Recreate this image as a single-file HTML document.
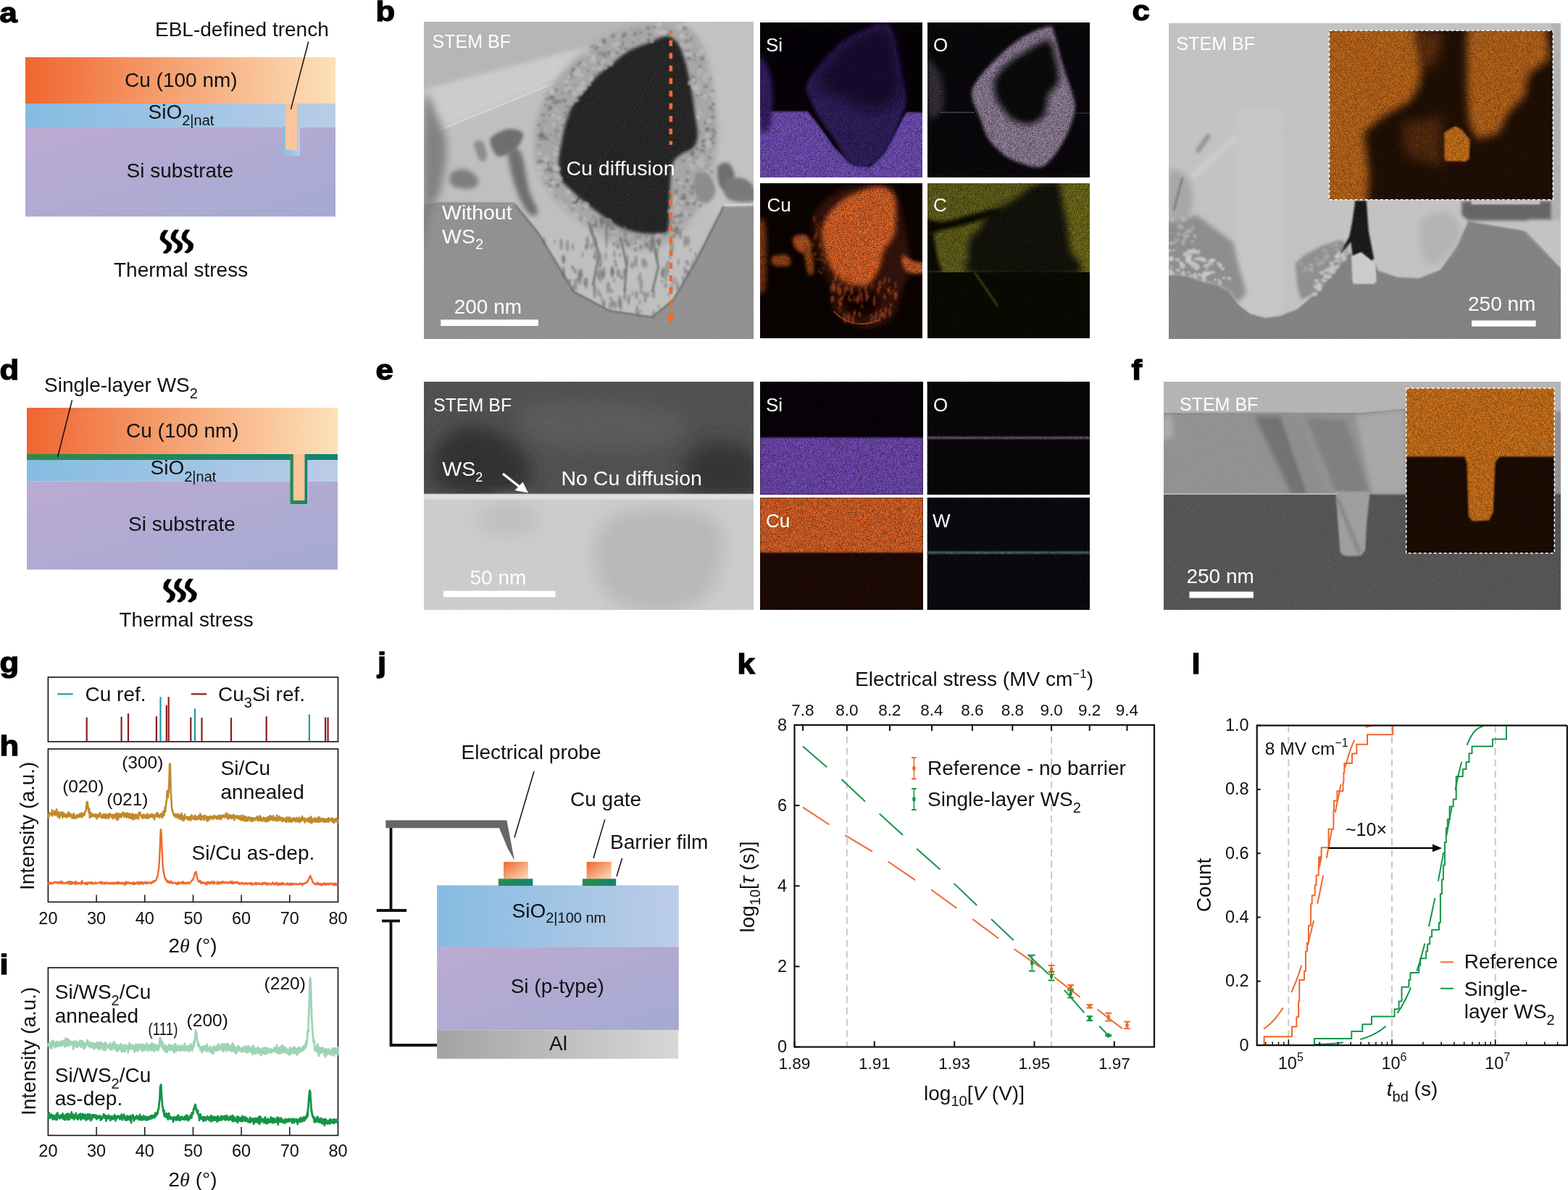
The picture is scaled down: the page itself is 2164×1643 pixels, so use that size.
<!DOCTYPE html>
<html><head><meta charset="utf-8"><title>Figure</title>
<style>html,body{margin:0;padding:0;background:#fff;} svg{display:block;} text{font-family:"Liberation Sans",Arial,sans-serif;}</style>
</head><body>
<svg width="2164" height="1643" viewBox="0 0 2164 1643">
<defs>
<linearGradient id="gCu" x1="0" y1="0" x2="1" y2="0"><stop offset="0" stop-color="#ef6530"/><stop offset="0.5" stop-color="#f6a576"/><stop offset="1" stop-color="#fde0b9"/></linearGradient>
<linearGradient id="gSiO" x1="0" y1="0" x2="1" y2="0"><stop offset="0" stop-color="#85bbe2"/><stop offset="1" stop-color="#bacce7"/></linearGradient>
<linearGradient id="gSi" x1="0" y1="0" x2="1" y2="1"><stop offset="0" stop-color="#bcaad2"/><stop offset="1" stop-color="#a5aad3"/></linearGradient>
<linearGradient id="gGr" x1="0" y1="0" x2="1" y2="0"><stop offset="0" stop-color="#2f8a48"/><stop offset="1" stop-color="#0f8474"/></linearGradient>
<linearGradient id="gAl" x1="0" y1="0" x2="1" y2="0"><stop offset="0" stop-color="#a3a3a3"/><stop offset="1" stop-color="#d8d8d8"/></linearGradient>
<linearGradient id="gCuG" x1="0" y1="0" x2="1" y2="1"><stop offset="0" stop-color="#ef6530"/><stop offset="1" stop-color="#fde0b9"/></linearGradient>
<linearGradient id="gTr" x1="0" y1="0" x2="1" y2="0"><stop offset="0" stop-color="#85bbe2"/><stop offset="1" stop-color="#bacce7"/></linearGradient>
<filter id="bl1" x="-50%" y="-50%" width="200%" height="200%"><feGaussianBlur stdDeviation="1"/></filter><filter id="bl2" x="-50%" y="-50%" width="200%" height="200%"><feGaussianBlur stdDeviation="2"/></filter><filter id="bl3" x="-50%" y="-50%" width="200%" height="200%"><feGaussianBlur stdDeviation="3"/></filter><filter id="bl4" x="-50%" y="-50%" width="200%" height="200%"><feGaussianBlur stdDeviation="4"/></filter><filter id="bl6" x="-50%" y="-50%" width="200%" height="200%"><feGaussianBlur stdDeviation="6"/></filter><filter id="bl8" x="-50%" y="-50%" width="200%" height="200%"><feGaussianBlur stdDeviation="8"/></filter><filter id="bl12" x="-50%" y="-50%" width="200%" height="200%"><feGaussianBlur stdDeviation="12"/></filter><filter id="grain" x="0" y="0" width="100%" height="100%"><feTurbulence type="fractalNoise" baseFrequency="0.9" numOctaves="2" seed="3"/><feColorMatrix type="matrix" values="0 0 0 0 0.5  0 0 0 0 0.5  0 0 0 0 0.5  1.2 0 0 0 -0.35"/></filter><filter id="speck" x="0" y="0" width="100%" height="100%"><feTurbulence type="fractalNoise" baseFrequency="1.1" numOctaves="1" seed="5"/><feColorMatrix type="matrix" values="0 0 0 0 0  0 0 0 0 0  0 0 0 0 0  0 0 0 -2.2 1.25"/></filter><clipPath id="cb"><rect x="585" y="30" width="455" height="438"/></clipPath><filter id="spk" x="0" y="0" width="100%" height="100%"><feTurbulence type="fractalNoise" baseFrequency="1.3" numOctaves="1" seed="11"/><feColorMatrix type="matrix" values="0 0 0 0 0  0 0 0 0 0  0 0 0 0 0  3.2 0 0 0 -1.25"/></filter><clipPath id="cbsi"><rect x="1049" y="31" width="224" height="214"/></clipPath><clipPath id="cbo"><rect x="1280" y="31" width="224" height="214"/></clipPath><clipPath id="cbcu"><rect x="1049" y="253" width="224" height="214"/></clipPath><clipPath id="cbc"><rect x="1280" y="253" width="224" height="214"/></clipPath><clipPath id="cc"><rect x="1613" y="32" width="541" height="436"/></clipPath><clipPath id="cci"><rect x="1834.5" y="42.2" width="308.8000000000002" height="233.60000000000002"/></clipPath><clipPath id="ce"><rect x="585" y="527" width="455" height="315"/></clipPath><clipPath id="cesi"><rect x="1049" y="527" width="225" height="156"/></clipPath><clipPath id="ceo"><rect x="1279.5" y="527" width="224.5" height="156"/></clipPath><clipPath id="cecu"><rect x="1049" y="687" width="225" height="155"/></clipPath><clipPath id="cew"><rect x="1279.5" y="687" width="224.5" height="155"/></clipPath><clipPath id="cf"><rect x="1606" y="527" width="548" height="315"/></clipPath><clipPath id="cfi"><rect x="1940.7014787430685" y="535.8955637707949" width="204.57208872458386" height="227.83826247689456"/></clipPath><linearGradient id="gSiO2" x1="0" y1="0" x2="1" y2="0"><stop offset="0" stop-color="#86bbe2"/><stop offset="1" stop-color="#bccde8"/></linearGradient></defs>
<rect width="2164" height="1643" fill="#fff"/>
<text transform="translate(-0.5,31) scale(1.12,1)" font-size="39" font-weight="bold" fill="#000" stroke="#000" stroke-width="1.3">a</text>
<text transform="translate(518.5,29) scale(1.12,1)" font-size="39" font-weight="bold" fill="#000" stroke="#000" stroke-width="1.3">b</text>
<text transform="translate(1562.5,28) scale(1.12,1)" font-size="39" font-weight="bold" fill="#000" stroke="#000" stroke-width="1.3">c</text>
<text transform="translate(-0.5,524) scale(1.12,1)" font-size="39" font-weight="bold" fill="#000" stroke="#000" stroke-width="1.3">d</text>
<text transform="translate(518.5,524) scale(1.12,1)" font-size="39" font-weight="bold" fill="#000" stroke="#000" stroke-width="1.3">e</text>
<text transform="translate(1561.5,524) scale(1.12,1)" font-size="39" font-weight="bold" fill="#000" stroke="#000" stroke-width="1.3">f</text>
<text transform="translate(-0.5,928) scale(1.12,1)" font-size="39" font-weight="bold" fill="#000" stroke="#000" stroke-width="1.3">g</text>
<text transform="translate(-0.5,1043) scale(1.12,1)" font-size="39" font-weight="bold" fill="#000" stroke="#000" stroke-width="1.3">h</text>
<text transform="translate(-0.5,1345) scale(1.12,1)" font-size="39" font-weight="bold" fill="#000" stroke="#000" stroke-width="1.3">i</text>
<text transform="translate(521.0,928) scale(1.12,1)" font-size="39" font-weight="bold" fill="#000" stroke="#000" stroke-width="1.3">j</text>
<text transform="translate(1017.5,930) scale(1.12,1)" font-size="39" font-weight="bold" fill="#000" stroke="#000" stroke-width="1.3">k</text>
<text transform="translate(1644.5,930) scale(1.12,1)" font-size="39" font-weight="bold" fill="#000" stroke="#000" stroke-width="1.3">l</text>
<rect x="35.0" y="79.0" width="428.0" height="64.0" fill="url(#gCu)" />
<rect x="35.0" y="143.0" width="428.0" height="33.0" fill="url(#gSiO)" />
<rect x="35.0" y="176.0" width="428.0" height="123.0" fill="url(#gSi)" />
<rect x="390.0" y="175.0" width="24.0" height="40.0" fill="url(#gTr)" />
<rect x="394.0" y="143.0" width="16.0" height="64.0" fill="#fbc49a" />
<line x1="425.7" y1="57.5" x2="401.4" y2="150.9" stroke="#111" stroke-width="1.5" />
<text x="214.0" y="50.0" font-size="28" text-anchor="start" fill="#111" >EBL-defined trench</text>
<text x="172.0" y="120.0" font-size="28" text-anchor="start" fill="#111" >Cu (100 nm)</text>
<text x="204.5" y="163.6" font-size="28" text-anchor="start" fill="#111" >SiO<tspan font-size="20" dy="9.5">2|nat</tspan></text>
<text x="174.6" y="245.0" font-size="28" text-anchor="start" fill="#111" >Si substrate</text>
<polygon points="226.5,317.8 222.3,322.6 221.0,328.1 221.2,330.7 224.2,333.9 229.4,337.8 230.4,340.7 229.4,344.3 224.9,348.5 226.8,349.8 230.1,349.8 235.6,345.6 236.9,341.1 236.9,337.5 234.6,334.9 228.1,330.1 227.1,327.8 228.1,324.2 232.0,318.1" fill="#000" stroke="#000" stroke-width="0.6" stroke-linejoin="round"/>
<polygon points="241.4,317.2 237.2,322.0 235.9,327.5 236.1,330.1 239.1,333.3 244.3,337.2 245.3,340.1 244.3,343.7 239.8,347.9 241.7,349.2 245.0,349.2 250.5,345.0 251.8,340.5 251.8,336.9 249.5,334.3 243.0,329.5 242.0,327.2 243.0,323.6 246.9,317.5" fill="#000" stroke="#000" stroke-width="0.6" stroke-linejoin="round"/>
<polygon points="256.3,317.2 252.1,322.0 250.8,327.5 251.0,330.1 254.0,333.3 259.2,337.2 260.2,340.1 259.2,343.7 254.7,347.9 256.6,349.2 259.9,349.2 265.4,345.0 266.7,340.5 266.7,336.9 264.4,334.3 257.9,329.5 256.9,327.2 257.9,323.6 261.8,317.5" fill="#000" stroke="#000" stroke-width="0.6" stroke-linejoin="round"/>
<text x="157.0" y="382.0" font-size="28" text-anchor="start" fill="#111" >Thermal stress</text>
<rect x="37.0" y="563.0" width="429.0" height="64.0" fill="url(#gCu)" />
<rect x="37.0" y="627.0" width="429.0" height="8.0" fill="url(#gGr)" />
<rect x="37.0" y="635.0" width="429.0" height="29.5" fill="url(#gSiO)" />
<rect x="37.0" y="664.5" width="429.0" height="122.0" fill="url(#gSi)" />
<rect x="399.5" y="660.0" width="26.0" height="37.0" fill="url(#gTr)" />
<rect x="400.5" y="627.0" width="23.7" height="69.0" fill="url(#gGr)" />
<rect x="404.8" y="627.0" width="15.7" height="64.0" fill="#fbc49a" />
<line x1="99.5" y1="552.5" x2="79.5" y2="631.0" stroke="#111" stroke-width="1.5" />
<text x="61.0" y="541.0" font-size="28" text-anchor="start" fill="#111" >Single-layer WS<tspan font-size="20" dy="9">2</tspan></text>
<text x="174.0" y="604.0" font-size="28" text-anchor="start" fill="#111" >Cu (100 nm)</text>
<text x="207.5" y="655.0" font-size="28" text-anchor="start" fill="#111" >SiO<tspan font-size="20" dy="9.5">2|nat</tspan></text>
<text x="177.0" y="733.0" font-size="28" text-anchor="start" fill="#111" >Si substrate</text>
<polygon points="231.1,799.8 226.9,804.6 225.6,810.1 225.8,812.7 228.8,815.9 234.0,819.8 235.0,822.7 234.0,826.3 229.5,830.5 231.4,831.8 234.7,831.8 240.2,827.6 241.5,823.1 241.5,819.5 239.2,816.9 232.7,812.1 231.7,809.8 232.7,806.2 236.6,800.1" fill="#000" stroke="#000" stroke-width="0.6" stroke-linejoin="round"/>
<polygon points="246.0,799.2 241.8,804.0 240.5,809.5 240.7,812.1 243.7,815.3 248.9,819.2 249.9,822.1 248.9,825.7 244.4,829.9 246.3,831.2 249.6,831.2 255.1,827.0 256.4,822.5 256.4,818.9 254.1,816.3 247.6,811.5 246.6,809.2 247.6,805.6 251.5,799.5" fill="#000" stroke="#000" stroke-width="0.6" stroke-linejoin="round"/>
<polygon points="260.9,799.2 256.7,804.0 255.4,809.5 255.6,812.1 258.6,815.3 263.8,819.2 264.8,822.1 263.8,825.7 259.3,829.9 261.2,831.2 264.5,831.2 270.0,827.0 271.3,822.5 271.3,818.9 269.0,816.3 262.5,811.5 261.5,809.2 262.5,805.6 266.4,799.5" fill="#000" stroke="#000" stroke-width="0.6" stroke-linejoin="round"/>
<text x="164.5" y="865.0" font-size="28" text-anchor="start" fill="#111" >Thermal stress</text>
<g clip-path="url(#cb)">
<rect x="585.0" y="30.0" width="455.0" height="438.0" fill="#b6b6b6" />
<polygon points="560.0,190.0 612.0,177.0 815.0,94.0 1060.0,40.0 1060.0,480.0 560.0,480.0" fill="#c0c0c0" />
<polygon points="560.0,130.0 815.0,63.0 1060.0,5.0 1060.0,40.0 815.0,94.0 612.0,177.0 560.0,192.0" fill="#cecece" filter="url(#bl3)"/>
<polyline points="585,188 612,177 815,94 1060,40" fill="none" stroke="#d8d8d8" stroke-width="2"/>
<path d="M965.0,20.0 C979.2,6.7 1044.2,-26.7 1060.0,20.0 C1075.8,66.7 1074.2,255.0 1060.0,300.0 C1045.8,345.0 987.5,306.7 975.0,290.0 C962.5,273.3 985.0,231.7 985.0,200.0 C985.0,168.3 978.3,130.0 975.0,100.0 C971.7,70.0 950.8,33.3 965.0,20.0 Z" fill="#c3c3c3" filter="url(#bl8)"/>
<polygon points="563.8,292.2 604.7,280.5 709.9,282.0 742.1,321.4 791.8,403.2 841.4,429.5 899.9,438.3 929.1,414.9 958.3,365.3 999.2,284.9 1060.6,282.0 1060.6,496.8 563.8,496.8" fill="#8f8f8f" filter="url(#bl2)"/>
<path d="M584.9,140.3 C588.2,111.5 599.5,152.9 604.7,163.6 C610.0,174.4 615.9,188.0 616.4,204.5 C616.9,221.1 611.6,248.4 607.7,263.0 C603.8,277.6 596.9,280.0 593.1,292.2 C589.3,304.4 586.2,361.4 584.9,336.0 C583.5,310.7 581.6,169.0 584.9,140.3 Z" fill="#6e6e6e" filter="url(#bl6)" opacity="0.8"/>
<path d="M915.0,32.0 C929.2,32.3 945.0,32.0 955.0,40.0 C965.0,48.0 970.0,65.0 975.0,80.0 C980.0,95.0 982.5,113.3 985.0,130.0 C987.5,146.7 990.0,163.3 990.0,180.0 C990.0,196.7 987.5,215.0 985.0,230.0 C982.5,245.0 980.0,258.3 975.0,270.0 C970.0,281.7 962.5,290.0 955.0,300.0 C947.5,310.0 942.5,322.5 930.0,330.0 C917.5,337.5 895.0,345.0 880.0,345.0 C865.0,345.0 853.3,336.7 840.0,330.0 C826.7,323.3 812.5,314.2 800.0,305.0 C787.5,295.8 774.7,286.7 765.0,275.0 C755.3,263.3 746.5,250.8 742.0,235.0 C737.5,219.2 736.3,196.7 738.0,180.0 C739.7,163.3 745.0,149.2 752.0,135.0 C759.0,120.8 768.7,107.5 780.0,95.0 C791.3,82.5 805.0,69.5 820.0,60.0 C835.0,50.5 854.2,42.7 870.0,38.0 C885.8,33.3 900.8,31.7 915.0,32.0 Z" fill="#a6a6a6" filter="url(#bl4)"/>
<path d="M918.9,50.1 C912.5,50.4 903.7,55.9 895.2,59.2 C886.7,62.6 876.6,65.0 867.8,70.2 C859.0,75.4 849.8,84.2 842.2,90.3 C834.6,96.4 828.9,100.0 822.2,106.7 C815.5,113.4 807.6,123.7 802.1,130.4 C796.6,137.1 792.9,139.9 789.3,146.9 C785.6,153.9 782.6,163.9 780.2,172.4 C777.8,180.9 776.2,189.8 774.7,198.0 C773.2,206.2 771.3,213.8 771.0,221.7 C770.7,229.6 770.5,239.0 772.9,245.4 C775.3,251.8 780.4,254.8 785.6,260.0 C790.8,265.2 797.8,271.3 803.9,276.5 C810.0,281.7 816.1,286.5 822.2,291.1 C828.3,295.7 834.3,299.9 840.4,303.9 C846.5,307.8 851.1,311.8 858.7,314.8 C866.3,317.8 877.0,320.9 886.1,322.1 C895.2,323.3 907.4,323.3 913.5,322.1 C919.6,320.9 920.8,323.9 922.6,314.8 C924.4,305.7 923.5,282.0 924.4,267.4 C925.3,252.8 925.4,236.3 928.1,227.2 C930.8,218.1 935.9,216.5 940.8,212.6 C945.7,208.7 953.6,208.1 957.3,203.5 C961.0,198.9 962.5,192.8 962.8,185.2 C963.1,177.6 960.3,166.9 959.1,157.8 C957.9,148.7 956.9,139.5 955.4,130.4 C953.9,121.3 952.1,112.1 950.0,103.0 C947.9,93.9 945.5,83.2 942.7,75.6 C940.0,68.0 937.5,61.6 933.5,57.4 C929.5,53.1 925.3,49.8 918.9,50.1 Z" fill="#1c1c1c" filter="url(#bl2)"/>
<line x1="795" y1="280" x2="925" y2="70" stroke="#262626" stroke-width="1.5" filter="url(#bl1)"/>
<g filter="url(#bl1)"><ellipse cx="792.4" cy="280.1" rx="3.1" ry="2.8" fill="#626262" opacity="0.45"/><ellipse cx="885.5" cy="53.7" rx="3.0" ry="2.2" fill="#626262" opacity="0.45"/><ellipse cx="958.5" cy="224.8" rx="1.3" ry="1.0" fill="#626262" opacity="0.45"/><ellipse cx="863.4" cy="68.2" rx="3.4" ry="2.8" fill="#626262" opacity="0.45"/><ellipse cx="956.2" cy="105.5" rx="3.0" ry="2.2" fill="#626262" opacity="0.45"/><ellipse cx="928.2" cy="270.8" rx="2.5" ry="2.6" fill="#626262" opacity="0.45"/><ellipse cx="768.9" cy="181.1" rx="3.1" ry="2.2" fill="#626262" opacity="0.45"/><ellipse cx="815.3" cy="64.3" rx="1.4" ry="1.5" fill="#626262" opacity="0.45"/><ellipse cx="980.3" cy="216.8" rx="3.2" ry="2.9" fill="#626262" opacity="0.45"/><ellipse cx="958.8" cy="82.8" rx="1.4" ry="1.5" fill="#626262" opacity="0.45"/><ellipse cx="948.9" cy="48.3" rx="1.8" ry="1.4" fill="#626262" opacity="0.45"/><ellipse cx="843.7" cy="85.4" rx="1.4" ry="1.1" fill="#626262" opacity="0.45"/><ellipse cx="949.2" cy="280.9" rx="3.2" ry="3.1" fill="#626262" opacity="0.45"/><ellipse cx="910.7" cy="330.6" rx="1.3" ry="1.2" fill="#626262" opacity="0.45"/><ellipse cx="966.2" cy="73.8" rx="1.4" ry="0.9" fill="#626262" opacity="0.45"/><ellipse cx="744.4" cy="171.9" rx="1.5" ry="1.7" fill="#626262" opacity="0.45"/><ellipse cx="876.6" cy="46.5" rx="2.8" ry="3.2" fill="#626262" opacity="0.45"/><ellipse cx="933.1" cy="279.5" rx="1.2" ry="1.1" fill="#626262" opacity="0.45"/><ellipse cx="965.0" cy="124.3" rx="2.4" ry="2.2" fill="#626262" opacity="0.45"/><ellipse cx="984.2" cy="143.2" rx="1.9" ry="2.3" fill="#626262" opacity="0.45"/><ellipse cx="894.6" cy="38.2" rx="2.7" ry="2.3" fill="#626262" opacity="0.45"/><ellipse cx="750.3" cy="167.8" rx="1.8" ry="1.8" fill="#626262" opacity="0.45"/><ellipse cx="944.0" cy="258.5" rx="2.2" ry="1.7" fill="#626262" opacity="0.45"/><ellipse cx="897.2" cy="333.5" rx="1.4" ry="1.2" fill="#626262" opacity="0.45"/><ellipse cx="962.4" cy="276.0" rx="2.6" ry="2.8" fill="#626262" opacity="0.45"/><ellipse cx="836.6" cy="77.5" rx="2.5" ry="1.6" fill="#626262" opacity="0.45"/><ellipse cx="977.7" cy="132.8" rx="1.8" ry="2.0" fill="#626262" opacity="0.45"/><ellipse cx="975.1" cy="178.2" rx="2.2" ry="2.1" fill="#626262" opacity="0.45"/><ellipse cx="808.7" cy="86.6" rx="2.1" ry="1.6" fill="#626262" opacity="0.45"/><ellipse cx="973.6" cy="252.5" rx="1.2" ry="1.1" fill="#626262" opacity="0.45"/><ellipse cx="747.9" cy="222.3" rx="2.8" ry="2.1" fill="#626262" opacity="0.45"/><ellipse cx="739.9" cy="202.4" rx="1.4" ry="1.1" fill="#626262" opacity="0.45"/><ellipse cx="852.4" cy="312.0" rx="2.1" ry="1.4" fill="#626262" opacity="0.45"/><ellipse cx="937.5" cy="289.4" rx="2.4" ry="1.5" fill="#626262" opacity="0.45"/><ellipse cx="785.3" cy="158.1" rx="2.5" ry="1.8" fill="#626262" opacity="0.45"/><ellipse cx="940.2" cy="296.0" rx="3.3" ry="3.8" fill="#626262" opacity="0.45"/><ellipse cx="742.4" cy="214.2" rx="1.4" ry="1.6" fill="#626262" opacity="0.45"/><ellipse cx="926.2" cy="269.7" rx="1.6" ry="1.0" fill="#626262" opacity="0.45"/><ellipse cx="943.4" cy="221.8" rx="2.6" ry="2.3" fill="#626262" opacity="0.45"/><ellipse cx="755.0" cy="192.2" rx="2.8" ry="2.0" fill="#626262" opacity="0.45"/><ellipse cx="747.4" cy="187.0" rx="2.8" ry="2.7" fill="#626262" opacity="0.45"/><ellipse cx="972.6" cy="200.6" rx="2.1" ry="2.2" fill="#626262" opacity="0.45"/><ellipse cx="941.3" cy="315.7" rx="2.8" ry="2.0" fill="#626262" opacity="0.45"/><ellipse cx="934.0" cy="314.6" rx="2.4" ry="2.8" fill="#626262" opacity="0.45"/><ellipse cx="982.5" cy="154.1" rx="3.4" ry="3.9" fill="#626262" opacity="0.45"/><ellipse cx="972.6" cy="199.8" rx="3.2" ry="2.3" fill="#626262" opacity="0.45"/><ellipse cx="933.4" cy="263.6" rx="3.2" ry="2.6" fill="#626262" opacity="0.45"/><ellipse cx="758.9" cy="158.9" rx="1.6" ry="1.5" fill="#626262" opacity="0.45"/><ellipse cx="971.8" cy="195.7" rx="3.3" ry="3.0" fill="#626262" opacity="0.45"/><ellipse cx="932.3" cy="267.2" rx="2.7" ry="2.0" fill="#626262" opacity="0.45"/><ellipse cx="787.6" cy="103.1" rx="2.9" ry="3.1" fill="#626262" opacity="0.45"/><ellipse cx="859.7" cy="49.2" rx="2.1" ry="2.2" fill="#626262" opacity="0.45"/><ellipse cx="956.0" cy="267.2" rx="2.1" ry="1.5" fill="#626262" opacity="0.45"/><ellipse cx="935.0" cy="280.2" rx="3.3" ry="2.4" fill="#626262" opacity="0.45"/><ellipse cx="757.5" cy="128.4" rx="2.7" ry="1.8" fill="#626262" opacity="0.45"/><ellipse cx="793.0" cy="96.8" rx="2.3" ry="2.4" fill="#626262" opacity="0.45"/><ellipse cx="830.8" cy="92.5" rx="1.5" ry="1.0" fill="#626262" opacity="0.45"/><ellipse cx="903.0" cy="38.6" rx="2.9" ry="2.7" fill="#626262" opacity="0.45"/><ellipse cx="980.5" cy="149.0" rx="2.7" ry="2.6" fill="#626262" opacity="0.45"/><ellipse cx="928.3" cy="231.0" rx="2.3" ry="2.0" fill="#626262" opacity="0.45"/><ellipse cx="794.3" cy="279.1" rx="1.2" ry="1.2" fill="#626262" opacity="0.45"/><ellipse cx="759.9" cy="185.4" rx="1.6" ry="1.7" fill="#626262" opacity="0.45"/><ellipse cx="872.7" cy="68.2" rx="2.1" ry="2.3" fill="#626262" opacity="0.45"/><ellipse cx="873.8" cy="58.6" rx="1.8" ry="1.7" fill="#626262" opacity="0.45"/><ellipse cx="746.6" cy="188.0" rx="3.3" ry="3.5" fill="#626262" opacity="0.45"/><ellipse cx="779.3" cy="138.7" rx="2.7" ry="2.7" fill="#626262" opacity="0.45"/><ellipse cx="760.8" cy="133.7" rx="3.0" ry="3.2" fill="#626262" opacity="0.45"/><ellipse cx="775.6" cy="128.5" rx="1.5" ry="1.5" fill="#626262" opacity="0.45"/><ellipse cx="832.3" cy="302.8" rx="2.2" ry="2.2" fill="#626262" opacity="0.45"/><ellipse cx="956.9" cy="137.4" rx="2.7" ry="2.0" fill="#626262" opacity="0.45"/><ellipse cx="820.8" cy="311.0" rx="3.1" ry="2.2" fill="#626262" opacity="0.45"/><ellipse cx="908.3" cy="333.8" rx="3.2" ry="2.4" fill="#626262" opacity="0.45"/><ellipse cx="780.2" cy="155.8" rx="2.6" ry="2.0" fill="#626262" opacity="0.45"/><ellipse cx="805.3" cy="280.6" rx="2.6" ry="2.7" fill="#626262" opacity="0.45"/><ellipse cx="937.1" cy="305.0" rx="3.3" ry="3.6" fill="#626262" opacity="0.45"/><ellipse cx="984.6" cy="188.3" rx="2.8" ry="2.6" fill="#626262" opacity="0.45"/><ellipse cx="982.3" cy="237.0" rx="2.2" ry="2.2" fill="#626262" opacity="0.45"/><ellipse cx="812.3" cy="72.5" rx="2.1" ry="1.4" fill="#626262" opacity="0.45"/><ellipse cx="750.2" cy="231.3" rx="1.5" ry="1.3" fill="#626262" opacity="0.45"/><ellipse cx="767.2" cy="141.2" rx="2.8" ry="3.1" fill="#626262" opacity="0.45"/><ellipse cx="772.0" cy="140.0" rx="3.4" ry="2.7" fill="#626262" opacity="0.45"/><ellipse cx="780.1" cy="140.3" rx="1.7" ry="1.0" fill="#626262" opacity="0.45"/><ellipse cx="952.1" cy="297.1" rx="2.6" ry="1.8" fill="#626262" opacity="0.45"/><ellipse cx="972.0" cy="128.5" rx="1.8" ry="1.3" fill="#626262" opacity="0.45"/><ellipse cx="953.4" cy="265.5" rx="2.9" ry="2.1" fill="#626262" opacity="0.45"/><ellipse cx="893.2" cy="339.3" rx="3.2" ry="3.7" fill="#626262" opacity="0.45"/><ellipse cx="759.4" cy="255.7" rx="2.3" ry="2.7" fill="#626262" opacity="0.45"/><ellipse cx="920.1" cy="41.7" rx="1.9" ry="1.3" fill="#626262" opacity="0.45"/><ellipse cx="981.2" cy="169.9" rx="2.5" ry="2.1" fill="#626262" opacity="0.45"/><ellipse cx="785.0" cy="125.4" rx="3.0" ry="2.2" fill="#626262" opacity="0.45"/><ellipse cx="778.2" cy="160.7" rx="1.9" ry="1.5" fill="#626262" opacity="0.45"/><ellipse cx="767.2" cy="198.9" rx="1.3" ry="0.9" fill="#626262" opacity="0.45"/><ellipse cx="788.9" cy="107.2" rx="2.0" ry="1.5" fill="#626262" opacity="0.45"/><ellipse cx="948.9" cy="238.0" rx="2.3" ry="2.4" fill="#626262" opacity="0.45"/><ellipse cx="897.5" cy="322.4" rx="1.8" ry="1.8" fill="#626262" opacity="0.45"/><ellipse cx="984.2" cy="197.3" rx="3.3" ry="2.2" fill="#626262" opacity="0.45"/><ellipse cx="802.8" cy="302.9" rx="2.7" ry="2.6" fill="#626262" opacity="0.45"/><ellipse cx="767.2" cy="123.7" rx="3.4" ry="2.5" fill="#626262" opacity="0.45"/><ellipse cx="833.0" cy="93.6" rx="2.7" ry="3.3" fill="#626262" opacity="0.45"/><ellipse cx="972.7" cy="229.1" rx="3.2" ry="2.8" fill="#626262" opacity="0.45"/><ellipse cx="753.0" cy="145.4" rx="2.1" ry="1.7" fill="#626262" opacity="0.45"/><ellipse cx="845.8" cy="49.9" rx="2.8" ry="3.2" fill="#626262" opacity="0.45"/><ellipse cx="797.0" cy="90.1" rx="2.0" ry="2.1" fill="#626262" opacity="0.45"/><ellipse cx="795.1" cy="273.3" rx="1.6" ry="1.5" fill="#626262" opacity="0.45"/><ellipse cx="954.6" cy="220.1" rx="1.6" ry="1.3" fill="#626262" opacity="0.45"/><ellipse cx="822.9" cy="68.0" rx="2.1" ry="2.1" fill="#626262" opacity="0.45"/><ellipse cx="858.3" cy="58.3" rx="2.9" ry="2.4" fill="#626262" opacity="0.45"/><ellipse cx="818.4" cy="63.7" rx="2.1" ry="2.1" fill="#626262" opacity="0.45"/><ellipse cx="943.6" cy="270.4" rx="3.2" ry="3.5" fill="#626262" opacity="0.45"/><ellipse cx="934.8" cy="321.2" rx="3.0" ry="2.5" fill="#626262" opacity="0.45"/><ellipse cx="965.9" cy="91.4" rx="2.0" ry="2.2" fill="#626262" opacity="0.45"/><ellipse cx="850.5" cy="333.0" rx="1.4" ry="1.1" fill="#626262" opacity="0.45"/><ellipse cx="976.6" cy="178.9" rx="3.0" ry="3.6" fill="#626262" opacity="0.45"/><ellipse cx="821.0" cy="103.2" rx="1.8" ry="1.9" fill="#626262" opacity="0.45"/><ellipse cx="773.2" cy="203.1" rx="3.3" ry="2.4" fill="#626262" opacity="0.45"/><ellipse cx="981.5" cy="192.7" rx="2.3" ry="2.7" fill="#626262" opacity="0.45"/><ellipse cx="795.2" cy="118.5" rx="1.7" ry="1.2" fill="#626262" opacity="0.45"/><ellipse cx="922.0" cy="48.1" rx="2.6" ry="2.5" fill="#626262" opacity="0.45"/><ellipse cx="971.7" cy="120.0" rx="1.4" ry="1.3" fill="#626262" opacity="0.45"/><ellipse cx="970.3" cy="247.2" rx="3.1" ry="2.3" fill="#626262" opacity="0.45"/><ellipse cx="744.3" cy="200.8" rx="1.5" ry="1.8" fill="#626262" opacity="0.45"/><ellipse cx="896.4" cy="47.8" rx="2.9" ry="2.3" fill="#626262" opacity="0.45"/><ellipse cx="899.3" cy="328.8" rx="1.6" ry="1.4" fill="#626262" opacity="0.45"/><ellipse cx="969.3" cy="77.0" rx="1.8" ry="1.1" fill="#626262" opacity="0.45"/><ellipse cx="817.1" cy="302.7" rx="1.5" ry="1.2" fill="#626262" opacity="0.45"/><ellipse cx="843.5" cy="330.9" rx="1.9" ry="1.6" fill="#626262" opacity="0.45"/><ellipse cx="790.2" cy="288.5" rx="1.6" ry="1.8" fill="#626262" opacity="0.45"/><ellipse cx="958.9" cy="115.5" rx="2.4" ry="2.4" fill="#626262" opacity="0.45"/><ellipse cx="748.7" cy="182.7" rx="3.4" ry="4.0" fill="#626262" opacity="0.45"/><ellipse cx="974.0" cy="121.0" rx="1.2" ry="0.9" fill="#626262" opacity="0.45"/><ellipse cx="754.9" cy="136.6" rx="2.9" ry="2.3" fill="#626262" opacity="0.45"/><ellipse cx="867.0" cy="337.2" rx="3.1" ry="3.2" fill="#626262" opacity="0.45"/><ellipse cx="832.9" cy="55.9" rx="3.2" ry="3.5" fill="#626262" opacity="0.45"/><ellipse cx="931.3" cy="300.9" rx="2.5" ry="3.0" fill="#626262" opacity="0.45"/><ellipse cx="758.3" cy="150.4" rx="2.5" ry="2.7" fill="#626262" opacity="0.45"/><ellipse cx="938.7" cy="219.9" rx="1.2" ry="1.2" fill="#626262" opacity="0.45"/><ellipse cx="766.9" cy="271.0" rx="1.6" ry="1.6" fill="#626262" opacity="0.45"/><ellipse cx="756.0" cy="224.3" rx="2.1" ry="2.1" fill="#626262" opacity="0.45"/><ellipse cx="771.6" cy="246.7" rx="3.3" ry="2.4" fill="#626262" opacity="0.45"/><ellipse cx="934.7" cy="297.6" rx="3.5" ry="3.3" fill="#626262" opacity="0.45"/><ellipse cx="757.6" cy="234.5" rx="3.0" ry="2.5" fill="#626262" opacity="0.45"/><ellipse cx="929.9" cy="306.2" rx="3.2" ry="2.6" fill="#626262" opacity="0.45"/><ellipse cx="951.5" cy="79.8" rx="2.5" ry="2.1" fill="#626262" opacity="0.45"/><ellipse cx="956.2" cy="258.1" rx="2.7" ry="3.0" fill="#626262" opacity="0.45"/><ellipse cx="763.9" cy="141.8" rx="1.7" ry="1.7" fill="#626262" opacity="0.45"/><ellipse cx="768.1" cy="171.8" rx="2.5" ry="1.7" fill="#626262" opacity="0.45"/><ellipse cx="984.1" cy="145.0" rx="2.2" ry="1.7" fill="#626262" opacity="0.45"/><ellipse cx="953.2" cy="54.4" rx="2.0" ry="2.0" fill="#626262" opacity="0.45"/><ellipse cx="860.0" cy="51.6" rx="1.9" ry="1.6" fill="#626262" opacity="0.45"/><ellipse cx="958.4" cy="280.9" rx="3.5" ry="2.6" fill="#626262" opacity="0.45"/><ellipse cx="978.4" cy="171.2" rx="2.0" ry="1.8" fill="#626262" opacity="0.45"/><ellipse cx="748.5" cy="177.7" rx="1.4" ry="1.6" fill="#626262" opacity="0.45"/><ellipse cx="792.2" cy="278.3" rx="2.6" ry="2.2" fill="#626262" opacity="0.45"/><ellipse cx="983.4" cy="170.5" rx="1.5" ry="1.1" fill="#626262" opacity="0.45"/><ellipse cx="864.2" cy="332.3" rx="2.6" ry="2.7" fill="#626262" opacity="0.45"/><ellipse cx="783.2" cy="147.7" rx="2.5" ry="2.1" fill="#626262" opacity="0.45"/><ellipse cx="770.5" cy="238.2" rx="3.5" ry="2.7" fill="#626262" opacity="0.45"/><ellipse cx="874.6" cy="338.7" rx="1.5" ry="1.1" fill="#626262" opacity="0.45"/><ellipse cx="963.9" cy="118.7" rx="2.7" ry="2.8" fill="#626262" opacity="0.45"/><ellipse cx="929.3" cy="319.5" rx="2.8" ry="2.5" fill="#626262" opacity="0.45"/><ellipse cx="763.5" cy="196.9" rx="1.5" ry="1.2" fill="#626262" opacity="0.45"/><ellipse cx="746.9" cy="193.2" rx="2.3" ry="1.8" fill="#626262" opacity="0.45"/><ellipse cx="969.3" cy="80.9" rx="3.2" ry="3.1" fill="#626262" opacity="0.45"/><ellipse cx="886.9" cy="60.4" rx="1.8" ry="1.4" fill="#626262" opacity="0.45"/><ellipse cx="975.3" cy="108.4" rx="2.4" ry="2.0" fill="#626262" opacity="0.45"/><ellipse cx="874.8" cy="340.3" rx="1.4" ry="1.7" fill="#626262" opacity="0.45"/><ellipse cx="981.6" cy="172.3" rx="1.4" ry="1.2" fill="#626262" opacity="0.45"/><ellipse cx="927.7" cy="276.1" rx="1.5" ry="1.4" fill="#626262" opacity="0.45"/><ellipse cx="963.5" cy="240.6" rx="2.0" ry="1.9" fill="#626262" opacity="0.45"/><ellipse cx="962.8" cy="268.2" rx="1.7" ry="1.3" fill="#626262" opacity="0.45"/><ellipse cx="759.5" cy="136.9" rx="1.6" ry="1.2" fill="#626262" opacity="0.45"/><ellipse cx="945.2" cy="39.0" rx="3.3" ry="2.3" fill="#626262" opacity="0.45"/><ellipse cx="984.0" cy="179.4" rx="2.6" ry="2.8" fill="#626262" opacity="0.45"/><ellipse cx="802.6" cy="127.3" rx="3.2" ry="3.6" fill="#626262" opacity="0.45"/><ellipse cx="824.4" cy="64.6" rx="3.1" ry="2.0" fill="#626262" opacity="0.45"/><ellipse cx="827.8" cy="86.4" rx="2.8" ry="3.2" fill="#626262" opacity="0.45"/><ellipse cx="840.7" cy="324.5" rx="1.3" ry="0.9" fill="#626262" opacity="0.45"/><ellipse cx="851.9" cy="46.1" rx="2.5" ry="1.6" fill="#626262" opacity="0.45"/><ellipse cx="752.7" cy="189.3" rx="1.2" ry="1.4" fill="#626262" opacity="0.45"/><ellipse cx="968.0" cy="130.5" rx="3.1" ry="2.1" fill="#626262" opacity="0.45"/><ellipse cx="908.1" cy="329.9" rx="2.6" ry="2.2" fill="#626262" opacity="0.45"/><ellipse cx="760.5" cy="223.9" rx="1.5" ry="1.0" fill="#626262" opacity="0.45"/><ellipse cx="877.9" cy="327.6" rx="1.8" ry="2.0" fill="#626262" opacity="0.45"/><ellipse cx="950.3" cy="79.8" rx="3.3" ry="3.5" fill="#626262" opacity="0.45"/><ellipse cx="972.9" cy="169.8" rx="2.4" ry="2.6" fill="#626262" opacity="0.45"/><ellipse cx="783.4" cy="161.6" rx="3.0" ry="2.6" fill="#626262" opacity="0.45"/><ellipse cx="834.2" cy="73.4" rx="2.1" ry="2.4" fill="#626262" opacity="0.45"/><ellipse cx="934.3" cy="317.4" rx="3.1" ry="2.7" fill="#626262" opacity="0.45"/><ellipse cx="851.8" cy="72.6" rx="2.4" ry="2.7" fill="#626262" opacity="0.45"/><ellipse cx="786.0" cy="130.7" rx="1.4" ry="1.2" fill="#626262" opacity="0.45"/><ellipse cx="836.2" cy="306.1" rx="2.1" ry="2.4" fill="#626262" opacity="0.45"/><ellipse cx="763.6" cy="136.4" rx="3.4" ry="2.6" fill="#626262" opacity="0.45"/><ellipse cx="962.3" cy="217.8" rx="1.5" ry="1.6" fill="#626262" opacity="0.45"/><ellipse cx="883.2" cy="327.3" rx="2.4" ry="1.9" fill="#626262" opacity="0.45"/><ellipse cx="956.2" cy="260.8" rx="1.7" ry="1.7" fill="#626262" opacity="0.45"/><ellipse cx="955.6" cy="212.2" rx="3.4" ry="3.1" fill="#626262" opacity="0.45"/><ellipse cx="928.3" cy="326.8" rx="3.0" ry="2.7" fill="#626262" opacity="0.45"/><ellipse cx="941.5" cy="315.7" rx="3.0" ry="2.6" fill="#626262" opacity="0.45"/><ellipse cx="880.1" cy="40.0" rx="1.6" ry="1.3" fill="#626262" opacity="0.45"/><ellipse cx="810.6" cy="84.5" rx="2.9" ry="3.5" fill="#626262" opacity="0.45"/><ellipse cx="948.7" cy="210.7" rx="1.6" ry="1.6" fill="#626262" opacity="0.45"/><ellipse cx="833.0" cy="76.5" rx="2.5" ry="1.9" fill="#626262" opacity="0.45"/><ellipse cx="878.0" cy="341.8" rx="1.7" ry="1.2" fill="#626262" opacity="0.45"/><ellipse cx="754.2" cy="253.0" rx="1.9" ry="1.4" fill="#626262" opacity="0.45"/><ellipse cx="972.9" cy="197.0" rx="1.7" ry="1.8" fill="#626262" opacity="0.45"/><ellipse cx="969.8" cy="194.5" rx="2.0" ry="1.8" fill="#626262" opacity="0.45"/><ellipse cx="800.9" cy="86.9" rx="2.9" ry="2.5" fill="#626262" opacity="0.45"/><ellipse cx="743.7" cy="224.1" rx="3.1" ry="3.4" fill="#626262" opacity="0.45"/><ellipse cx="796.1" cy="134.9" rx="1.5" ry="1.0" fill="#626262" opacity="0.45"/><ellipse cx="965.3" cy="63.4" rx="1.2" ry="1.2" fill="#626262" opacity="0.45"/><ellipse cx="759.8" cy="148.0" rx="2.8" ry="2.7" fill="#626262" opacity="0.45"/><ellipse cx="811.5" cy="98.1" rx="2.4" ry="1.5" fill="#626262" opacity="0.45"/><ellipse cx="949.0" cy="249.7" rx="3.1" ry="2.9" fill="#626262" opacity="0.45"/><ellipse cx="847.8" cy="48.0" rx="2.2" ry="1.6" fill="#626262" opacity="0.45"/><ellipse cx="978.6" cy="241.4" rx="2.2" ry="2.1" fill="#626262" opacity="0.45"/><ellipse cx="803.7" cy="299.6" rx="3.0" ry="2.6" fill="#626262" opacity="0.45"/><ellipse cx="932.2" cy="293.4" rx="3.3" ry="2.2" fill="#626262" opacity="0.45"/><ellipse cx="966.7" cy="100.4" rx="1.5" ry="1.2" fill="#626262" opacity="0.45"/><ellipse cx="900.2" cy="334.7" rx="3.0" ry="3.3" fill="#626262" opacity="0.45"/><ellipse cx="777.9" cy="137.4" rx="1.8" ry="1.5" fill="#626262" opacity="0.45"/><ellipse cx="891.3" cy="336.1" rx="2.2" ry="1.5" fill="#626262" opacity="0.45"/><ellipse cx="858.0" cy="60.9" rx="2.8" ry="2.0" fill="#626262" opacity="0.45"/><ellipse cx="758.7" cy="229.1" rx="3.3" ry="3.5" fill="#626262" opacity="0.45"/><ellipse cx="855.5" cy="66.9" rx="2.3" ry="2.5" fill="#626262" opacity="0.45"/><ellipse cx="803.7" cy="287.9" rx="1.8" ry="1.9" fill="#626262" opacity="0.45"/><ellipse cx="749.6" cy="213.5" rx="1.3" ry="1.3" fill="#626262" opacity="0.45"/><ellipse cx="843.3" cy="315.2" rx="2.1" ry="2.3" fill="#626262" opacity="0.45"/><ellipse cx="967.6" cy="206.8" rx="1.4" ry="1.3" fill="#626262" opacity="0.45"/><ellipse cx="769.4" cy="191.9" rx="1.7" ry="1.6" fill="#626262" opacity="0.45"/><ellipse cx="895.3" cy="55.7" rx="2.8" ry="3.2" fill="#626262" opacity="0.45"/><ellipse cx="750.3" cy="229.0" rx="1.5" ry="1.7" fill="#626262" opacity="0.45"/><ellipse cx="763.6" cy="226.9" rx="2.5" ry="1.5" fill="#626262" opacity="0.45"/><ellipse cx="766.7" cy="187.2" rx="2.1" ry="1.5" fill="#626262" opacity="0.45"/><ellipse cx="943.1" cy="74.9" rx="2.9" ry="2.0" fill="#626262" opacity="0.45"/><ellipse cx="943.8" cy="273.3" rx="3.2" ry="2.7" fill="#626262" opacity="0.45"/><ellipse cx="983.7" cy="161.7" rx="2.7" ry="2.9" fill="#626262" opacity="0.45"/><ellipse cx="781.4" cy="116.7" rx="1.7" ry="1.1" fill="#626262" opacity="0.45"/><ellipse cx="943.5" cy="296.2" rx="2.9" ry="2.5" fill="#626262" opacity="0.45"/><ellipse cx="970.4" cy="202.0" rx="2.5" ry="1.5" fill="#626262" opacity="0.45"/><ellipse cx="827.6" cy="99.9" rx="2.7" ry="3.2" fill="#626262" opacity="0.45"/><ellipse cx="947.8" cy="57.0" rx="3.1" ry="1.9" fill="#626262" opacity="0.45"/><ellipse cx="986.3" cy="183.0" rx="2.7" ry="2.3" fill="#626262" opacity="0.45"/><ellipse cx="974.9" cy="119.1" rx="1.8" ry="2.1" fill="#626262" opacity="0.45"/><ellipse cx="930.4" cy="323.0" rx="3.3" ry="2.5" fill="#626262" opacity="0.45"/><ellipse cx="934.2" cy="248.8" rx="2.6" ry="2.4" fill="#626262" opacity="0.45"/><ellipse cx="970.0" cy="208.4" rx="3.4" ry="2.2" fill="#626262" opacity="0.45"/><ellipse cx="828.3" cy="73.7" rx="2.9" ry="2.5" fill="#626262" opacity="0.45"/><ellipse cx="847.3" cy="317.5" rx="3.0" ry="2.7" fill="#626262" opacity="0.45"/><ellipse cx="808.8" cy="120.4" rx="2.3" ry="2.1" fill="#626262" opacity="0.45"/><ellipse cx="751.1" cy="189.5" rx="3.3" ry="3.7" fill="#626262" opacity="0.45"/><ellipse cx="983.7" cy="126.5" rx="2.5" ry="2.6" fill="#626262" opacity="0.45"/><ellipse cx="962.0" cy="205.5" rx="2.5" ry="2.5" fill="#626262" opacity="0.45"/><ellipse cx="851.9" cy="47.2" rx="1.9" ry="1.5" fill="#626262" opacity="0.45"/><ellipse cx="936.2" cy="255.0" rx="1.4" ry="1.0" fill="#626262" opacity="0.45"/><ellipse cx="959.2" cy="76.0" rx="2.6" ry="2.5" fill="#626262" opacity="0.45"/><ellipse cx="941.2" cy="275.0" rx="3.1" ry="2.1" fill="#626262" opacity="0.45"/><ellipse cx="905.7" cy="331.9" rx="1.4" ry="1.2" fill="#626262" opacity="0.45"/><ellipse cx="981.9" cy="126.7" rx="2.0" ry="1.5" fill="#626262" opacity="0.45"/><ellipse cx="864.0" cy="323.0" rx="2.0" ry="1.5" fill="#626262" opacity="0.45"/><ellipse cx="969.0" cy="254.1" rx="3.0" ry="3.5" fill="#626262" opacity="0.45"/><ellipse cx="966.0" cy="283.4" rx="2.5" ry="2.4" fill="#626262" opacity="0.45"/><ellipse cx="903.0" cy="325.2" rx="1.5" ry="1.0" fill="#626262" opacity="0.45"/><ellipse cx="931.1" cy="317.5" rx="2.4" ry="2.2" fill="#626262" opacity="0.45"/><ellipse cx="840.3" cy="73.3" rx="3.0" ry="3.0" fill="#626262" opacity="0.45"/><ellipse cx="834.8" cy="88.1" rx="2.2" ry="2.4" fill="#626262" opacity="0.45"/><ellipse cx="948.7" cy="248.0" rx="2.1" ry="2.3" fill="#626262" opacity="0.45"/><ellipse cx="964.9" cy="241.9" rx="1.3" ry="0.9" fill="#626262" opacity="0.45"/><ellipse cx="862.0" cy="47.5" rx="2.9" ry="3.0" fill="#626262" opacity="0.45"/><ellipse cx="857.4" cy="319.9" rx="2.2" ry="1.3" fill="#626262" opacity="0.45"/><ellipse cx="760.4" cy="133.3" rx="1.7" ry="1.3" fill="#626262" opacity="0.45"/><ellipse cx="761.0" cy="235.1" rx="3.2" ry="3.8" fill="#626262" opacity="0.45"/><ellipse cx="982.0" cy="211.2" rx="2.8" ry="2.6" fill="#626262" opacity="0.45"/><ellipse cx="805.6" cy="299.9" rx="1.2" ry="0.9" fill="#626262" opacity="0.45"/><ellipse cx="971.8" cy="240.6" rx="1.7" ry="1.1" fill="#626262" opacity="0.45"/><ellipse cx="872.0" cy="39.4" rx="1.2" ry="1.1" fill="#626262" opacity="0.45"/><ellipse cx="971.5" cy="269.2" rx="2.3" ry="2.0" fill="#626262" opacity="0.45"/><ellipse cx="954.8" cy="230.5" rx="2.6" ry="2.2" fill="#626262" opacity="0.45"/><ellipse cx="744.1" cy="173.6" rx="1.9" ry="1.7" fill="#626262" opacity="0.45"/><ellipse cx="791.1" cy="96.7" rx="3.5" ry="2.9" fill="#626262" opacity="0.45"/><ellipse cx="760.0" cy="248.3" rx="2.2" ry="2.4" fill="#626262" opacity="0.45"/><ellipse cx="743.4" cy="187.2" rx="2.6" ry="1.9" fill="#626262" opacity="0.45"/><ellipse cx="749.7" cy="158.4" rx="3.0" ry="2.1" fill="#626262" opacity="0.45"/><ellipse cx="948.2" cy="69.5" rx="2.7" ry="3.1" fill="#626262" opacity="0.45"/><ellipse cx="769.0" cy="175.3" rx="1.7" ry="1.7" fill="#626262" opacity="0.45"/><ellipse cx="834.2" cy="58.0" rx="2.5" ry="2.2" fill="#626262" opacity="0.45"/><ellipse cx="980.7" cy="108.8" rx="2.0" ry="2.3" fill="#626262" opacity="0.45"/><ellipse cx="955.5" cy="211.5" rx="3.0" ry="3.6" fill="#626262" opacity="0.45"/><ellipse cx="957.7" cy="217.3" rx="1.5" ry="1.4" fill="#626262" opacity="0.45"/><ellipse cx="860.0" cy="63.7" rx="1.2" ry="1.0" fill="#626262" opacity="0.45"/><ellipse cx="831.8" cy="306.1" rx="3.5" ry="4.0" fill="#626262" opacity="0.45"/><ellipse cx="819.1" cy="299.0" rx="2.1" ry="1.7" fill="#626262" opacity="0.45"/><ellipse cx="883.6" cy="45.0" rx="2.7" ry="1.8" fill="#626262" opacity="0.45"/><ellipse cx="753.2" cy="234.5" rx="2.4" ry="1.9" fill="#626262" opacity="0.45"/><ellipse cx="823.3" cy="78.0" rx="2.0" ry="1.8" fill="#626262" opacity="0.45"/><ellipse cx="954.7" cy="51.0" rx="1.6" ry="1.4" fill="#626262" opacity="0.45"/><ellipse cx="966.0" cy="182.7" rx="2.0" ry="1.5" fill="#626262" opacity="0.45"/><ellipse cx="769.2" cy="256.1" rx="3.4" ry="3.3" fill="#626262" opacity="0.45"/><ellipse cx="961.4" cy="131.7" rx="2.2" ry="2.5" fill="#626262" opacity="0.45"/><ellipse cx="778.2" cy="172.4" rx="3.4" ry="2.9" fill="#626262" opacity="0.45"/><ellipse cx="765.5" cy="176.1" rx="2.2" ry="2.6" fill="#626262" opacity="0.45"/></g>
<g filter="url(#bl1)"><ellipse cx="940.7" cy="279.3" rx="3.0" ry="3.1" fill="#c2c2c2" opacity="0.55"/><ellipse cx="941.8" cy="315.1" rx="4.4" ry="5.1" fill="#c2c2c2" opacity="0.55"/><ellipse cx="886.5" cy="54.0" rx="3.2" ry="3.2" fill="#c2c2c2" opacity="0.55"/><ellipse cx="950.4" cy="246.3" rx="2.1" ry="2.2" fill="#c2c2c2" opacity="0.55"/><ellipse cx="773.2" cy="246.9" rx="4.0" ry="3.9" fill="#c2c2c2" opacity="0.55"/><ellipse cx="819.1" cy="94.0" rx="2.3" ry="2.7" fill="#c2c2c2" opacity="0.55"/><ellipse cx="782.0" cy="124.0" rx="2.8" ry="3.0" fill="#c2c2c2" opacity="0.55"/><ellipse cx="956.6" cy="231.4" rx="3.9" ry="3.7" fill="#c2c2c2" opacity="0.55"/><ellipse cx="745.5" cy="240.0" rx="4.9" ry="5.5" fill="#c2c2c2" opacity="0.55"/><ellipse cx="968.0" cy="71.8" rx="4.1" ry="4.9" fill="#c2c2c2" opacity="0.55"/><ellipse cx="799.5" cy="122.6" rx="4.9" ry="3.7" fill="#c2c2c2" opacity="0.55"/><ellipse cx="801.9" cy="103.8" rx="3.8" ry="3.2" fill="#c2c2c2" opacity="0.55"/><ellipse cx="799.0" cy="96.3" rx="2.2" ry="1.4" fill="#c2c2c2" opacity="0.55"/><ellipse cx="953.6" cy="228.2" rx="2.6" ry="2.8" fill="#c2c2c2" opacity="0.55"/><ellipse cx="906.9" cy="42.8" rx="3.1" ry="3.7" fill="#c2c2c2" opacity="0.55"/><ellipse cx="771.3" cy="162.8" rx="3.5" ry="2.4" fill="#c2c2c2" opacity="0.55"/><ellipse cx="750.9" cy="229.9" rx="3.9" ry="4.2" fill="#c2c2c2" opacity="0.55"/><ellipse cx="855.4" cy="59.3" rx="3.6" ry="2.8" fill="#c2c2c2" opacity="0.55"/><ellipse cx="966.3" cy="99.9" rx="4.4" ry="4.4" fill="#c2c2c2" opacity="0.55"/><ellipse cx="916.0" cy="44.6" rx="3.7" ry="4.2" fill="#c2c2c2" opacity="0.55"/><ellipse cx="964.0" cy="119.1" rx="4.5" ry="5.2" fill="#c2c2c2" opacity="0.55"/><ellipse cx="961.7" cy="270.4" rx="4.8" ry="5.0" fill="#c2c2c2" opacity="0.55"/><ellipse cx="832.2" cy="86.0" rx="4.7" ry="4.1" fill="#c2c2c2" opacity="0.55"/><ellipse cx="979.1" cy="243.0" rx="4.4" ry="4.2" fill="#c2c2c2" opacity="0.55"/><ellipse cx="790.1" cy="143.6" rx="2.4" ry="2.1" fill="#c2c2c2" opacity="0.55"/><ellipse cx="769.5" cy="234.4" rx="3.0" ry="2.3" fill="#c2c2c2" opacity="0.55"/><ellipse cx="964.1" cy="162.7" rx="2.3" ry="2.3" fill="#c2c2c2" opacity="0.55"/><ellipse cx="964.1" cy="125.7" rx="4.4" ry="4.9" fill="#c2c2c2" opacity="0.55"/><ellipse cx="958.4" cy="120.4" rx="4.6" ry="4.3" fill="#c2c2c2" opacity="0.55"/><ellipse cx="912.7" cy="45.3" rx="4.7" ry="3.2" fill="#c2c2c2" opacity="0.55"/><ellipse cx="767.9" cy="152.0" rx="2.4" ry="1.8" fill="#c2c2c2" opacity="0.55"/><ellipse cx="953.1" cy="251.5" rx="2.8" ry="1.9" fill="#c2c2c2" opacity="0.55"/><ellipse cx="761.0" cy="129.5" rx="2.2" ry="1.5" fill="#c2c2c2" opacity="0.55"/><ellipse cx="947.3" cy="49.5" rx="2.5" ry="1.6" fill="#c2c2c2" opacity="0.55"/><ellipse cx="835.6" cy="94.1" rx="3.0" ry="1.9" fill="#c2c2c2" opacity="0.55"/><ellipse cx="833.0" cy="319.7" rx="3.7" ry="2.8" fill="#c2c2c2" opacity="0.55"/><ellipse cx="795.1" cy="138.6" rx="4.2" ry="2.6" fill="#c2c2c2" opacity="0.55"/><ellipse cx="951.5" cy="76.3" rx="4.3" ry="3.5" fill="#c2c2c2" opacity="0.55"/><ellipse cx="769.9" cy="242.4" rx="4.1" ry="5.0" fill="#c2c2c2" opacity="0.55"/><ellipse cx="974.9" cy="198.3" rx="4.1" ry="2.7" fill="#c2c2c2" opacity="0.55"/><ellipse cx="952.4" cy="114.7" rx="3.7" ry="3.4" fill="#c2c2c2" opacity="0.55"/><ellipse cx="962.7" cy="160.4" rx="2.5" ry="1.9" fill="#c2c2c2" opacity="0.55"/><ellipse cx="804.6" cy="115.1" rx="3.1" ry="3.7" fill="#c2c2c2" opacity="0.55"/><ellipse cx="848.7" cy="319.3" rx="4.0" ry="2.4" fill="#c2c2c2" opacity="0.55"/><ellipse cx="785.4" cy="105.3" rx="2.7" ry="3.0" fill="#c2c2c2" opacity="0.55"/><ellipse cx="779.2" cy="285.0" rx="4.1" ry="4.1" fill="#c2c2c2" opacity="0.55"/><ellipse cx="743.6" cy="230.1" rx="4.5" ry="4.4" fill="#c2c2c2" opacity="0.55"/><ellipse cx="766.3" cy="231.0" rx="3.9" ry="4.6" fill="#c2c2c2" opacity="0.55"/><ellipse cx="744.6" cy="212.5" rx="4.7" ry="3.0" fill="#c2c2c2" opacity="0.55"/><ellipse cx="810.9" cy="68.6" rx="3.8" ry="2.9" fill="#c2c2c2" opacity="0.55"/><ellipse cx="784.8" cy="121.5" rx="3.1" ry="3.2" fill="#c2c2c2" opacity="0.55"/><ellipse cx="899.9" cy="57.0" rx="2.9" ry="2.7" fill="#c2c2c2" opacity="0.55"/><ellipse cx="979.5" cy="168.6" rx="4.4" ry="4.8" fill="#c2c2c2" opacity="0.55"/><ellipse cx="774.4" cy="280.0" rx="2.7" ry="2.4" fill="#c2c2c2" opacity="0.55"/><ellipse cx="976.3" cy="101.4" rx="2.2" ry="2.4" fill="#c2c2c2" opacity="0.55"/><ellipse cx="805.7" cy="302.1" rx="3.9" ry="4.2" fill="#c2c2c2" opacity="0.55"/><ellipse cx="827.4" cy="94.9" rx="4.0" ry="2.9" fill="#c2c2c2" opacity="0.55"/><ellipse cx="951.7" cy="61.5" rx="3.2" ry="2.1" fill="#c2c2c2" opacity="0.55"/><ellipse cx="753.5" cy="218.8" rx="4.4" ry="5.2" fill="#c2c2c2" opacity="0.55"/><ellipse cx="965.6" cy="154.9" rx="2.1" ry="2.1" fill="#c2c2c2" opacity="0.55"/><ellipse cx="860.8" cy="70.8" rx="2.7" ry="1.9" fill="#c2c2c2" opacity="0.55"/><ellipse cx="973.0" cy="132.6" rx="4.9" ry="4.6" fill="#c2c2c2" opacity="0.55"/><ellipse cx="794.8" cy="296.9" rx="4.8" ry="3.1" fill="#c2c2c2" opacity="0.55"/><ellipse cx="878.0" cy="340.8" rx="5.0" ry="3.8" fill="#c2c2c2" opacity="0.55"/><ellipse cx="852.2" cy="47.4" rx="3.8" ry="2.8" fill="#c2c2c2" opacity="0.55"/><ellipse cx="963.8" cy="260.7" rx="2.1" ry="1.6" fill="#c2c2c2" opacity="0.55"/><ellipse cx="761.1" cy="124.2" rx="4.4" ry="4.8" fill="#c2c2c2" opacity="0.55"/><ellipse cx="791.0" cy="276.1" rx="3.4" ry="2.2" fill="#c2c2c2" opacity="0.55"/><ellipse cx="954.5" cy="228.8" rx="2.3" ry="2.5" fill="#c2c2c2" opacity="0.55"/><ellipse cx="933.0" cy="279.6" rx="4.7" ry="4.7" fill="#c2c2c2" opacity="0.55"/><ellipse cx="800.7" cy="128.0" rx="4.2" ry="3.8" fill="#c2c2c2" opacity="0.55"/><ellipse cx="827.7" cy="60.8" rx="4.1" ry="3.7" fill="#c2c2c2" opacity="0.55"/><ellipse cx="882.6" cy="335.6" rx="3.9" ry="3.1" fill="#c2c2c2" opacity="0.55"/><ellipse cx="769.2" cy="120.9" rx="2.5" ry="1.8" fill="#c2c2c2" opacity="0.55"/><ellipse cx="818.5" cy="82.9" rx="4.2" ry="4.8" fill="#c2c2c2" opacity="0.55"/><ellipse cx="852.7" cy="68.0" rx="2.9" ry="1.9" fill="#c2c2c2" opacity="0.55"/><ellipse cx="954.0" cy="276.7" rx="3.3" ry="3.2" fill="#c2c2c2" opacity="0.55"/><ellipse cx="932.2" cy="294.1" rx="3.4" ry="3.6" fill="#c2c2c2" opacity="0.55"/><ellipse cx="812.8" cy="116.4" rx="3.3" ry="2.4" fill="#c2c2c2" opacity="0.55"/><ellipse cx="753.8" cy="244.7" rx="3.3" ry="3.0" fill="#c2c2c2" opacity="0.55"/><ellipse cx="963.1" cy="280.2" rx="3.0" ry="3.1" fill="#c2c2c2" opacity="0.55"/><ellipse cx="811.4" cy="73.3" rx="4.7" ry="3.9" fill="#c2c2c2" opacity="0.55"/><ellipse cx="845.5" cy="75.1" rx="3.1" ry="2.8" fill="#c2c2c2" opacity="0.55"/><ellipse cx="873.8" cy="340.6" rx="3.5" ry="3.1" fill="#c2c2c2" opacity="0.55"/><ellipse cx="919.4" cy="43.1" rx="2.8" ry="2.0" fill="#c2c2c2" opacity="0.55"/><ellipse cx="931.5" cy="271.7" rx="3.4" ry="3.9" fill="#c2c2c2" opacity="0.55"/><ellipse cx="763.5" cy="159.4" rx="3.1" ry="3.2" fill="#c2c2c2" opacity="0.55"/><ellipse cx="946.9" cy="65.7" rx="3.6" ry="3.3" fill="#c2c2c2" opacity="0.55"/><ellipse cx="981.5" cy="155.6" rx="3.2" ry="3.0" fill="#c2c2c2" opacity="0.55"/><ellipse cx="964.6" cy="224.4" rx="4.9" ry="4.0" fill="#c2c2c2" opacity="0.55"/><ellipse cx="936.0" cy="290.0" rx="4.7" ry="5.7" fill="#c2c2c2" opacity="0.55"/><ellipse cx="763.5" cy="252.7" rx="4.2" ry="3.2" fill="#c2c2c2" opacity="0.55"/><ellipse cx="911.2" cy="33.8" rx="2.1" ry="2.4" fill="#c2c2c2" opacity="0.55"/><ellipse cx="765.5" cy="173.3" rx="4.0" ry="4.3" fill="#c2c2c2" opacity="0.55"/><ellipse cx="928.6" cy="322.1" rx="2.7" ry="3.1" fill="#c2c2c2" opacity="0.55"/><ellipse cx="977.7" cy="198.3" rx="4.8" ry="5.7" fill="#c2c2c2" opacity="0.55"/><ellipse cx="972.2" cy="106.6" rx="2.6" ry="1.7" fill="#c2c2c2" opacity="0.55"/><ellipse cx="962.0" cy="75.4" rx="3.5" ry="2.1" fill="#c2c2c2" opacity="0.55"/><ellipse cx="934.0" cy="303.9" rx="4.7" ry="3.6" fill="#c2c2c2" opacity="0.55"/><ellipse cx="831.4" cy="92.7" rx="2.1" ry="2.4" fill="#c2c2c2" opacity="0.55"/><ellipse cx="908.4" cy="326.6" rx="4.0" ry="4.7" fill="#c2c2c2" opacity="0.55"/><ellipse cx="982.0" cy="231.8" rx="3.5" ry="2.3" fill="#c2c2c2" opacity="0.55"/><ellipse cx="957.5" cy="110.7" rx="2.1" ry="2.1" fill="#c2c2c2" opacity="0.55"/><ellipse cx="784.0" cy="265.5" rx="4.0" ry="3.7" fill="#c2c2c2" opacity="0.55"/><ellipse cx="848.7" cy="62.1" rx="4.4" ry="3.4" fill="#c2c2c2" opacity="0.55"/><ellipse cx="808.8" cy="282.6" rx="4.6" ry="4.4" fill="#c2c2c2" opacity="0.55"/><ellipse cx="952.5" cy="48.6" rx="2.2" ry="2.6" fill="#c2c2c2" opacity="0.55"/><ellipse cx="941.1" cy="49.0" rx="3.2" ry="3.8" fill="#c2c2c2" opacity="0.55"/><ellipse cx="805.7" cy="121.7" rx="4.6" ry="4.1" fill="#c2c2c2" opacity="0.55"/><ellipse cx="775.4" cy="169.4" rx="2.6" ry="1.8" fill="#c2c2c2" opacity="0.55"/><ellipse cx="982.5" cy="213.0" rx="4.3" ry="4.9" fill="#c2c2c2" opacity="0.55"/><ellipse cx="959.6" cy="248.2" rx="3.4" ry="2.2" fill="#c2c2c2" opacity="0.55"/><ellipse cx="937.1" cy="37.9" rx="4.4" ry="5.1" fill="#c2c2c2" opacity="0.55"/><ellipse cx="940.9" cy="61.9" rx="2.7" ry="3.0" fill="#c2c2c2" opacity="0.55"/><ellipse cx="793.1" cy="129.7" rx="3.1" ry="3.7" fill="#c2c2c2" opacity="0.55"/><ellipse cx="747.7" cy="232.0" rx="2.4" ry="1.7" fill="#c2c2c2" opacity="0.55"/><ellipse cx="974.4" cy="107.6" rx="4.7" ry="5.3" fill="#c2c2c2" opacity="0.55"/><ellipse cx="909.1" cy="34.1" rx="4.0" ry="4.6" fill="#c2c2c2" opacity="0.55"/><ellipse cx="902.7" cy="40.5" rx="2.8" ry="2.1" fill="#c2c2c2" opacity="0.55"/><ellipse cx="770.1" cy="232.7" rx="4.2" ry="3.5" fill="#c2c2c2" opacity="0.55"/><ellipse cx="759.9" cy="228.5" rx="3.0" ry="2.3" fill="#c2c2c2" opacity="0.55"/><ellipse cx="759.7" cy="263.6" rx="4.7" ry="4.6" fill="#c2c2c2" opacity="0.55"/><ellipse cx="815.3" cy="109.9" rx="3.2" ry="2.8" fill="#c2c2c2" opacity="0.55"/><ellipse cx="767.1" cy="212.8" rx="3.9" ry="3.7" fill="#c2c2c2" opacity="0.55"/><ellipse cx="820.0" cy="316.9" rx="2.7" ry="2.3" fill="#c2c2c2" opacity="0.55"/><ellipse cx="968.3" cy="218.6" rx="3.5" ry="3.0" fill="#c2c2c2" opacity="0.55"/><ellipse cx="791.8" cy="283.5" rx="2.4" ry="2.7" fill="#c2c2c2" opacity="0.55"/><ellipse cx="808.7" cy="121.1" rx="2.1" ry="1.8" fill="#c2c2c2" opacity="0.55"/><ellipse cx="924.8" cy="291.9" rx="4.0" ry="3.2" fill="#c2c2c2" opacity="0.55"/><ellipse cx="976.4" cy="236.9" rx="4.5" ry="2.8" fill="#c2c2c2" opacity="0.55"/><ellipse cx="952.4" cy="220.1" rx="3.1" ry="3.2" fill="#c2c2c2" opacity="0.55"/><ellipse cx="976.7" cy="186.7" rx="4.3" ry="3.6" fill="#c2c2c2" opacity="0.55"/><ellipse cx="860.3" cy="321.3" rx="3.2" ry="2.4" fill="#c2c2c2" opacity="0.55"/><ellipse cx="939.0" cy="252.9" rx="3.6" ry="2.2" fill="#c2c2c2" opacity="0.55"/><ellipse cx="796.3" cy="99.6" rx="4.9" ry="5.7" fill="#c2c2c2" opacity="0.55"/><ellipse cx="806.7" cy="72.9" rx="4.6" ry="3.4" fill="#c2c2c2" opacity="0.55"/><ellipse cx="843.5" cy="88.2" rx="3.0" ry="3.4" fill="#c2c2c2" opacity="0.55"/><ellipse cx="783.4" cy="94.2" rx="2.7" ry="1.8" fill="#c2c2c2" opacity="0.55"/><ellipse cx="983.1" cy="130.0" rx="4.9" ry="4.2" fill="#c2c2c2" opacity="0.55"/><ellipse cx="936.3" cy="251.7" rx="2.0" ry="1.5" fill="#c2c2c2" opacity="0.55"/><ellipse cx="804.0" cy="297.9" rx="2.3" ry="2.0" fill="#c2c2c2" opacity="0.55"/><ellipse cx="926.1" cy="329.8" rx="3.0" ry="1.8" fill="#c2c2c2" opacity="0.55"/><ellipse cx="781.2" cy="113.0" rx="3.8" ry="3.3" fill="#c2c2c2" opacity="0.55"/><ellipse cx="885.5" cy="336.7" rx="3.0" ry="1.9" fill="#c2c2c2" opacity="0.55"/><ellipse cx="840.3" cy="304.9" rx="4.1" ry="3.2" fill="#c2c2c2" opacity="0.55"/><ellipse cx="968.4" cy="157.5" rx="2.1" ry="1.7" fill="#c2c2c2" opacity="0.55"/><ellipse cx="845.9" cy="330.4" rx="3.5" ry="3.7" fill="#c2c2c2" opacity="0.55"/><ellipse cx="768.8" cy="204.4" rx="2.5" ry="2.7" fill="#c2c2c2" opacity="0.55"/><ellipse cx="816.8" cy="107.8" rx="2.1" ry="2.3" fill="#c2c2c2" opacity="0.55"/><ellipse cx="941.8" cy="50.6" rx="3.7" ry="3.9" fill="#c2c2c2" opacity="0.55"/><ellipse cx="970.5" cy="227.9" rx="4.7" ry="5.2" fill="#c2c2c2" opacity="0.55"/><ellipse cx="808.5" cy="80.1" rx="2.1" ry="1.4" fill="#c2c2c2" opacity="0.55"/><ellipse cx="947.4" cy="74.5" rx="3.9" ry="3.2" fill="#c2c2c2" opacity="0.55"/><ellipse cx="811.6" cy="84.6" rx="3.7" ry="3.2" fill="#c2c2c2" opacity="0.55"/><ellipse cx="964.1" cy="62.6" rx="2.3" ry="2.2" fill="#c2c2c2" opacity="0.55"/><ellipse cx="819.5" cy="78.9" rx="3.9" ry="4.1" fill="#c2c2c2" opacity="0.55"/><ellipse cx="806.4" cy="87.6" rx="4.5" ry="3.5" fill="#c2c2c2" opacity="0.55"/><ellipse cx="945.7" cy="296.0" rx="3.9" ry="4.4" fill="#c2c2c2" opacity="0.55"/><ellipse cx="760.1" cy="127.9" rx="4.4" ry="3.6" fill="#c2c2c2" opacity="0.55"/><ellipse cx="750.7" cy="179.8" rx="2.6" ry="3.0" fill="#c2c2c2" opacity="0.55"/></g>
<g filter="url(#bl1)"><ellipse cx="949.2" cy="363.5" rx="2.0" ry="4.0" fill="#6e6e6e" opacity="0.5"/><ellipse cx="938.8" cy="323.5" rx="2.4" ry="6.7" fill="#6e6e6e" opacity="0.5"/><ellipse cx="956.7" cy="361.4" rx="1.4" ry="4.1" fill="#6e6e6e" opacity="0.5"/><ellipse cx="897.7" cy="343.1" rx="2.5" ry="6.0" fill="#6e6e6e" opacity="0.5"/><ellipse cx="865.3" cy="358.9" rx="2.6" ry="8.2" fill="#6e6e6e" opacity="0.5"/><ellipse cx="934.6" cy="394.1" rx="2.5" ry="5.8" fill="#6e6e6e" opacity="0.5"/><ellipse cx="878.5" cy="407.2" rx="2.5" ry="6.0" fill="#6e6e6e" opacity="0.5"/><ellipse cx="816.7" cy="340.6" rx="1.8" ry="4.5" fill="#6e6e6e" opacity="0.5"/><ellipse cx="862.4" cy="409.7" rx="2.5" ry="5.8" fill="#6e6e6e" opacity="0.5"/><ellipse cx="949.8" cy="332.6" rx="2.3" ry="6.8" fill="#6e6e6e" opacity="0.5"/><ellipse cx="839.6" cy="397.1" rx="2.9" ry="8.4" fill="#6e6e6e" opacity="0.5"/><ellipse cx="842.1" cy="308.8" rx="2.5" ry="6.7" fill="#6e6e6e" opacity="0.5"/><ellipse cx="842.3" cy="422.3" rx="1.9" ry="6.2" fill="#6e6e6e" opacity="0.5"/><ellipse cx="914.8" cy="374.1" rx="1.7" ry="2.9" fill="#6e6e6e" opacity="0.5"/><ellipse cx="945.2" cy="373.3" rx="2.2" ry="5.6" fill="#6e6e6e" opacity="0.5"/><ellipse cx="808.7" cy="341.4" rx="2.1" ry="4.0" fill="#6e6e6e" opacity="0.5"/><ellipse cx="830.5" cy="377.3" rx="2.4" ry="5.8" fill="#6e6e6e" opacity="0.5"/><ellipse cx="862.9" cy="401.6" rx="1.4" ry="4.0" fill="#6e6e6e" opacity="0.5"/><ellipse cx="920.6" cy="371.8" rx="2.9" ry="10.0" fill="#6e6e6e" opacity="0.5"/><ellipse cx="845.7" cy="312.8" rx="2.1" ry="4.3" fill="#6e6e6e" opacity="0.5"/><ellipse cx="750.6" cy="332.6" rx="1.9" ry="5.3" fill="#6e6e6e" opacity="0.5"/><ellipse cx="927.2" cy="398.3" rx="2.0" ry="3.4" fill="#6e6e6e" opacity="0.5"/><ellipse cx="783.1" cy="339.4" rx="2.4" ry="8.2" fill="#6e6e6e" opacity="0.5"/><ellipse cx="809.2" cy="390.9" rx="2.6" ry="8.1" fill="#6e6e6e" opacity="0.5"/><ellipse cx="924.8" cy="355.4" rx="1.7" ry="2.9" fill="#6e6e6e" opacity="0.5"/><ellipse cx="829.7" cy="410.0" rx="1.4" ry="4.8" fill="#6e6e6e" opacity="0.5"/><ellipse cx="931.3" cy="386.2" rx="1.6" ry="4.1" fill="#6e6e6e" opacity="0.5"/><ellipse cx="877.2" cy="344.6" rx="2.1" ry="3.4" fill="#6e6e6e" opacity="0.5"/><ellipse cx="820.9" cy="403.4" rx="2.4" ry="8.2" fill="#6e6e6e" opacity="0.5"/><ellipse cx="844.2" cy="373.6" rx="1.8" ry="6.0" fill="#6e6e6e" opacity="0.5"/><ellipse cx="918.7" cy="384.7" rx="1.7" ry="4.9" fill="#6e6e6e" opacity="0.5"/><ellipse cx="946.9" cy="361.6" rx="1.3" ry="2.9" fill="#6e6e6e" opacity="0.5"/><ellipse cx="774.5" cy="337.3" rx="2.4" ry="8.5" fill="#6e6e6e" opacity="0.5"/><ellipse cx="798.8" cy="381.7" rx="1.9" ry="6.4" fill="#6e6e6e" opacity="0.5"/><ellipse cx="877.4" cy="361.0" rx="2.7" ry="8.0" fill="#6e6e6e" opacity="0.5"/><ellipse cx="909.5" cy="333.9" rx="2.4" ry="7.0" fill="#6e6e6e" opacity="0.5"/><ellipse cx="847.7" cy="387.6" rx="1.6" ry="3.4" fill="#6e6e6e" opacity="0.5"/><ellipse cx="800.7" cy="377.5" rx="2.8" ry="4.5" fill="#6e6e6e" opacity="0.5"/><ellipse cx="847.0" cy="337.0" rx="2.0" ry="3.3" fill="#6e6e6e" opacity="0.5"/><ellipse cx="918.4" cy="394.0" rx="2.2" ry="3.6" fill="#6e6e6e" opacity="0.5"/><ellipse cx="765.4" cy="333.8" rx="1.3" ry="2.6" fill="#6e6e6e" opacity="0.5"/><ellipse cx="884.5" cy="429.0" rx="1.3" ry="2.4" fill="#6e6e6e" opacity="0.5"/><ellipse cx="843.4" cy="400.8" rx="1.5" ry="3.4" fill="#6e6e6e" opacity="0.5"/><ellipse cx="849.2" cy="365.3" rx="1.5" ry="2.9" fill="#6e6e6e" opacity="0.5"/><ellipse cx="870.7" cy="319.8" rx="1.5" ry="2.4" fill="#6e6e6e" opacity="0.5"/><ellipse cx="776.1" cy="376.8" rx="1.9" ry="3.9" fill="#6e6e6e" opacity="0.5"/><ellipse cx="828.9" cy="304.1" rx="1.7" ry="5.1" fill="#6e6e6e" opacity="0.5"/><ellipse cx="868.2" cy="411.3" rx="1.6" ry="5.4" fill="#6e6e6e" opacity="0.5"/><ellipse cx="793.9" cy="374.2" rx="2.5" ry="4.0" fill="#6e6e6e" opacity="0.5"/><ellipse cx="856.5" cy="421.5" rx="2.3" ry="7.5" fill="#6e6e6e" opacity="0.5"/><ellipse cx="936.3" cy="362.1" rx="1.4" ry="4.3" fill="#6e6e6e" opacity="0.5"/><ellipse cx="926.2" cy="398.3" rx="1.9" ry="4.0" fill="#6e6e6e" opacity="0.5"/><ellipse cx="778.0" cy="377.8" rx="2.5" ry="8.3" fill="#6e6e6e" opacity="0.5"/><ellipse cx="888.8" cy="405.1" rx="1.9" ry="3.4" fill="#6e6e6e" opacity="0.5"/><ellipse cx="848.0" cy="350.7" rx="1.8" ry="4.8" fill="#6e6e6e" opacity="0.5"/><ellipse cx="862.5" cy="319.7" rx="2.8" ry="8.5" fill="#6e6e6e" opacity="0.5"/><ellipse cx="881.7" cy="434.5" rx="1.4" ry="4.8" fill="#6e6e6e" opacity="0.5"/><ellipse cx="833.2" cy="421.4" rx="2.0" ry="3.3" fill="#6e6e6e" opacity="0.5"/><ellipse cx="822.5" cy="337.8" rx="1.4" ry="3.1" fill="#6e6e6e" opacity="0.5"/><ellipse cx="927.2" cy="341.9" rx="2.9" ry="10.1" fill="#6e6e6e" opacity="0.5"/><ellipse cx="918.2" cy="323.7" rx="1.6" ry="3.0" fill="#6e6e6e" opacity="0.5"/><ellipse cx="881.0" cy="384.5" rx="1.2" ry="3.5" fill="#6e6e6e" opacity="0.5"/><ellipse cx="906.6" cy="355.5" rx="1.9" ry="5.6" fill="#6e6e6e" opacity="0.5"/><ellipse cx="828.5" cy="359.2" rx="3.0" ry="9.3" fill="#6e6e6e" opacity="0.5"/><ellipse cx="850.9" cy="367.0" rx="1.2" ry="2.7" fill="#6e6e6e" opacity="0.5"/><ellipse cx="845.7" cy="419.1" rx="2.8" ry="5.6" fill="#6e6e6e" opacity="0.5"/><ellipse cx="855.3" cy="416.7" rx="2.9" ry="9.0" fill="#6e6e6e" opacity="0.5"/><ellipse cx="837.1" cy="331.0" rx="2.2" ry="7.3" fill="#6e6e6e" opacity="0.5"/><ellipse cx="816.8" cy="317.6" rx="3.0" ry="8.3" fill="#6e6e6e" opacity="0.5"/><ellipse cx="914.1" cy="378.0" rx="2.9" ry="4.4" fill="#6e6e6e" opacity="0.5"/><ellipse cx="849.4" cy="421.5" rx="2.2" ry="5.1" fill="#6e6e6e" opacity="0.5"/><ellipse cx="945.6" cy="333.5" rx="2.7" ry="8.0" fill="#6e6e6e" opacity="0.5"/><ellipse cx="923.3" cy="407.1" rx="1.4" ry="2.8" fill="#6e6e6e" opacity="0.5"/><ellipse cx="807.5" cy="389.3" rx="2.8" ry="5.9" fill="#6e6e6e" opacity="0.5"/><ellipse cx="861.8" cy="332.2" rx="1.2" ry="3.3" fill="#6e6e6e" opacity="0.5"/><ellipse cx="820.3" cy="395.8" rx="2.3" ry="6.8" fill="#6e6e6e" opacity="0.5"/><ellipse cx="801.5" cy="375.6" rx="2.4" ry="4.9" fill="#6e6e6e" opacity="0.5"/><ellipse cx="915.4" cy="376.4" rx="2.5" ry="8.2" fill="#6e6e6e" opacity="0.5"/><ellipse cx="751.6" cy="336.1" rx="1.3" ry="3.8" fill="#6e6e6e" opacity="0.5"/><ellipse cx="884.9" cy="402.5" rx="2.0" ry="3.6" fill="#6e6e6e" opacity="0.5"/><ellipse cx="800.7" cy="386.0" rx="2.7" ry="7.0" fill="#6e6e6e" opacity="0.5"/><ellipse cx="822.5" cy="350.4" rx="2.6" ry="8.8" fill="#6e6e6e" opacity="0.5"/><ellipse cx="827.5" cy="367.3" rx="1.8" ry="4.3" fill="#6e6e6e" opacity="0.5"/><ellipse cx="787.3" cy="388.0" rx="1.4" ry="3.4" fill="#6e6e6e" opacity="0.5"/><ellipse cx="825.6" cy="382.5" rx="1.4" ry="3.9" fill="#6e6e6e" opacity="0.5"/><ellipse cx="901.4" cy="328.1" rx="1.3" ry="4.3" fill="#6e6e6e" opacity="0.5"/><ellipse cx="852.7" cy="339.8" rx="2.6" ry="4.9" fill="#6e6e6e" opacity="0.5"/><ellipse cx="838.7" cy="308.3" rx="2.0" ry="6.4" fill="#6e6e6e" opacity="0.5"/><ellipse cx="846.3" cy="375.0" rx="1.2" ry="2.8" fill="#6e6e6e" opacity="0.5"/><ellipse cx="942.8" cy="387.2" rx="1.4" ry="3.0" fill="#6e6e6e" opacity="0.5"/><ellipse cx="822.9" cy="307.5" rx="2.3" ry="7.3" fill="#6e6e6e" opacity="0.5"/><ellipse cx="877.9" cy="336.2" rx="1.2" ry="1.9" fill="#6e6e6e" opacity="0.5"/><ellipse cx="789.9" cy="368.4" rx="1.8" ry="3.0" fill="#6e6e6e" opacity="0.5"/><ellipse cx="928.6" cy="391.1" rx="1.7" ry="2.5" fill="#6e6e6e" opacity="0.5"/><ellipse cx="884.7" cy="391.8" rx="2.6" ry="8.1" fill="#6e6e6e" opacity="0.5"/><ellipse cx="902.1" cy="405.5" rx="2.5" ry="6.7" fill="#6e6e6e" opacity="0.5"/><ellipse cx="908.2" cy="344.8" rx="1.4" ry="2.5" fill="#6e6e6e" opacity="0.5"/><ellipse cx="790.7" cy="397.7" rx="2.4" ry="3.9" fill="#6e6e6e" opacity="0.5"/><ellipse cx="891.5" cy="364.3" rx="2.0" ry="5.5" fill="#6e6e6e" opacity="0.5"/><ellipse cx="872.6" cy="365.9" rx="2.4" ry="3.9" fill="#6e6e6e" opacity="0.5"/><ellipse cx="888.0" cy="362.5" rx="2.8" ry="6.9" fill="#6e6e6e" opacity="0.5"/><ellipse cx="804.0" cy="351.5" rx="1.5" ry="3.6" fill="#6e6e6e" opacity="0.5"/><ellipse cx="820.0" cy="354.7" rx="1.7" ry="3.2" fill="#6e6e6e" opacity="0.5"/><ellipse cx="892.3" cy="324.9" rx="1.3" ry="4.5" fill="#6e6e6e" opacity="0.5"/><ellipse cx="908.9" cy="423.7" rx="1.3" ry="2.7" fill="#6e6e6e" opacity="0.5"/><ellipse cx="873.0" cy="405.0" rx="1.3" ry="4.0" fill="#6e6e6e" opacity="0.5"/><ellipse cx="826.3" cy="404.0" rx="2.0" ry="5.1" fill="#6e6e6e" opacity="0.5"/><ellipse cx="871.9" cy="367.7" rx="1.4" ry="2.6" fill="#6e6e6e" opacity="0.5"/><ellipse cx="942.7" cy="383.7" rx="1.9" ry="3.2" fill="#6e6e6e" opacity="0.5"/><ellipse cx="784.8" cy="388.4" rx="1.8" ry="3.6" fill="#6e6e6e" opacity="0.5"/><ellipse cx="810.8" cy="334.8" rx="3.0" ry="9.2" fill="#6e6e6e" opacity="0.5"/><ellipse cx="833.5" cy="375.3" rx="2.3" ry="7.4" fill="#6e6e6e" opacity="0.5"/><ellipse cx="883.2" cy="417.0" rx="1.5" ry="3.8" fill="#6e6e6e" opacity="0.5"/><ellipse cx="848.8" cy="361.0" rx="1.8" ry="3.2" fill="#6e6e6e" opacity="0.5"/><ellipse cx="791.0" cy="370.6" rx="1.5" ry="2.4" fill="#6e6e6e" opacity="0.5"/><ellipse cx="954.5" cy="367.2" rx="1.6" ry="4.0" fill="#6e6e6e" opacity="0.5"/><ellipse cx="833.0" cy="380.5" rx="1.8" ry="5.3" fill="#6e6e6e" opacity="0.5"/><ellipse cx="855.2" cy="378.3" rx="1.7" ry="5.7" fill="#6e6e6e" opacity="0.5"/><ellipse cx="902.1" cy="434.3" rx="2.0" ry="6.4" fill="#6e6e6e" opacity="0.5"/><ellipse cx="778.0" cy="358.6" rx="2.7" ry="6.0" fill="#6e6e6e" opacity="0.5"/><ellipse cx="845.7" cy="374.5" rx="2.3" ry="7.5" fill="#6e6e6e" opacity="0.5"/><ellipse cx="855.6" cy="352.3" rx="1.8" ry="2.7" fill="#6e6e6e" opacity="0.5"/><ellipse cx="909.3" cy="337.4" rx="1.6" ry="3.4" fill="#6e6e6e" opacity="0.5"/><ellipse cx="833.1" cy="417.5" rx="2.8" ry="5.3" fill="#6e6e6e" opacity="0.5"/><ellipse cx="836.6" cy="319.0" rx="2.9" ry="7.4" fill="#6e6e6e" opacity="0.5"/><ellipse cx="777.5" cy="357.0" rx="2.3" ry="6.3" fill="#6e6e6e" opacity="0.5"/><ellipse cx="852.4" cy="376.7" rx="2.1" ry="6.4" fill="#6e6e6e" opacity="0.5"/><ellipse cx="838.1" cy="307.7" rx="2.6" ry="6.7" fill="#6e6e6e" opacity="0.5"/><ellipse cx="890.4" cy="411.6" rx="2.4" ry="6.7" fill="#6e6e6e" opacity="0.5"/><ellipse cx="863.0" cy="374.1" rx="2.2" ry="3.9" fill="#6e6e6e" opacity="0.5"/><ellipse cx="776.9" cy="370.5" rx="1.5" ry="3.0" fill="#6e6e6e" opacity="0.5"/><ellipse cx="830.4" cy="307.9" rx="2.4" ry="8.3" fill="#6e6e6e" opacity="0.5"/><ellipse cx="837.0" cy="339.3" rx="1.4" ry="3.1" fill="#6e6e6e" opacity="0.5"/><ellipse cx="935.5" cy="399.3" rx="1.2" ry="2.9" fill="#6e6e6e" opacity="0.5"/><ellipse cx="821.2" cy="333.0" rx="2.8" ry="8.1" fill="#6e6e6e" opacity="0.5"/><ellipse cx="867.3" cy="415.9" rx="1.9" ry="5.1" fill="#6e6e6e" opacity="0.5"/><ellipse cx="844.9" cy="377.1" rx="2.4" ry="6.5" fill="#6e6e6e" opacity="0.5"/><ellipse cx="845.5" cy="402.8" rx="1.2" ry="2.0" fill="#6e6e6e" opacity="0.5"/><ellipse cx="836.0" cy="353.4" rx="1.5" ry="5.0" fill="#6e6e6e" opacity="0.5"/><ellipse cx="949.0" cy="376.7" rx="2.8" ry="5.5" fill="#6e6e6e" opacity="0.5"/><ellipse cx="899.7" cy="340.0" rx="2.5" ry="8.4" fill="#6e6e6e" opacity="0.5"/><ellipse cx="960.0" cy="352.5" rx="1.8" ry="4.3" fill="#6e6e6e" opacity="0.5"/><ellipse cx="790.5" cy="340.8" rx="1.8" ry="4.7" fill="#6e6e6e" opacity="0.5"/><ellipse cx="861.8" cy="377.9" rx="2.1" ry="6.8" fill="#6e6e6e" opacity="0.5"/><ellipse cx="894.1" cy="406.4" rx="2.2" ry="4.2" fill="#6e6e6e" opacity="0.5"/><ellipse cx="842.8" cy="411.8" rx="1.9" ry="3.4" fill="#6e6e6e" opacity="0.5"/><ellipse cx="826.4" cy="374.2" rx="1.3" ry="2.5" fill="#6e6e6e" opacity="0.5"/><ellipse cx="798.1" cy="386.6" rx="1.6" ry="4.4" fill="#6e6e6e" opacity="0.5"/><ellipse cx="922.4" cy="362.2" rx="1.7" ry="2.6" fill="#6e6e6e" opacity="0.5"/><ellipse cx="913.7" cy="388.0" rx="1.6" ry="2.7" fill="#6e6e6e" opacity="0.5"/><ellipse cx="906.2" cy="347.8" rx="2.4" ry="5.8" fill="#6e6e6e" opacity="0.5"/><ellipse cx="953.2" cy="345.2" rx="1.4" ry="2.9" fill="#6e6e6e" opacity="0.5"/><ellipse cx="883.4" cy="380.5" rx="1.7" ry="4.6" fill="#6e6e6e" opacity="0.5"/><ellipse cx="824.3" cy="377.5" rx="1.6" ry="5.3" fill="#6e6e6e" opacity="0.5"/><ellipse cx="828.5" cy="381.7" rx="2.9" ry="8.2" fill="#6e6e6e" opacity="0.5"/><ellipse cx="884.5" cy="340.6" rx="2.3" ry="3.8" fill="#6e6e6e" opacity="0.5"/><ellipse cx="879.3" cy="429.4" rx="2.5" ry="8.0" fill="#6e6e6e" opacity="0.5"/><ellipse cx="858.3" cy="383.2" rx="2.1" ry="3.5" fill="#6e6e6e" opacity="0.5"/><ellipse cx="794.3" cy="392.8" rx="2.9" ry="9.1" fill="#6e6e6e" opacity="0.5"/><ellipse cx="803.6" cy="380.9" rx="1.4" ry="3.0" fill="#6e6e6e" opacity="0.5"/></g>
<path d="M677.8,189.9 C681.4,185.6 693.9,179.2 701.2,178.2 C708.5,177.3 719.7,179.7 721.6,184.1 C723.6,188.5 718.2,199.2 712.9,204.5 C707.5,209.9 695.1,216.2 689.5,216.2 C683.9,216.2 681.2,208.9 679.3,204.5 C677.3,200.2 674.1,194.3 677.8,189.9 Z" fill="#6a6a6a" filter="url(#bl2)"/>
<path d="M654.4,198.7 C654.9,194.3 663.2,192.9 666.1,195.8 C669.0,198.7 672.4,211.9 671.9,216.2 C671.5,220.6 666.1,225.0 663.2,222.1 C660.3,219.2 653.9,203.1 654.4,198.7 Z" fill="#8a8a8a" filter="url(#bl2)"/>
<path d="M622.3,239.6 C625.2,235.7 636.4,232.3 642.7,233.8 C649.1,235.2 658.8,244.0 660.3,248.4 C661.7,252.8 657.3,258.6 651.5,260.1 C645.6,261.5 630.1,260.6 625.2,257.1 C620.3,253.7 619.4,243.5 622.3,239.6 Z" fill="#7a7a7a" filter="url(#bl3)"/>
<path d="M701.2,210.4 C702.1,201.6 713.8,201.6 718.7,210.4 C723.6,219.2 726.5,249.4 730.4,263.0 C734.3,276.6 742.1,286.9 742.1,292.2 C742.1,297.6 735.3,300.0 730.4,295.1 C725.5,290.3 717.7,277.1 712.9,263.0 C708.0,248.9 700.2,219.2 701.2,210.4 Z" fill="#6a6a6a" filter="url(#bl3)"/>
<path d="M990.5,230.8 C992.4,225.5 1001.2,223.1 1005.1,225.0 C1009.0,226.9 1013.3,236.2 1013.8,242.5 C1014.3,248.9 1011.4,260.6 1008.0,263.0 C1004.6,265.4 996.3,262.5 993.4,257.1 C990.5,251.8 988.5,236.2 990.5,230.8 Z" fill="#6a6a6a" filter="url(#bl2)"/>
<path d="M999.2,251.3 C1002.1,246.4 1015.9,244.5 1022.6,245.5 C1029.3,246.4 1036.7,251.8 1039.5,257.1 C1042.4,262.5 1045.3,274.7 1039.5,277.6 C1033.8,280.5 1011.8,279.1 1005.1,274.7 C998.3,270.3 996.3,256.2 999.2,251.3 Z" fill="#767676" filter="url(#bl2)"/>
<path d="M958.3,245.5 C960.7,240.1 971.0,236.7 975.8,239.6 C980.7,242.5 987.5,256.2 987.5,263.0 C987.5,269.8 980.2,279.1 975.8,280.5 C971.5,282.0 964.2,277.6 961.2,271.8 C958.3,265.9 955.9,250.8 958.3,245.5 Z" fill="#8a8a8a" filter="url(#bl2)"/>
<polyline points="812.2,306.8 826.8,350.6 818.1,394.5" fill="none" stroke="#777" stroke-width="3" filter="url(#bl1)"/>
<polyline points="856.0,327.3 864.8,365.3 861.9,403.2" fill="none" stroke="#777" stroke-width="3" filter="url(#bl1)"/>
<polyline points="899.9,327.3 908.6,368.2 899.9,403.2" fill="none" stroke="#777" stroke-width="3" filter="url(#bl1)"/>
<polyline points="885.3,321.4 885.3,350.6" fill="none" stroke="#777" stroke-width="3" filter="url(#bl1)"/>
<polyline points="709.9,282.0 742.1,321.4 791.8,403.2 841.4,429.5 899.9,438.3 929.1,414.9 958.3,365.3 999.2,284.9" fill="none" stroke="#666" stroke-width="2.5" filter="url(#bl1)"/>
<polyline points="584.9,284.9 604.7,281.1 709.9,281.1" fill="none" stroke="#777" stroke-width="2" filter="url(#bl1)"/>
<polyline points="999.2,283.4 1039.5,282.0" fill="none" stroke="#ddd" stroke-width="3" filter="url(#bl1)"/>
<rect x="585.0" y="30.0" width="455.0" height="438.0" fill="#000" filter="url(#grain)" opacity="0.25"/>
</g>
<line x1="925.8" y1="42.3" x2="925.8" y2="200" stroke="#f26a2a" stroke-width="4.6" stroke-dasharray="8.2,9.2" stroke-dashoffset="4.1"/>
<line x1="925.8" y1="263.4" x2="925.8" y2="436" stroke="#f26a2a" stroke-width="4.6" stroke-dasharray="8.2,9.2" stroke-dashoffset="5"/>
<polygon points="919.6,432 931.6,432 925.6,448.5" fill="#f26a2a"/>
<text x="596.6" y="65.8" font-size="25" text-anchor="start" fill="#fff" >STEM BF</text>
<text x="781.5" y="242.0" font-size="28.5" text-anchor="start" fill="#fff" >Cu diffusion</text>
<text x="610.0" y="302.5" font-size="28.5" text-anchor="start" fill="#fff" >Without</text>
<text x="610.0" y="336.0" font-size="28.5" text-anchor="start" fill="#fff" >WS<tspan font-size="20" dy="8">2</tspan></text>
<text x="626.7" y="432.5" font-size="28" text-anchor="start" fill="#fff" >200 nm</text>
<rect x="608.3" y="441.3" width="134.7" height="8.7" fill="#fff" />
<g clip-path="url(#cbsi)">
<rect x="1049.0" y="31.0" width="224.0" height="214.0" fill="#070309" />
<polygon points="1040.0,153.8 1114.8,153.8 1131.4,175.1 1150.8,202.8 1172.9,224.9 1200.6,230.5 1220.0,211.1 1233.9,186.2 1250.5,154.9 1289.3,154.9 1289.3,269.3 1040.0,269.3" fill="#7c55c6" filter="url(#bl1)"/>
<path d="M1113.4,116.9 C1115.7,109.1 1122.9,99.4 1131.4,89.2 C1139.9,79.1 1152.2,65.0 1164.6,56.0 C1177.1,47.0 1195.6,38.7 1206.2,35.2 C1216.8,31.8 1222.8,28.5 1228.3,35.2 C1233.9,41.9 1236.4,62.7 1239.4,75.4 C1242.4,88.1 1244.5,100.8 1246.3,111.4 C1248.2,122.0 1250.7,131.2 1250.5,139.1 C1250.3,146.9 1247.7,150.6 1244.9,158.5 C1242.2,166.3 1238.0,177.4 1233.9,186.2 C1229.7,194.9 1225.6,203.9 1220.0,211.1 C1214.5,218.3 1208.5,226.8 1200.6,229.1 C1192.8,231.4 1181.2,231.2 1172.9,224.9 C1164.6,218.7 1157.7,201.9 1150.8,191.7 C1143.9,181.6 1136.9,173.3 1131.4,164.0 C1125.9,154.8 1120.5,144.2 1117.5,136.3 C1114.5,128.5 1111.1,124.8 1113.4,116.9 Z" fill="#362066" filter="url(#bl2)"/>
<path d="M1131.4,103.1 C1136.0,92.5 1152.2,72.2 1164.6,61.5 C1177.1,50.9 1195.6,43.1 1206.2,39.4 C1216.8,35.7 1222.8,31.1 1228.3,39.4 C1233.9,47.7 1237.6,74.0 1239.4,89.2 C1241.3,104.5 1244.9,120.2 1239.4,130.8 C1233.9,141.4 1218.6,152.0 1206.2,152.9 C1193.7,153.9 1176.2,140.9 1164.6,136.3 C1153.1,131.7 1142.5,130.8 1136.9,125.2 C1131.4,119.7 1126.8,113.7 1131.4,103.1 Z" fill="#1f1138" filter="url(#bl8)"/>
<path d="M1045.5,83.7 C1047.4,69.9 1055.9,84.2 1059.4,92.0 C1062.8,99.9 1065.8,116.9 1066.3,130.8 C1066.8,144.6 1065.2,167.7 1062.2,175.1 C1059.2,182.5 1051.1,190.3 1048.3,175.1 C1045.5,159.9 1043.7,97.5 1045.5,83.7 Z" fill="#3a2270" filter="url(#bl3)"/>
<rect x="1049.0" y="31.0" width="224.0" height="214.0" fill="#000" filter="url(#spk)" opacity="0.55"/>
</g>
<g clip-path="url(#cbo)">
<rect x="1280.0" y="31.0" width="224.0" height="214.0" fill="#0b090d" />
<path d="M1278.2,83.7 C1281.0,74.5 1293.4,94.3 1297.6,103.1 C1301.7,111.9 1303.1,127.6 1303.1,136.3 C1303.1,145.1 1301.3,152.0 1297.6,155.7 C1293.9,159.4 1284.2,170.5 1281.0,158.5 C1277.7,146.5 1275.4,92.9 1278.2,83.7 Z" fill="#3b3440" filter="url(#bl4)"/>
<path d="M1344.7,116.9 C1349.7,108.2 1361.7,94.3 1372.4,83.7 C1383.0,73.1 1395.9,61.1 1408.4,53.2 C1420.8,45.4 1439.3,37.5 1447.1,36.6 C1455.0,35.7 1452.2,38.9 1455.4,47.7 C1458.7,56.5 1462.4,75.4 1466.5,89.2 C1470.7,103.1 1477.6,120.2 1480.4,130.8 C1483.1,141.4 1484.5,143.7 1483.1,152.9 C1481.8,162.2 1476.7,176.0 1472.1,186.2 C1467.4,196.3 1461.4,206.5 1455.4,213.9 C1449.4,221.3 1443.9,228.6 1436.1,230.5 C1428.2,232.3 1416.7,227.7 1408.4,224.9 C1400.0,222.2 1393.6,219.4 1386.2,213.9 C1378.8,208.3 1369.6,200.0 1364.0,191.7 C1358.5,183.4 1356.7,173.3 1353.0,164.0 C1349.3,154.8 1343.3,144.2 1341.9,136.3 C1340.5,128.5 1339.6,125.7 1344.7,116.9 Z" fill="#9c88a4" filter="url(#bl2)"/>
<path d="M1372.4,111.4 C1374.7,103.5 1380.7,96.6 1389.0,89.2 C1397.3,81.9 1412.5,72.6 1422.2,67.1 C1431.9,61.5 1441.6,54.6 1447.1,56.0 C1452.7,57.4 1453.1,66.2 1455.4,75.4 C1457.7,84.6 1462.4,102.2 1461.0,111.4 C1459.6,120.6 1450.4,122.9 1447.1,130.8 C1443.9,138.6 1445.7,151.8 1441.6,158.5 C1437.4,165.2 1429.1,169.6 1422.2,170.9 C1415.3,172.3 1406.0,169.8 1400.0,166.8 C1394.0,163.8 1390.4,158.0 1386.2,152.9 C1382.0,147.9 1377.4,143.2 1375.1,136.3 C1372.8,129.4 1370.0,119.2 1372.4,111.4 Z" fill="#0c0a0e" filter="url(#bl4)"/>
<line x1="1297.6" y1="155.2" x2="1344.7" y2="155.2" stroke="#6a5f70" stroke-width="1.2" />
<line x1="1483.1" y1="156.3" x2="1505.3" y2="156.3" stroke="#4a4250" stroke-width="1.2" />
<rect x="1280.0" y="31.0" width="224.0" height="214.0" fill="#000" filter="url(#spk)" opacity="0.55"/>
</g>
<g clip-path="url(#cbcu)">
<rect x="1049.0" y="253.0" width="224.0" height="214.0" fill="#0c0401" />
<path d="M1123.1,297.0 C1127.7,282.2 1144.3,270.9 1156.3,263.7 C1168.3,256.6 1183.1,255.4 1195.1,254.0 C1207.1,252.6 1220.5,250.6 1228.3,255.4 C1236.2,260.3 1238.5,271.6 1242.2,283.1 C1245.9,294.7 1248.2,310.8 1250.5,324.7 C1252.8,338.5 1257.0,353.3 1256.0,366.2 C1255.1,379.1 1248.6,390.7 1244.9,402.2 C1241.3,413.7 1240.3,427.1 1233.9,435.4 C1227.4,443.7 1216.3,450.2 1206.2,452.1 C1196.0,453.9 1182.2,450.7 1172.9,446.5 C1163.7,442.4 1155.4,435.9 1150.8,427.1 C1146.2,418.4 1148.9,406.4 1145.2,393.9 C1141.6,381.4 1132.3,368.5 1128.6,352.4 C1124.9,336.2 1118.5,311.7 1123.1,297.0 Z" fill="#3c170a" filter="url(#bl4)"/>
<path d="M1142.5,297.0 C1147.6,288.7 1155.9,280.8 1164.6,274.8 C1173.4,268.8 1186.3,263.7 1195.1,261.0 C1203.9,258.2 1210.8,256.8 1217.3,258.2 C1223.7,259.6 1230.6,262.8 1233.9,269.3 C1237.1,275.7 1236.6,287.7 1236.6,297.0 C1236.6,306.2 1236.6,316.3 1233.9,324.7 C1231.1,333.0 1223.7,338.5 1220.0,346.8 C1216.3,355.1 1215.9,366.7 1211.7,374.5 C1207.6,382.4 1202.9,391.6 1195.1,393.9 C1187.3,396.2 1172.9,393.0 1164.6,388.4 C1156.3,383.7 1150.3,376.8 1145.2,366.2 C1140.2,355.6 1134.6,336.2 1134.2,324.7 C1133.7,313.1 1137.4,305.3 1142.5,297.0 Z" fill="#ec6a2c" filter="url(#bl3)"/>
<path d="M1159.1,407.7 C1160.0,402.2 1175.2,402.2 1184.0,402.2 C1192.8,402.2 1208.0,403.1 1211.7,407.7 C1215.4,412.4 1211.7,425.3 1206.2,429.9 C1200.6,434.5 1186.3,439.1 1178.5,435.4 C1170.6,431.7 1158.2,413.3 1159.1,407.7 Z" fill="#150602" filter="url(#bl4)"/>
<g filter="url(#bl1)"><ellipse cx="1159.4" cy="402.8" rx="1.9" ry="5.3" fill="#d05a22" opacity="0.7"/><ellipse cx="1161.0" cy="412.6" rx="1.4" ry="3.1" fill="#d05a22" opacity="0.7"/><ellipse cx="1215.3" cy="390.5" rx="0.9" ry="2.4" fill="#d05a22" opacity="0.7"/><ellipse cx="1172.1" cy="438.8" rx="1.3" ry="4.9" fill="#d05a22" opacity="0.7"/><ellipse cx="1183.4" cy="414.2" rx="1.8" ry="5.2" fill="#d05a22" opacity="0.7"/><ellipse cx="1171.0" cy="438.0" rx="1.8" ry="6.2" fill="#d05a22" opacity="0.7"/><ellipse cx="1235.9" cy="409.0" rx="1.7" ry="3.7" fill="#d05a22" opacity="0.7"/><ellipse cx="1158.5" cy="417.0" rx="1.5" ry="5.6" fill="#d05a22" opacity="0.7"/><ellipse cx="1159.0" cy="427.0" rx="1.1" ry="4.1" fill="#d05a22" opacity="0.7"/><ellipse cx="1189.4" cy="408.5" rx="0.9" ry="3.7" fill="#d05a22" opacity="0.7"/><ellipse cx="1189.5" cy="413.9" rx="1.2" ry="3.5" fill="#d05a22" opacity="0.7"/><ellipse cx="1163.2" cy="410.5" rx="1.2" ry="3.0" fill="#d05a22" opacity="0.7"/><ellipse cx="1196.1" cy="407.9" rx="1.9" ry="6.4" fill="#d05a22" opacity="0.7"/><ellipse cx="1194.6" cy="398.6" rx="1.4" ry="5.4" fill="#d05a22" opacity="0.7"/><ellipse cx="1197.0" cy="411.5" rx="0.9" ry="2.2" fill="#d05a22" opacity="0.7"/><ellipse cx="1156.5" cy="395.0" rx="1.5" ry="4.6" fill="#d05a22" opacity="0.7"/><ellipse cx="1187.7" cy="404.4" rx="1.1" ry="3.7" fill="#d05a22" opacity="0.7"/><ellipse cx="1216.1" cy="431.8" rx="1.8" ry="6.1" fill="#d05a22" opacity="0.7"/><ellipse cx="1217.7" cy="434.3" rx="0.8" ry="2.2" fill="#d05a22" opacity="0.7"/><ellipse cx="1208.1" cy="440.0" rx="1.6" ry="4.8" fill="#d05a22" opacity="0.7"/><ellipse cx="1171.8" cy="411.7" rx="1.2" ry="4.4" fill="#d05a22" opacity="0.7"/><ellipse cx="1203.2" cy="439.1" rx="1.7" ry="6.2" fill="#d05a22" opacity="0.7"/><ellipse cx="1195.7" cy="414.3" rx="1.0" ry="2.3" fill="#d05a22" opacity="0.7"/><ellipse cx="1236.1" cy="393.6" rx="1.2" ry="4.8" fill="#d05a22" opacity="0.7"/><ellipse cx="1150.1" cy="392.9" rx="1.9" ry="5.9" fill="#d05a22" opacity="0.7"/><ellipse cx="1150.2" cy="411.6" rx="0.9" ry="2.9" fill="#d05a22" opacity="0.7"/><ellipse cx="1166.0" cy="439.5" rx="1.8" ry="6.9" fill="#d05a22" opacity="0.7"/><ellipse cx="1189.8" cy="422.6" rx="1.3" ry="2.9" fill="#d05a22" opacity="0.7"/><ellipse cx="1228.0" cy="431.3" rx="1.8" ry="5.3" fill="#d05a22" opacity="0.7"/><ellipse cx="1221.1" cy="386.8" rx="1.5" ry="3.8" fill="#d05a22" opacity="0.7"/><ellipse cx="1185.6" cy="399.5" rx="0.9" ry="3.1" fill="#d05a22" opacity="0.7"/><ellipse cx="1186.5" cy="434.1" rx="1.8" ry="4.0" fill="#d05a22" opacity="0.7"/><ellipse cx="1226.8" cy="386.4" rx="1.1" ry="3.7" fill="#d05a22" opacity="0.7"/><ellipse cx="1148.7" cy="413.3" rx="2.0" ry="5.0" fill="#d05a22" opacity="0.7"/><ellipse cx="1219.0" cy="391.4" rx="1.0" ry="2.8" fill="#d05a22" opacity="0.7"/><ellipse cx="1198.4" cy="409.2" rx="1.0" ry="2.1" fill="#d05a22" opacity="0.7"/><ellipse cx="1184.8" cy="413.1" rx="1.4" ry="3.4" fill="#d05a22" opacity="0.7"/><ellipse cx="1203.6" cy="394.9" rx="1.0" ry="2.1" fill="#d05a22" opacity="0.7"/><ellipse cx="1170.2" cy="396.0" rx="1.4" ry="5.4" fill="#d05a22" opacity="0.7"/><ellipse cx="1212.1" cy="401.1" rx="1.5" ry="4.6" fill="#d05a22" opacity="0.7"/><ellipse cx="1153.5" cy="382.5" rx="1.9" ry="6.6" fill="#d05a22" opacity="0.7"/><ellipse cx="1166.7" cy="399.2" rx="1.4" ry="5.0" fill="#d05a22" opacity="0.7"/><ellipse cx="1179.4" cy="432.0" rx="1.6" ry="3.8" fill="#d05a22" opacity="0.7"/><ellipse cx="1185.6" cy="409.1" rx="1.5" ry="3.2" fill="#d05a22" opacity="0.7"/><ellipse cx="1147.5" cy="398.8" rx="1.4" ry="4.9" fill="#d05a22" opacity="0.7"/><ellipse cx="1157.1" cy="401.3" rx="1.3" ry="4.7" fill="#d05a22" opacity="0.7"/><ellipse cx="1209.5" cy="433.0" rx="1.4" ry="3.4" fill="#d05a22" opacity="0.7"/><ellipse cx="1159.8" cy="400.2" rx="0.9" ry="3.3" fill="#d05a22" opacity="0.7"/><ellipse cx="1165.7" cy="406.0" rx="1.2" ry="2.5" fill="#d05a22" opacity="0.7"/><ellipse cx="1236.3" cy="407.4" rx="1.9" ry="6.4" fill="#d05a22" opacity="0.7"/><ellipse cx="1220.0" cy="435.2" rx="1.4" ry="3.9" fill="#d05a22" opacity="0.7"/><ellipse cx="1162.0" cy="388.8" rx="1.5" ry="3.9" fill="#d05a22" opacity="0.7"/><ellipse cx="1175.3" cy="400.8" rx="1.8" ry="6.9" fill="#d05a22" opacity="0.7"/><ellipse cx="1179.0" cy="413.0" rx="1.1" ry="3.7" fill="#d05a22" opacity="0.7"/><ellipse cx="1228.8" cy="405.2" rx="1.0" ry="2.6" fill="#d05a22" opacity="0.7"/><ellipse cx="1229.7" cy="421.8" rx="1.1" ry="3.6" fill="#d05a22" opacity="0.7"/><ellipse cx="1220.7" cy="410.1" rx="1.6" ry="3.8" fill="#d05a22" opacity="0.7"/><ellipse cx="1151.5" cy="399.2" rx="1.9" ry="4.8" fill="#d05a22" opacity="0.7"/><ellipse cx="1232.3" cy="402.4" rx="0.9" ry="3.5" fill="#d05a22" opacity="0.7"/><ellipse cx="1177.1" cy="441.3" rx="1.7" ry="5.7" fill="#d05a22" opacity="0.7"/><ellipse cx="1226.9" cy="399.7" rx="1.2" ry="4.0" fill="#d05a22" opacity="0.7"/><ellipse cx="1159.1" cy="393.2" rx="0.9" ry="2.3" fill="#d05a22" opacity="0.7"/><ellipse cx="1161.1" cy="420.2" rx="1.2" ry="3.6" fill="#d05a22" opacity="0.7"/><ellipse cx="1174.2" cy="414.5" rx="0.9" ry="2.7" fill="#d05a22" opacity="0.7"/><ellipse cx="1213.8" cy="440.0" rx="1.4" ry="4.6" fill="#d05a22" opacity="0.7"/><ellipse cx="1214.0" cy="392.7" rx="1.7" ry="6.1" fill="#d05a22" opacity="0.7"/><ellipse cx="1206.6" cy="415.6" rx="1.8" ry="7.3" fill="#d05a22" opacity="0.7"/><ellipse cx="1220.7" cy="437.8" rx="1.2" ry="2.7" fill="#d05a22" opacity="0.7"/><ellipse cx="1222.2" cy="428.2" rx="1.8" ry="4.3" fill="#d05a22" opacity="0.7"/><ellipse cx="1225.8" cy="400.1" rx="1.5" ry="3.5" fill="#d05a22" opacity="0.7"/></g>
<path d="M1150.8,429.9 Q1178.5,457.6 1214.5,441.0" fill="none" stroke="#c85a24" stroke-width="2" opacity="0.8"/>
<g filter="url(#bl1)"><ellipse cx="1132.1" cy="337.6" rx="1.3" ry="1.5" fill="#c85a22" opacity="0.6"/><ellipse cx="1124.3" cy="351.0" rx="1.8" ry="2.1" fill="#c85a22" opacity="0.6"/><ellipse cx="1126.2" cy="314.3" rx="0.8" ry="0.8" fill="#c85a22" opacity="0.6"/><ellipse cx="1121.7" cy="337.1" rx="1.4" ry="1.2" fill="#c85a22" opacity="0.6"/><ellipse cx="1123.5" cy="304.4" rx="1.9" ry="2.0" fill="#c85a22" opacity="0.6"/><ellipse cx="1137.9" cy="361.3" rx="1.5" ry="1.5" fill="#c85a22" opacity="0.6"/><ellipse cx="1140.7" cy="357.1" rx="1.1" ry="1.2" fill="#c85a22" opacity="0.6"/><ellipse cx="1131.4" cy="337.9" rx="1.9" ry="1.9" fill="#c85a22" opacity="0.6"/><ellipse cx="1136.0" cy="359.8" rx="1.8" ry="1.8" fill="#c85a22" opacity="0.6"/><ellipse cx="1130.9" cy="341.4" rx="0.9" ry="0.7" fill="#c85a22" opacity="0.6"/><ellipse cx="1134.3" cy="351.8" rx="2.0" ry="1.7" fill="#c85a22" opacity="0.6"/><ellipse cx="1141.5" cy="355.7" rx="1.6" ry="1.8" fill="#c85a22" opacity="0.6"/><ellipse cx="1124.9" cy="328.5" rx="1.3" ry="1.5" fill="#c85a22" opacity="0.6"/><ellipse cx="1127.9" cy="357.9" rx="1.8" ry="1.2" fill="#c85a22" opacity="0.6"/><ellipse cx="1128.0" cy="309.8" rx="1.7" ry="1.0" fill="#c85a22" opacity="0.6"/><ellipse cx="1139.8" cy="363.6" rx="0.9" ry="0.6" fill="#c85a22" opacity="0.6"/><ellipse cx="1123.6" cy="300.3" rx="1.6" ry="1.9" fill="#c85a22" opacity="0.6"/><ellipse cx="1120.6" cy="337.0" rx="1.2" ry="1.0" fill="#c85a22" opacity="0.6"/><ellipse cx="1132.8" cy="358.0" rx="2.0" ry="1.6" fill="#c85a22" opacity="0.6"/><ellipse cx="1140.2" cy="360.1" rx="1.4" ry="1.2" fill="#c85a22" opacity="0.6"/><ellipse cx="1129.6" cy="370.9" rx="1.0" ry="0.9" fill="#c85a22" opacity="0.6"/><ellipse cx="1129.6" cy="313.8" rx="1.8" ry="1.3" fill="#c85a22" opacity="0.6"/><ellipse cx="1126.6" cy="330.5" rx="0.9" ry="0.8" fill="#c85a22" opacity="0.6"/><ellipse cx="1127.0" cy="321.4" rx="1.9" ry="1.6" fill="#c85a22" opacity="0.6"/><ellipse cx="1124.6" cy="349.7" rx="1.6" ry="1.7" fill="#c85a22" opacity="0.6"/><ellipse cx="1136.9" cy="370.5" rx="1.6" ry="1.6" fill="#c85a22" opacity="0.6"/><ellipse cx="1133.1" cy="342.6" rx="1.5" ry="1.0" fill="#c85a22" opacity="0.6"/><ellipse cx="1121.7" cy="330.1" rx="1.7" ry="1.6" fill="#c85a22" opacity="0.6"/><ellipse cx="1133.2" cy="376.6" rx="1.8" ry="2.2" fill="#c85a22" opacity="0.6"/><ellipse cx="1126.0" cy="325.5" rx="2.0" ry="2.1" fill="#c85a22" opacity="0.6"/><ellipse cx="1135.2" cy="350.8" rx="1.4" ry="1.6" fill="#c85a22" opacity="0.6"/><ellipse cx="1123.8" cy="339.6" rx="1.0" ry="1.0" fill="#c85a22" opacity="0.6"/><ellipse cx="1127.3" cy="317.1" rx="1.7" ry="1.3" fill="#c85a22" opacity="0.6"/><ellipse cx="1124.7" cy="334.4" rx="1.1" ry="0.6" fill="#c85a22" opacity="0.6"/><ellipse cx="1137.1" cy="299.3" rx="1.3" ry="1.1" fill="#c85a22" opacity="0.6"/><ellipse cx="1124.2" cy="328.0" rx="0.9" ry="0.5" fill="#c85a22" opacity="0.6"/><ellipse cx="1125.6" cy="326.2" rx="1.8" ry="1.5" fill="#c85a22" opacity="0.6"/><ellipse cx="1129.9" cy="374.6" rx="1.7" ry="1.3" fill="#c85a22" opacity="0.6"/><ellipse cx="1132.8" cy="320.1" rx="1.6" ry="1.7" fill="#c85a22" opacity="0.6"/><ellipse cx="1126.4" cy="348.7" rx="0.8" ry="0.5" fill="#c85a22" opacity="0.6"/></g>
<path d="M1095.4,327.4 C1097.9,324.7 1107.9,322.3 1112.0,324.7 C1116.2,327.0 1120.8,337.1 1120.3,341.3 C1119.9,345.4 1113.2,349.6 1109.2,349.6 C1105.3,349.6 1099.1,345.0 1096.8,341.3 C1094.5,337.6 1092.9,330.2 1095.4,327.4 Z" fill="#c85a25" filter="url(#bl2)"/>
<path d="M1109.2,341.3 C1110.2,336.2 1118.0,341.3 1120.3,346.8 C1122.6,352.4 1124.0,369.4 1123.1,374.5 C1122.2,379.6 1117.1,382.8 1114.8,377.3 C1112.5,371.7 1108.3,346.4 1109.2,341.3 Z" fill="#a04818" filter="url(#bl2)"/>
<path d="M1066.3,353.7 C1069.5,351.4 1083.2,350.3 1087.1,352.4 C1091.0,354.4 1093.1,363.9 1089.9,366.2 C1086.6,368.5 1071.6,368.3 1067.7,366.2 C1063.8,364.1 1063.1,356.0 1066.3,353.7 Z" fill="#a04818" filter="url(#bl2)"/>
<path d="M1045.5,308.0 C1047.4,294.2 1054.8,299.3 1056.6,313.6 C1058.5,327.9 1058.5,380.0 1056.6,393.9 C1054.8,407.7 1047.4,411.0 1045.5,396.7 C1043.7,382.4 1043.7,321.9 1045.5,308.0 Z" fill="#8a3a14" filter="url(#bl3)"/>
<path d="M1244.9,352.4 C1246.8,350.0 1256.5,358.8 1261.6,360.7 C1266.6,362.5 1273.1,360.7 1275.4,363.4 C1277.7,366.2 1279.6,375.4 1275.4,377.3 C1271.3,379.1 1255.6,378.7 1250.5,374.5 C1245.4,370.4 1243.1,354.7 1244.9,352.4 Z" fill="#d8642a" filter="url(#bl2)"/>
<rect x="1049.0" y="253.0" width="224.0" height="214.0" fill="#000" filter="url(#spk)" opacity="0.55"/>
</g>
<g clip-path="url(#cbc)">
<rect x="1280.0" y="253.0" width="224.0" height="214.0" fill="#0c0c04" />
<rect x="1270.0" y="245.0" width="245.0" height="131.0" fill="#6c681e" />
<polygon points="1458.7,245.0 1515.0,245.0 1515.0,376.0 1485.5,376.0 1476.2,343.7 1472.1,310.2 1465.4,276.8" fill="#78731f" filter="url(#bl3)"/>
<path d="M1365.0,294.2 C1372.8,287.5 1388.5,283.1 1398.5,276.8 C1408.5,270.6 1415.3,260.8 1425.3,256.7 C1435.3,252.6 1452.0,248.7 1458.7,252.0 C1465.4,255.3 1463.2,267.1 1465.4,276.8 C1467.6,286.5 1470.3,299.1 1472.1,310.2 C1473.9,321.3 1474.0,332.4 1476.2,343.7 C1478.4,355.0 1507.4,372.3 1485.5,378.0 C1463.6,383.7 1369.7,381.5 1344.9,378.0 C1320.1,374.5 1338.0,365.1 1336.9,357.1 C1335.8,349.2 1335.8,337.0 1338.2,330.3 C1340.7,323.6 1347.1,322.9 1351.6,316.9 C1356.1,310.9 1357.2,300.9 1365.0,294.2 Z" fill="#15150a" filter="url(#bl4)"/>
<path d="M1270.0,302.0 C1275.0,299.3 1290.0,306.5 1300.0,306.0 C1310.0,305.5 1319.2,301.7 1330.0,299.0 C1340.8,296.3 1356.7,291.2 1365.0,290.0 C1373.3,288.8 1380.0,290.3 1380.0,292.0 C1380.0,293.7 1373.3,296.8 1365.0,300.0 C1356.7,303.2 1340.8,308.0 1330.0,311.0 C1319.2,314.0 1307.0,316.2 1300.0,318.0 C1293.0,319.8 1293.0,321.3 1288.0,322.0 C1283.0,322.7 1273.0,325.3 1270.0,322.0 C1267.0,318.7 1265.0,304.7 1270.0,302.0 Z" fill="#0c0c04" filter="url(#bl2)"/>
<polygon points="1270.0,322.0 1288.0,322.0 1294.0,357.0 1300.8,376.0 1270.0,376.0" fill="#101006" filter="url(#bl2)"/>
<polygon points="1270.0,376.0 1515.0,376.0 1515.0,480.0 1270.0,480.0" fill="#0c0c04" />
<line x1="1345.0" y1="376.0" x2="1377.0" y2="422.7" stroke="#4a4818" stroke-width="3" filter="url(#bl1)"/>
<rect x="1280.0" y="253.0" width="224.0" height="214.0" fill="#000" filter="url(#spk)" opacity="0.55"/>
</g>
<text x="1057.0" y="71.2" font-size="26" text-anchor="start" fill="#fff" >Si</text>
<text x="1288.0" y="71.2" font-size="26" text-anchor="start" fill="#fff" >O</text>
<text x="1058.5" y="291.5" font-size="26" text-anchor="start" fill="#fff" >Cu</text>
<text x="1288.0" y="291.5" font-size="26" text-anchor="start" fill="#fff" >C</text>
<g clip-path="url(#cc)">
<rect x="1613.0" y="32.0" width="541.0" height="436.0" fill="#c3c3c3" />
<rect x="1705.0" y="150.0" width="64.0" height="290.0" fill="#c8c8c8" filter="url(#bl4)"/>
<line x1="1652.0" y1="210.0" x2="1669.0" y2="186.0" stroke="#8c8c8c" stroke-width="6" filter="url(#bl2)"/>
<line x1="1645.0" y1="245.0" x2="1705.0" y2="190.0" stroke="#d2d2d2" stroke-width="7" filter="url(#bl3)"/>
<path d="M1613.0,240.0 C1615.8,228.8 1624.7,234.7 1630.0,238.0 C1635.3,241.3 1643.3,249.7 1645.0,260.0 C1646.7,270.3 1645.3,292.5 1640.0,300.0 C1634.7,307.5 1617.5,315.0 1613.0,305.0 C1608.5,295.0 1610.2,251.2 1613.0,240.0 Z" fill="#a6a6a6" filter="url(#bl4)"/>
<line x1="1620.0" y1="290.0" x2="1632.0" y2="245.0" stroke="#7a7a7a" stroke-width="3" filter="url(#bl1)"/>
<polygon points="1600.0,306.8 1629.7,305.2 1651.1,296.9 1675.7,315.0 1702.0,334.7 1708.6,364.3 1720.1,403.7 1708.6,418.5 1695.4,402.1 1679.0,393.9 1659.3,389.0 1634.6,380.7 1600.0,377.5" fill="#8a8a8a" filter="url(#bl3)"/>
<polygon points="1600.0,377.5 1634.6,380.7 1659.3,389.0 1679.0,393.9 1695.4,402.1 1708.6,420.2 1725.0,433.3 1746.4,439.1 1766.1,436.6 1790.7,426.7 1815.4,405.4 1840.0,377.5 1863.0,347.9 1866.6,353.2 1868.1,391.6 1896.2,391.6 1899.2,388.6 1897.7,363.5 1902.1,373.9 1928.7,382.7 1958.3,384.2 1987.9,372.4 2010.0,341.3 2026.3,305.8 2106.2,319.2 2153.5,369.4 2170.0,369.4 2170.0,480.0 1600.0,480.0" fill="#7e7e7e" filter="url(#bl1)"/>
<polygon points="1787.5,364.3 1799.0,352.8 1823.6,339.7 1848.3,331.4 1861.4,336.4 1856.5,356.1 1840.0,377.5 1815.4,405.4 1795.7,413.6 1790.7,397.2" fill="#8c8c8c" filter="url(#bl2)"/>
<g filter="url(#bl1)"><ellipse cx="1650.3" cy="383.1" rx="2.5" ry="1.8" fill="#cccccc" opacity="0.8"/><ellipse cx="1682.6" cy="387.0" rx="1.9" ry="1.9" fill="#cccccc" opacity="0.8"/><ellipse cx="1626.4" cy="373.6" rx="1.5" ry="1.6" fill="#cccccc" opacity="0.8"/><ellipse cx="1625.6" cy="372.8" rx="3.0" ry="1.9" fill="#cccccc" opacity="0.8"/><ellipse cx="1625.2" cy="358.5" rx="3.3" ry="2.2" fill="#cccccc" opacity="0.8"/><ellipse cx="1630.1" cy="363.4" rx="3.1" ry="2.9" fill="#cccccc" opacity="0.8"/><ellipse cx="1689.1" cy="383.6" rx="2.6" ry="1.9" fill="#cccccc" opacity="0.8"/><ellipse cx="1647.6" cy="345.2" rx="2.5" ry="2.8" fill="#cccccc" opacity="0.8"/><ellipse cx="1650.2" cy="357.6" rx="2.6" ry="2.0" fill="#cccccc" opacity="0.8"/><ellipse cx="1649.2" cy="379.7" rx="2.6" ry="3.0" fill="#cccccc" opacity="0.8"/><ellipse cx="1613.6" cy="346.1" rx="2.7" ry="2.1" fill="#cccccc" opacity="0.8"/><ellipse cx="1671.9" cy="359.8" rx="3.9" ry="2.8" fill="#cccccc" opacity="0.8"/><ellipse cx="1662.0" cy="359.6" rx="3.5" ry="2.4" fill="#cccccc" opacity="0.8"/><ellipse cx="1652.7" cy="348.0" rx="3.9" ry="3.2" fill="#cccccc" opacity="0.8"/><ellipse cx="1636.2" cy="350.9" rx="4.1" ry="2.9" fill="#cccccc" opacity="0.8"/><ellipse cx="1644.2" cy="363.1" rx="4.0" ry="3.6" fill="#cccccc" opacity="0.8"/><ellipse cx="1643.9" cy="380.5" rx="2.6" ry="1.8" fill="#cccccc" opacity="0.8"/><ellipse cx="1642.5" cy="352.9" rx="3.1" ry="2.6" fill="#cccccc" opacity="0.8"/><ellipse cx="1669.4" cy="362.3" rx="2.2" ry="2.2" fill="#cccccc" opacity="0.8"/><ellipse cx="1655.1" cy="379.2" rx="2.1" ry="2.0" fill="#cccccc" opacity="0.8"/><ellipse cx="1696.4" cy="384.4" rx="2.7" ry="2.4" fill="#cccccc" opacity="0.8"/><ellipse cx="1660.6" cy="381.6" rx="3.4" ry="3.4" fill="#cccccc" opacity="0.8"/><ellipse cx="1661.8" cy="386.3" rx="2.8" ry="3.3" fill="#cccccc" opacity="0.8"/><ellipse cx="1640.3" cy="359.1" rx="4.0" ry="4.0" fill="#cccccc" opacity="0.8"/><ellipse cx="1649.5" cy="364.6" rx="2.9" ry="2.3" fill="#cccccc" opacity="0.8"/><ellipse cx="1683.7" cy="391.0" rx="2.6" ry="2.8" fill="#cccccc" opacity="0.8"/><ellipse cx="1687.5" cy="371.3" rx="2.7" ry="2.3" fill="#cccccc" opacity="0.8"/><ellipse cx="1619.0" cy="377.9" rx="1.8" ry="1.7" fill="#cccccc" opacity="0.8"/><ellipse cx="1632.1" cy="367.4" rx="4.0" ry="3.6" fill="#cccccc" opacity="0.8"/><ellipse cx="1639.5" cy="360.7" rx="3.4" ry="2.5" fill="#cccccc" opacity="0.8"/><ellipse cx="1654.9" cy="357.2" rx="3.8" ry="2.6" fill="#cccccc" opacity="0.8"/><ellipse cx="1681.6" cy="363.7" rx="2.7" ry="1.9" fill="#cccccc" opacity="0.8"/><ellipse cx="1661.7" cy="368.0" rx="1.5" ry="1.0" fill="#cccccc" opacity="0.8"/><ellipse cx="1619.8" cy="345.3" rx="2.2" ry="1.4" fill="#cccccc" opacity="0.8"/><ellipse cx="1640.7" cy="375.8" rx="1.6" ry="1.8" fill="#cccccc" opacity="0.8"/><ellipse cx="1632.9" cy="377.3" rx="3.0" ry="3.3" fill="#cccccc" opacity="0.8"/><ellipse cx="1673.4" cy="359.5" rx="3.7" ry="2.6" fill="#cccccc" opacity="0.8"/><ellipse cx="1675.8" cy="359.0" rx="2.2" ry="1.4" fill="#cccccc" opacity="0.8"/><ellipse cx="1651.7" cy="368.9" rx="4.1" ry="4.4" fill="#cccccc" opacity="0.8"/><ellipse cx="1677.2" cy="386.0" rx="1.8" ry="2.1" fill="#cccccc" opacity="0.8"/><ellipse cx="1673.5" cy="358.5" rx="2.4" ry="1.5" fill="#cccccc" opacity="0.8"/><ellipse cx="1669.4" cy="376.4" rx="3.6" ry="2.5" fill="#cccccc" opacity="0.8"/><ellipse cx="1667.1" cy="377.8" rx="2.4" ry="2.8" fill="#cccccc" opacity="0.8"/><ellipse cx="1646.0" cy="347.5" rx="4.4" ry="3.2" fill="#cccccc" opacity="0.8"/><ellipse cx="1613.3" cy="364.7" rx="1.7" ry="1.3" fill="#cccccc" opacity="0.8"/><ellipse cx="1655.0" cy="378.9" rx="2.7" ry="1.7" fill="#cccccc" opacity="0.8"/><ellipse cx="1616.6" cy="368.8" rx="2.0" ry="1.7" fill="#cccccc" opacity="0.8"/><ellipse cx="1663.4" cy="378.1" rx="4.4" ry="4.1" fill="#cccccc" opacity="0.8"/><ellipse cx="1615.5" cy="376.1" rx="3.7" ry="4.1" fill="#cccccc" opacity="0.8"/><ellipse cx="1614.3" cy="358.0" rx="2.7" ry="3.1" fill="#cccccc" opacity="0.8"/><ellipse cx="1665.4" cy="371.5" rx="1.8" ry="1.4" fill="#cccccc" opacity="0.8"/><ellipse cx="1665.6" cy="366.5" rx="4.2" ry="2.7" fill="#cccccc" opacity="0.8"/><ellipse cx="1659.7" cy="357.9" rx="3.3" ry="3.1" fill="#cccccc" opacity="0.8"/><ellipse cx="1616.6" cy="356.8" rx="3.4" ry="3.9" fill="#cccccc" opacity="0.8"/><ellipse cx="1639.6" cy="356.2" rx="4.4" ry="3.0" fill="#cccccc" opacity="0.8"/><ellipse cx="1684.0" cy="366.3" rx="3.1" ry="3.1" fill="#cccccc" opacity="0.8"/><ellipse cx="1640.8" cy="347.1" rx="3.1" ry="3.0" fill="#cccccc" opacity="0.8"/><ellipse cx="1672.3" cy="365.0" rx="1.9" ry="1.7" fill="#cccccc" opacity="0.8"/><ellipse cx="1645.6" cy="367.8" rx="1.9" ry="2.1" fill="#cccccc" opacity="0.8"/><ellipse cx="1674.3" cy="375.7" rx="3.0" ry="1.8" fill="#cccccc" opacity="0.8"/></g>
<g filter="url(#bl1)"><ellipse cx="1628.4" cy="312.8" rx="3.7" ry="4.0" fill="#b4b4b4" opacity="0.7"/><ellipse cx="1642.5" cy="319.2" rx="3.8" ry="2.3" fill="#b4b4b4" opacity="0.7"/><ellipse cx="1635.5" cy="329.7" rx="2.5" ry="2.1" fill="#b4b4b4" opacity="0.7"/><ellipse cx="1634.8" cy="324.7" rx="2.9" ry="3.1" fill="#b4b4b4" opacity="0.7"/><ellipse cx="1638.1" cy="325.6" rx="3.7" ry="2.6" fill="#b4b4b4" opacity="0.7"/><ellipse cx="1616.4" cy="335.7" rx="3.6" ry="2.3" fill="#b4b4b4" opacity="0.7"/><ellipse cx="1637.3" cy="320.6" rx="2.3" ry="1.9" fill="#b4b4b4" opacity="0.7"/><ellipse cx="1617.9" cy="302.8" rx="3.1" ry="3.7" fill="#b4b4b4" opacity="0.7"/><ellipse cx="1648.8" cy="325.2" rx="2.6" ry="2.0" fill="#b4b4b4" opacity="0.7"/><ellipse cx="1638.1" cy="326.0" rx="2.4" ry="1.8" fill="#b4b4b4" opacity="0.7"/><ellipse cx="1618.3" cy="303.4" rx="2.1" ry="2.2" fill="#b4b4b4" opacity="0.7"/><ellipse cx="1622.1" cy="335.3" rx="2.3" ry="1.4" fill="#b4b4b4" opacity="0.7"/><ellipse cx="1639.7" cy="318.2" rx="2.9" ry="2.2" fill="#b4b4b4" opacity="0.7"/><ellipse cx="1623.8" cy="331.2" rx="3.2" ry="2.4" fill="#b4b4b4" opacity="0.7"/><ellipse cx="1650.1" cy="327.7" rx="1.8" ry="2.1" fill="#b4b4b4" opacity="0.7"/><ellipse cx="1632.9" cy="334.8" rx="3.2" ry="3.6" fill="#b4b4b4" opacity="0.7"/><ellipse cx="1616.9" cy="335.6" rx="3.1" ry="2.5" fill="#b4b4b4" opacity="0.7"/><ellipse cx="1646.2" cy="314.7" rx="2.5" ry="2.6" fill="#b4b4b4" opacity="0.7"/><ellipse cx="1645.5" cy="333.3" rx="2.0" ry="2.2" fill="#b4b4b4" opacity="0.7"/><ellipse cx="1633.8" cy="302.0" rx="3.7" ry="2.6" fill="#b4b4b4" opacity="0.7"/><ellipse cx="1639.5" cy="321.2" rx="1.7" ry="1.3" fill="#b4b4b4" opacity="0.7"/><ellipse cx="1614.6" cy="322.1" rx="1.6" ry="1.2" fill="#b4b4b4" opacity="0.7"/><ellipse cx="1633.9" cy="302.8" rx="3.8" ry="3.6" fill="#b4b4b4" opacity="0.7"/><ellipse cx="1627.1" cy="323.5" rx="2.6" ry="2.6" fill="#b4b4b4" opacity="0.7"/><ellipse cx="1632.3" cy="313.9" rx="2.3" ry="2.4" fill="#b4b4b4" opacity="0.7"/></g>
<g filter="url(#bl1)"><ellipse cx="1828.3" cy="374.1" rx="1.7" ry="2.0" fill="#cacaca" opacity="0.8"/><ellipse cx="1854.9" cy="345.6" rx="2.4" ry="2.3" fill="#cacaca" opacity="0.8"/><ellipse cx="1846.9" cy="352.2" rx="2.1" ry="1.7" fill="#cacaca" opacity="0.8"/><ellipse cx="1847.3" cy="360.1" rx="3.0" ry="2.1" fill="#cacaca" opacity="0.8"/><ellipse cx="1820.1" cy="399.4" rx="2.1" ry="2.2" fill="#cacaca" opacity="0.8"/><ellipse cx="1817.0" cy="395.6" rx="3.9" ry="3.7" fill="#cacaca" opacity="0.8"/><ellipse cx="1821.4" cy="398.6" rx="3.4" ry="3.5" fill="#cacaca" opacity="0.8"/><ellipse cx="1845.9" cy="367.7" rx="2.3" ry="2.2" fill="#cacaca" opacity="0.8"/><ellipse cx="1843.3" cy="360.4" rx="2.7" ry="1.7" fill="#cacaca" opacity="0.8"/><ellipse cx="1837.9" cy="363.6" rx="3.1" ry="2.9" fill="#cacaca" opacity="0.8"/><ellipse cx="1848.6" cy="350.8" rx="3.8" ry="4.2" fill="#cacaca" opacity="0.8"/><ellipse cx="1834.0" cy="373.5" rx="3.9" ry="3.7" fill="#cacaca" opacity="0.8"/><ellipse cx="1814.4" cy="406.4" rx="3.8" ry="2.6" fill="#cacaca" opacity="0.8"/><ellipse cx="1828.9" cy="387.8" rx="1.6" ry="1.1" fill="#cacaca" opacity="0.8"/><ellipse cx="1829.3" cy="381.6" rx="3.1" ry="3.5" fill="#cacaca" opacity="0.8"/><ellipse cx="1845.7" cy="368.4" rx="2.4" ry="2.1" fill="#cacaca" opacity="0.8"/><ellipse cx="1854.7" cy="357.3" rx="3.8" ry="3.3" fill="#cacaca" opacity="0.8"/><ellipse cx="1837.7" cy="376.0" rx="2.0" ry="2.1" fill="#cacaca" opacity="0.8"/><ellipse cx="1844.3" cy="353.4" rx="2.3" ry="2.5" fill="#cacaca" opacity="0.8"/><ellipse cx="1845.4" cy="354.9" rx="3.6" ry="2.6" fill="#cacaca" opacity="0.8"/><ellipse cx="1833.8" cy="381.2" rx="2.4" ry="2.1" fill="#cacaca" opacity="0.8"/><ellipse cx="1824.5" cy="376.4" rx="3.6" ry="2.5" fill="#cacaca" opacity="0.8"/><ellipse cx="1837.8" cy="372.5" rx="2.5" ry="1.8" fill="#cacaca" opacity="0.8"/><ellipse cx="1836.2" cy="369.3" rx="2.3" ry="2.5" fill="#cacaca" opacity="0.8"/><ellipse cx="1822.4" cy="393.7" rx="2.1" ry="1.5" fill="#cacaca" opacity="0.8"/><ellipse cx="1830.2" cy="371.9" rx="1.9" ry="1.5" fill="#cacaca" opacity="0.8"/><ellipse cx="1816.9" cy="387.8" rx="3.2" ry="2.5" fill="#cacaca" opacity="0.8"/><ellipse cx="1853.2" cy="352.0" rx="3.2" ry="3.6" fill="#cacaca" opacity="0.8"/><ellipse cx="1844.7" cy="354.0" rx="2.5" ry="2.2" fill="#cacaca" opacity="0.8"/><ellipse cx="1834.5" cy="382.3" rx="3.0" ry="2.5" fill="#cacaca" opacity="0.8"/><ellipse cx="1820.4" cy="392.7" rx="2.9" ry="3.0" fill="#cacaca" opacity="0.8"/><ellipse cx="1826.1" cy="386.8" rx="3.2" ry="2.3" fill="#cacaca" opacity="0.8"/><ellipse cx="1840.4" cy="376.3" rx="2.9" ry="1.9" fill="#cacaca" opacity="0.8"/><ellipse cx="1820.2" cy="394.9" rx="2.3" ry="2.4" fill="#cacaca" opacity="0.8"/><ellipse cx="1840.4" cy="370.3" rx="3.9" ry="4.3" fill="#cacaca" opacity="0.8"/></g>
<g filter="url(#bl1)"><ellipse cx="1831.4" cy="352.7" rx="3.6" ry="3.0" fill="#a8a8a8" opacity="0.7"/><ellipse cx="1838.8" cy="340.2" rx="2.3" ry="2.0" fill="#a8a8a8" opacity="0.7"/><ellipse cx="1816.6" cy="356.9" rx="2.4" ry="2.3" fill="#a8a8a8" opacity="0.7"/><ellipse cx="1830.0" cy="356.0" rx="4.0" ry="4.2" fill="#a8a8a8" opacity="0.7"/><ellipse cx="1800.2" cy="374.1" rx="2.7" ry="1.8" fill="#a8a8a8" opacity="0.7"/><ellipse cx="1820.7" cy="363.8" rx="3.8" ry="4.0" fill="#a8a8a8" opacity="0.7"/><ellipse cx="1830.8" cy="345.9" rx="1.8" ry="2.2" fill="#a8a8a8" opacity="0.7"/><ellipse cx="1844.8" cy="338.0" rx="3.3" ry="2.3" fill="#a8a8a8" opacity="0.7"/><ellipse cx="1807.5" cy="364.8" rx="1.7" ry="1.8" fill="#a8a8a8" opacity="0.7"/><ellipse cx="1810.3" cy="372.5" rx="3.3" ry="3.8" fill="#a8a8a8" opacity="0.7"/><ellipse cx="1809.6" cy="365.8" rx="3.8" ry="2.5" fill="#a8a8a8" opacity="0.7"/><ellipse cx="1844.7" cy="344.7" rx="2.5" ry="2.9" fill="#a8a8a8" opacity="0.7"/><ellipse cx="1797.3" cy="365.7" rx="1.6" ry="1.6" fill="#a8a8a8" opacity="0.7"/><ellipse cx="1807.5" cy="371.8" rx="3.0" ry="2.5" fill="#a8a8a8" opacity="0.7"/><ellipse cx="1826.6" cy="362.3" rx="1.9" ry="1.4" fill="#a8a8a8" opacity="0.7"/><ellipse cx="1796.0" cy="363.9" rx="2.3" ry="1.8" fill="#a8a8a8" opacity="0.7"/><ellipse cx="1801.8" cy="370.7" rx="2.2" ry="2.6" fill="#a8a8a8" opacity="0.7"/><ellipse cx="1801.8" cy="368.0" rx="1.7" ry="1.5" fill="#a8a8a8" opacity="0.7"/><ellipse cx="1827.6" cy="345.7" rx="3.8" ry="2.5" fill="#a8a8a8" opacity="0.7"/><ellipse cx="1824.7" cy="361.3" rx="3.4" ry="2.7" fill="#a8a8a8" opacity="0.7"/></g>
<path d="M1965.0,300.0 C1971.7,292.5 1991.7,291.7 2000.0,295.0 C2008.3,298.3 2015.0,310.8 2015.0,320.0 C2015.0,329.2 2006.7,342.5 2000.0,350.0 C1993.3,357.5 1981.7,366.7 1975.0,365.0 C1968.3,363.3 1961.7,350.8 1960.0,340.0 C1958.3,329.2 1958.3,307.5 1965.0,300.0 Z" fill="#b4b4b4" filter="url(#bl4)"/>
<polygon points="1870.3,277.0 1885.8,277.0 1888.8,319.2 1896.2,357.6 1891.8,360.6 1878.4,348.7 1866.6,353.2 1864.4,333.9 1848.9,351.7 1862.2,326.5 1866.6,304.4" fill="#0d0d0d" filter="url(#bl1)"/>
<polygon points="1865.1,354.6 1878.4,348.7 1897.7,363.5 1899.2,388.6 1896.2,391.6 1868.1,391.6 1866.6,387.2" fill="#cdcdcd" filter="url(#bl1)"/>
<polygon points="2017.4,277.7 2143.0,277.7 2143.0,304.4 2026.3,304.4 2017.4,297.0" fill="#5e5e5e" filter="url(#bl2)"/>
<rect x="2030.8" y="277.0" width="94.6" height="5.2" fill="#c8c8c8" filter="url(#bl1)"/>
<polygon points="2109.1,304.4 2160.0,304.4 2160.0,372.0 2106.2,319.2" fill="#c4c4c4" filter="url(#bl3)"/>
<rect x="2141.0" y="32.0" width="13.0" height="272.0" fill="#b0b0b0" filter="url(#bl2)"/>
<rect x="1613.0" y="32.0" width="541.0" height="436.0" fill="#000" filter="url(#grain)" opacity="0.3"/>
</g>
<g clip-path="url(#cci)">
<rect x="1834.5" y="42.2" width="308.8" height="233.6" fill="#241106" />
<polygon points="1820.0,30.0 1953.3,30.0 1963.6,80.5 1959.2,117.7 1945.8,140.0 1919.1,154.8 1896.8,169.7 1882.0,184.5 1886.4,214.2 1889.4,243.9 1886.4,290.0 1820.0,290.0" fill="#c66c1e" filter="url(#bl6)"/>
<polygon points="2024.5,30.0 2133.0,30.0 2139.0,80.5 2109.2,102.8 2104.7,132.5 2082.4,154.8 2067.6,184.5 2037.9,191.9 2027.5,169.7 2024.5,125.1" fill="#c26a1e" filter="url(#bl6)"/>
<polygon points="1953.3,42.0 1990.0,42.0 1985.0,80.0 1965.0,100.0" fill="#6a3410" filter="url(#bl8)"/>
<polygon points="1935.0,170.0 1990.4,160.0 1990.4,230.0 1940.0,215.0" fill="#5a2e0e" filter="url(#bl8)"/>
<polygon points="1993.3,183.0 2008.2,174.1 2017.1,178.6 2029.0,193.4 2027.5,220.1 2023.0,223.1 1994.8,222.3 1993.3,218.6" fill="#d4781f" filter="url(#bl1)"/>
<rect x="1834.5" y="42.2" width="308.8" height="233.6" fill="#000" filter="url(#spk)" opacity="0.45"/>
</g>
<rect x="1834.5" y="42.2" width="308.8" height="233.6" fill="none" stroke="#fff" stroke-width="1.5" stroke-dasharray="4,3"/>
<text x="1623.6" y="68.6" font-size="25" text-anchor="start" fill="#fff" >STEM BF</text>
<text x="2026.0" y="429.4" font-size="28" text-anchor="start" fill="#fff" >250 nm</text>
<rect x="2031.0" y="442.5" width="88.6" height="8.2" fill="#fff" />
<g clip-path="url(#ce)">
<rect x="585.0" y="527.0" width="455.0" height="155.0" fill="#4b4b4b" />
<path d="M602.3,619.8 C607.3,611.4 615.2,599.8 624.8,594.8 C634.4,589.8 648.1,588.6 659.7,589.8 C671.4,591.1 683.9,595.6 694.7,602.3 C705.5,608.9 718.4,619.3 724.6,629.7 C730.9,640.1 737.1,655.9 732.1,664.7 C727.1,673.4 709.2,679.2 694.7,682.1 C680.1,685.1 660.2,684.2 644.8,682.1 C629.4,680.1 610.7,675.9 602.3,669.7 C594.0,663.4 594.9,653.0 594.9,644.7 C594.9,636.4 597.4,628.1 602.3,619.8 Z" fill="#2c2c2c" filter="url(#bl12)"/>
<path d="M949.2,629.7 C955.4,621.4 970.0,612.3 981.6,609.8 C993.3,607.3 1008.7,611.4 1019.1,614.8 C1029.5,618.1 1039.9,618.5 1044.0,629.7 C1048.2,641.0 1058.6,673.4 1044.0,682.1 C1029.5,690.9 973.3,685.9 956.7,682.1 C940.1,678.4 945.5,668.4 944.2,659.7 C943.0,651.0 943.0,638.1 949.2,629.7 Z" fill="#2e2e2e" filter="url(#bl12)"/>
<path d="M719.6,564.9 C727.9,555.3 765.4,553.2 794.5,552.4 C823.6,551.6 869.4,555.7 894.3,559.9 C919.3,564.0 940.1,568.2 944.2,577.3 C948.4,586.5 940.1,607.7 919.3,614.8 C898.5,621.8 848.6,620.6 819.4,619.8 C790.3,618.9 761.2,618.9 744.6,609.8 C727.9,600.6 711.3,574.4 719.6,564.9 Z" fill="#575757" filter="url(#bl12)"/>
<rect x="585.0" y="682.0" width="455.0" height="160.0" fill="#cdcdcd" />
<path d="M844.4,714.6 C861.0,704.2 894.3,700.0 919.3,702.1 C944.2,704.2 983.7,708.3 994.1,727.1 C1004.5,745.8 994.1,794.9 981.6,814.4 C969.2,833.9 942.1,842.3 919.3,844.3 C896.4,846.4 861.0,840.2 844.4,826.9 C827.8,813.6 819.4,783.2 819.4,764.5 C819.4,745.8 827.8,725.0 844.4,714.6 Z" fill="#b8b8b8" filter="url(#bl12)"/>
<path d="M669.7,702.1 C680.1,696.7 707.2,690.5 719.6,694.6 C732.1,698.8 748.7,719.6 744.6,727.1 C740.4,734.5 709.2,739.5 694.7,739.5 C680.1,739.5 661.4,733.3 657.2,727.1 C653.1,720.8 659.3,707.5 669.7,702.1 Z" fill="#bfbfbf" filter="url(#bl12)"/>
<rect x="585.0" y="682.5" width="455.0" height="7.0" fill="#e2e2e2" filter="url(#bl1)"/>
<rect x="585.0" y="527.0" width="455.0" height="315.0" fill="#000" filter="url(#grain)" opacity="0.2"/>
</g>
<text x="597.9" y="567.9" font-size="25" text-anchor="start" fill="#fff" >STEM BF</text>
<text x="610.3" y="656.7" font-size="28.5" text-anchor="start" fill="#fff" >WS<tspan font-size="18" dy="8">2</tspan></text>
<text x="774.5" y="669.7" font-size="28.5" text-anchor="start" fill="#fff" >No Cu diffusion</text>
<line x1="694" y1="654" x2="720" y2="674.5" stroke="#fff" stroke-width="3.5"/>
<polygon points="729,680.5 710.5,677 721.5,665.5" fill="#fff"/>
<text x="648.5" y="806.9" font-size="28" text-anchor="start" fill="#fff" >50 nm</text>
<rect x="611.8" y="815.7" width="154.7" height="8.7" fill="#fff" />
<g clip-path="url(#cesi)">
<rect x="1049.0" y="527.0" width="225.0" height="156.0" fill="#080309" />
<rect x="1049.0" y="604.0" width="225.0" height="79.0" fill="#7a50c0" filter="url(#bl1)"/>
<rect x="1049.0" y="527.0" width="225.0" height="156.0" fill="#000" filter="url(#spk)" opacity="0.55"/>
</g>
<g clip-path="url(#ceo)">
<rect x="1279.5" y="527.0" width="224.5" height="156.0" fill="#0b080c" />
<rect x="1279.5" y="603.0" width="224.5" height="3.0" fill="#8a6c8c" filter="url(#bl1)"/>
<rect x="1279.5" y="527.0" width="224.5" height="156.0" fill="#000" filter="url(#spk)" opacity="0.55"/>
</g>
<g clip-path="url(#cecu)">
<rect x="1049.0" y="687.0" width="225.0" height="155.0" fill="#220c05" />
<rect x="1049.0" y="687.0" width="225.0" height="76.0" fill="#e9692b" filter="url(#bl1)"/>
<rect x="1049.0" y="687.0" width="225.0" height="155.0" fill="#000" filter="url(#spk)" opacity="0.55"/>
</g>
<g clip-path="url(#cew)">
<rect x="1279.5" y="687.0" width="224.5" height="155.0" fill="#0b0d12" />
<rect x="1279.5" y="761.5" width="224.5" height="3.0" fill="#5c8a98" filter="url(#bl1)"/>
<rect x="1279.5" y="687.0" width="224.5" height="155.0" fill="#000" filter="url(#spk)" opacity="0.55"/>
</g>
<text x="1057.0" y="567.6" font-size="26" text-anchor="start" fill="#fff" >Si</text>
<text x="1288.0" y="567.6" font-size="26" text-anchor="start" fill="#fff" >O</text>
<text x="1057.0" y="728.0" font-size="26" text-anchor="start" fill="#fff" >Cu</text>
<text x="1287.0" y="728.0" font-size="26" text-anchor="start" fill="#fff" >W</text>
<g clip-path="url(#cf)">
<rect x="1606.0" y="527.0" width="548.0" height="315.0" fill="#4a4a4a" />
<polygon points="1592.6,522.6 2174.2,522.6 2174.2,570.8 1938.7,565.1 1876.3,570.8 1748.6,570.8 1592.6,570.8" fill="#b4b4b4" />
<polygon points="1592.6,570.8 1748.6,569.4 1876.3,570.8 1938.7,565.1 2174.2,568.0 2174.2,682.0 1592.6,682.0" fill="#8e8e8e" filter="url(#bl1)"/>
<polygon points="1592.6,573.6 1618.1,573.6 1620.9,602.0 1592.6,613.4" fill="#a8a8a8" filter="url(#bl3)"/>
<polygon points="1870.6,573.6 1938.7,565.1 1941.6,682.0 1893.3,682.0" fill="#a6a6a6" filter="url(#bl3)"/>
<polygon points="1731.6,575.1 1768.5,575.1 1805.4,682.0 1782.7,682.0" fill="#6c6c6c" filter="url(#bl3)"/>
<polygon points="1768.5,575.1 1794.0,575.1 1830.9,682.0 1805.4,682.0" fill="#8a8a8a" filter="url(#bl2)"/>
<polygon points="1802.5,576.5 1856.4,579.3 1890.5,682.0 1845.1,682.0" fill="#7a7a7a" filter="url(#bl3)"/>
<polygon points="1592.6,682.0 2174.2,684.9 2174.2,848.9 1592.6,848.9" fill="#4b4b4b" />
<polygon points="1842.2,678.6 1891.9,678.6 1890.5,682.0 1886.2,721.2 1884.2,759.5 1879.1,766.6 1873.5,767.7 1857.9,767.7 1851.3,765.2 1849.3,759.5 1846.5,721.2 1843.7,682.0" fill="#9c9c9c" filter="url(#bl1)"/>
<line x1="1845.1" y1="687.1" x2="1876.3" y2="763.7" stroke="#7a7a7a" stroke-width="4" filter="url(#bl2)"/>
<line x1="1592.6" y1="682.0" x2="1845.1" y2="682.0" stroke="#cfcfcf" stroke-width="1.5" />
<rect x="1606.0" y="527.0" width="548.0" height="315.0" fill="#000" filter="url(#grain)" opacity="0.35"/>
</g>
<g clip-path="url(#cfi)">
<rect x="1940.7" y="535.9" width="204.6" height="227.8" fill="#1f0e04" />
<polygon points="1918.9,522.6 2160.0,522.6 2160.0,630.4 2069.2,630.4 2063.6,638.9 2060.7,707.0 2055.0,718.3 2032.3,719.8 2026.7,712.7 2024.4,638.9 2021.0,630.4 1918.9,630.4" fill="#d6771f" filter="url(#bl1)"/>
<rect x="1940.7" y="535.9" width="204.6" height="227.8" fill="#000" filter="url(#spk)" opacity="0.45"/>
</g>
<rect x="1940.7" y="535.9" width="204.6" height="227.8" fill="none" stroke="#fff" stroke-width="1.5" stroke-dasharray="4,3"/>
<text x="1628.0" y="567.4" font-size="25" text-anchor="start" fill="#fff" >STEM BF</text>
<text x="1637.4" y="804.9" font-size="28" text-anchor="start" fill="#fff" >250 nm</text>
<rect x="1641.4" y="816.8" width="88.5" height="8.8" fill="#fff" />
<rect x="66.4" y="935" width="400.1" height="89" fill="none" stroke="#111" stroke-width="1.6"/>
<line x1="79.3" y1="958.3" x2="100.7" y2="958.3" stroke="#1a9fa3" stroke-width="2.2" />
<text x="117.5" y="967.7" font-size="28" text-anchor="start" fill="#111" >Cu ref.</text>
<line x1="263.8" y1="958.3" x2="285.2" y2="958.3" stroke="#8a1c1c" stroke-width="2.2" />
<text x="301.0" y="967.7" font-size="28" text-anchor="start" fill="#111" >Cu<tspan font-size="20" dy="9">3</tspan><tspan dy="-9">Si ref.</tspan></text>
<line x1="119.7" y1="990.4" x2="119.7" y2="1023.5" stroke="#8a1c1c" stroke-width="2.2" />
<line x1="167.6" y1="989.6" x2="167.6" y2="1023.5" stroke="#8a1c1c" stroke-width="2.2" />
<line x1="177.0" y1="985.1" x2="177.0" y2="1023.5" stroke="#8a1c1c" stroke-width="2.2" />
<line x1="215.9" y1="989.1" x2="215.9" y2="1023.5" stroke="#8a1c1c" stroke-width="2.2" />
<line x1="229.8" y1="973.6" x2="229.8" y2="1023.5" stroke="#8a1c1c" stroke-width="2.2" />
<line x1="232.7" y1="962.3" x2="232.7" y2="1023.5" stroke="#8a1c1c" stroke-width="2.2" />
<line x1="263.3" y1="990.4" x2="263.3" y2="1023.5" stroke="#8a1c1c" stroke-width="2.2" />
<line x1="278.5" y1="991.0" x2="278.5" y2="1023.5" stroke="#8a1c1c" stroke-width="2.2" />
<line x1="319.0" y1="991.0" x2="319.0" y2="1023.5" stroke="#8a1c1c" stroke-width="2.2" />
<line x1="367.7" y1="989.1" x2="367.7" y2="1023.5" stroke="#8a1c1c" stroke-width="2.2" />
<line x1="449.1" y1="990.4" x2="449.1" y2="1023.5" stroke="#8a1c1c" stroke-width="2.2" />
<line x1="452.6" y1="990.4" x2="452.6" y2="1023.5" stroke="#8a1c1c" stroke-width="2.2" />
<line x1="221.5" y1="962.3" x2="221.5" y2="1023.5" stroke="#1a9fa3" stroke-width="2.2" />
<line x1="269.1" y1="978.4" x2="269.1" y2="1023.5" stroke="#1a9fa3" stroke-width="2.2" />
<line x1="426.9" y1="986.4" x2="426.9" y2="1023.5" stroke="#1a9fa3" stroke-width="2.2" />
<rect x="66.4" y="1034.1" width="400.1" height="211.3" fill="none" stroke="#111" stroke-width="1.6"/>
<line x1="133.1" y1="1245.4" x2="133.1" y2="1235.4" stroke="#111" stroke-width="1.5" />
<line x1="199.8" y1="1245.4" x2="199.8" y2="1235.4" stroke="#111" stroke-width="1.5" />
<line x1="266.5" y1="1245.4" x2="266.5" y2="1235.4" stroke="#111" stroke-width="1.5" />
<line x1="333.1" y1="1245.4" x2="333.1" y2="1235.4" stroke="#111" stroke-width="1.5" />
<line x1="399.8" y1="1245.4" x2="399.8" y2="1235.4" stroke="#111" stroke-width="1.5" />
<polyline points="66.4,1129.7 66.8,1123.9 67.1,1125.9 67.5,1125.4 67.9,1126.7 68.2,1122.4 68.6,1124.3 68.9,1123.6 69.3,1123.0 69.7,1123.3 70.0,1123.9 70.4,1124.3 70.8,1123.0 71.1,1125.4 71.5,1123.4 71.9,1118.3 72.2,1126.4 72.6,1123.2 72.9,1122.3 73.3,1124.0 73.7,1123.7 74.0,1123.1 74.4,1121.2 74.8,1123.0 75.1,1119.7 75.5,1125.4 75.9,1120.5 76.2,1122.7 76.6,1123.4 76.9,1124.1 77.3,1123.4 77.7,1125.0 78.0,1117.4 78.4,1124.1 78.8,1124.1 79.1,1123.7 79.5,1127.6 79.9,1122.9 80.2,1124.7 80.6,1121.0 80.9,1125.5 81.3,1121.9 81.7,1122.1 82.0,1129.6 82.4,1126.5 82.8,1125.2 83.1,1125.5 83.5,1122.5 83.9,1123.2 84.2,1126.1 84.6,1121.2 85.0,1125.8 85.3,1122.0 85.7,1125.6 86.0,1123.2 86.4,1128.8 86.8,1127.4 87.1,1124.4 87.5,1121.8 87.9,1123.9 88.2,1125.3 88.6,1123.6 89.0,1126.0 89.3,1127.4 89.7,1125.4 90.0,1124.7 90.4,1127.0 90.8,1125.0 91.1,1127.2 91.5,1124.9 91.9,1128.7 92.2,1125.0 92.6,1123.5 93.0,1125.8 93.3,1124.4 93.7,1123.8 94.0,1125.4 94.4,1127.1 94.8,1121.4 95.1,1125.5 95.5,1125.3 95.9,1125.4 96.2,1127.2 96.6,1123.1 97.0,1126.9 97.3,1125.2 97.7,1125.9 98.0,1125.3 98.4,1125.0 98.8,1124.7 99.1,1126.5 99.5,1129.8 99.9,1127.7 100.2,1127.4 100.6,1126.8 101.0,1124.8 101.3,1126.9 101.7,1129.7 102.0,1123.3 102.4,1127.4 102.8,1127.7 103.1,1126.3 103.5,1127.3 103.9,1128.5 104.2,1130.1 104.6,1128.3 105.0,1129.0 105.3,1126.4 105.7,1127.4 106.0,1126.1 106.4,1126.4 106.8,1124.9 107.1,1127.1 107.5,1128.6 107.9,1125.5 108.2,1126.3 108.6,1127.0 109.0,1125.8 109.3,1127.6 109.7,1126.2 110.0,1123.5 110.4,1123.7 110.8,1127.1 111.1,1126.9 111.5,1127.8 111.9,1126.1 112.2,1126.0 112.6,1122.5 113.0,1128.1 113.3,1123.6 113.7,1127.3 114.0,1123.0 114.4,1123.8 114.8,1125.3 115.1,1124.0 115.5,1123.3 115.9,1126.1 116.2,1125.4 116.6,1124.5 117.0,1122.6 117.3,1121.0 117.7,1120.9 118.0,1119.8 118.4,1119.3 118.8,1118.9 119.1,1114.6 119.5,1110.4 119.9,1107.6 120.2,1109.1 120.6,1107.0 121.0,1109.3 121.3,1112.5 121.7,1116.1 122.1,1117.8 122.4,1121.7 122.8,1122.4 123.1,1116.5 123.5,1122.5 123.9,1129.0 124.2,1121.4 124.6,1124.5 125.0,1126.7 125.3,1124.8 125.7,1127.6 126.1,1122.8 126.4,1123.0 126.8,1125.1 127.1,1124.2 127.5,1123.7 127.9,1126.9 128.2,1126.4 128.6,1125.9 129.0,1125.2 129.3,1126.5 129.7,1125.8 130.1,1124.7 130.4,1127.1 130.8,1126.9 131.1,1126.4 131.5,1127.6 131.9,1124.2 132.2,1126.0 132.6,1125.3 133.0,1128.9 133.3,1127.3 133.7,1130.4 134.1,1129.4 134.4,1125.7 134.8,1124.4 135.1,1127.4 135.5,1125.9 135.9,1126.2 136.2,1124.5 136.6,1127.7 137.0,1126.9 137.3,1127.3 137.7,1127.1 138.1,1124.9 138.4,1122.3 138.8,1126.1 139.1,1125.4 139.5,1125.6 139.9,1128.4 140.2,1126.4 140.6,1129.5 141.0,1127.0 141.3,1128.0 141.7,1127.6 142.1,1128.2 142.4,1124.3 142.8,1128.8 143.1,1126.9 143.5,1124.9 143.9,1127.9 144.2,1127.4 144.6,1129.2 145.0,1128.1 145.3,1127.4 145.7,1123.7 146.1,1129.9 146.4,1129.6 146.8,1128.3 147.1,1127.7 147.5,1129.1 147.9,1125.1 148.2,1128.1 148.6,1126.9 149.0,1124.9 149.3,1127.5 149.7,1127.5 150.1,1130.1 150.4,1128.6 150.8,1123.8 151.1,1123.1 151.5,1126.7 151.9,1126.5 152.2,1125.1 152.6,1124.1 153.0,1126.5 153.3,1124.7 153.7,1125.6 154.1,1128.5 154.4,1127.3 154.8,1125.5 155.1,1124.8 155.5,1126.5 155.9,1130.2 156.2,1125.9 156.6,1130.2 157.0,1125.4 157.3,1126.5 157.7,1128.2 158.1,1125.4 158.4,1127.0 158.8,1124.3 159.2,1128.2 159.5,1129.1 159.9,1125.7 160.2,1127.2 160.6,1126.1 161.0,1122.8 161.3,1132.1 161.7,1128.0 162.1,1128.4 162.4,1127.6 162.8,1127.1 163.2,1131.3 163.5,1123.3 163.9,1126.1 164.2,1125.9 164.6,1126.2 165.0,1127.9 165.3,1125.1 165.7,1123.8 166.1,1124.1 166.4,1127.0 166.8,1127.7 167.2,1127.2 167.5,1128.4 167.9,1124.1 168.2,1126.5 168.6,1125.5 169.0,1123.4 169.3,1121.9 169.7,1124.9 170.1,1122.0 170.4,1123.1 170.8,1122.2 171.2,1127.9 171.5,1124.9 171.9,1124.4 172.2,1125.2 172.6,1125.5 173.0,1126.3 173.3,1123.1 173.7,1124.2 174.1,1127.5 174.4,1128.7 174.8,1124.8 175.2,1127.0 175.5,1125.8 175.9,1122.6 176.2,1126.4 176.6,1124.9 177.0,1128.7 177.3,1126.6 177.7,1127.0 178.1,1124.3 178.4,1127.4 178.8,1123.4 179.2,1127.6 179.5,1129.8 179.9,1124.9 180.2,1128.8 180.6,1129.9 181.0,1126.8 181.3,1129.3 181.7,1127.4 182.1,1126.3 182.4,1123.4 182.8,1125.2 183.2,1124.4 183.5,1131.8 183.9,1127.7 184.2,1126.9 184.6,1124.7 185.0,1130.5 185.3,1125.0 185.7,1130.0 186.1,1129.3 186.4,1127.3 186.8,1125.9 187.2,1127.0 187.5,1124.6 187.9,1128.3 188.2,1130.2 188.6,1128.7 189.0,1128.9 189.3,1125.5 189.7,1127.3 190.1,1124.6 190.4,1125.6 190.8,1127.6 191.2,1130.7 191.5,1125.8 191.9,1125.4 192.2,1121.4 192.6,1125.0 193.0,1122.8 193.3,1121.9 193.7,1122.0 194.1,1125.4 194.4,1124.7 194.8,1127.1 195.2,1125.7 195.5,1126.3 195.9,1129.3 196.3,1128.2 196.6,1128.3 197.0,1129.8 197.3,1127.4 197.7,1125.2 198.1,1125.6 198.4,1124.2 198.8,1127.9 199.2,1126.5 199.5,1128.3 199.9,1128.9 200.3,1125.8 200.6,1127.7 201.0,1129.8 201.3,1127.6 201.7,1129.2 202.1,1127.1 202.4,1125.6 202.8,1127.0 203.2,1123.9 203.5,1128.8 203.9,1126.5 204.3,1130.1 204.6,1125.1 205.0,1127.7 205.3,1128.1 205.7,1127.1 206.1,1128.2 206.4,1126.0 206.8,1125.4 207.2,1124.8 207.5,1126.4 207.9,1125.9 208.3,1127.9 208.6,1126.7 209.0,1126.1 209.3,1126.0 209.7,1123.7 210.1,1126.6 210.4,1128.1 210.8,1124.7 211.2,1126.7 211.5,1128.4 211.9,1125.7 212.3,1127.4 212.6,1126.1 213.0,1131.5 213.3,1129.3 213.7,1128.7 214.1,1124.9 214.4,1127.2 214.8,1125.4 215.2,1126.0 215.5,1123.8 215.9,1124.9 216.3,1122.9 216.6,1125.0 217.0,1127.9 217.3,1122.2 217.7,1122.6 218.1,1126.4 218.4,1127.2 218.8,1125.2 219.2,1127.2 219.5,1127.0 219.9,1127.3 220.3,1129.0 220.6,1125.1 221.0,1127.6 221.3,1126.7 221.7,1124.9 222.1,1127.2 222.4,1123.6 222.8,1123.2 223.2,1128.0 223.5,1123.6 223.9,1128.9 224.3,1127.4 224.6,1124.2 225.0,1123.2 225.3,1120.3 225.7,1124.0 226.1,1120.6 226.4,1126.2 226.8,1119.3 227.2,1121.8 227.5,1115.4 227.9,1118.7 228.3,1120.4 228.6,1114.9 229.0,1111.5 229.3,1109.0 229.7,1106.8 230.1,1103.6 230.4,1097.7 230.8,1092.0 231.2,1096.2 231.5,1098.2 231.9,1101.2 232.3,1096.2 232.6,1093.4 233.0,1086.6 233.4,1080.8 233.7,1072.0 234.1,1056.4 234.4,1054.4 234.8,1057.7 235.2,1070.1 235.5,1083.5 235.9,1095.1 236.3,1100.3 236.6,1107.0 237.0,1114.4 237.4,1115.8 237.7,1118.5 238.1,1119.7 238.4,1120.0 238.8,1122.3 239.2,1123.4 239.5,1123.1 239.9,1125.8 240.3,1124.3 240.6,1126.5 241.0,1125.1 241.4,1126.8 241.7,1124.4 242.1,1124.9 242.4,1123.9 242.8,1128.7 243.2,1127.5 243.5,1127.1 243.9,1128.0 244.3,1125.3 244.6,1127.3 245.0,1126.2 245.4,1123.6 245.7,1126.8 246.1,1125.7 246.4,1130.3 246.8,1126.1 247.2,1126.4 247.5,1129.6 247.9,1127.7 248.3,1125.2 248.6,1128.3 249.0,1126.4 249.4,1131.2 249.7,1125.9 250.1,1126.6 250.4,1122.7 250.8,1126.8 251.2,1131.7 251.5,1127.9 251.9,1126.3 252.3,1128.8 252.6,1127.6 253.0,1128.2 253.4,1133.1 253.7,1132.2 254.1,1131.4 254.4,1131.6 254.8,1126.6 255.2,1124.6 255.5,1129.8 255.9,1129.2 256.3,1128.5 256.6,1128.2 257.0,1129.9 257.4,1129.6 257.7,1129.0 258.1,1129.5 258.4,1128.1 258.8,1127.8 259.2,1131.3 259.5,1128.1 259.9,1132.5 260.3,1129.9 260.6,1128.7 261.0,1130.8 261.4,1127.7 261.7,1128.3 262.1,1128.0 262.4,1128.7 262.8,1130.0 263.2,1132.8 263.5,1129.7 263.9,1126.7 264.3,1127.1 264.6,1125.2 265.0,1130.2 265.4,1130.5 265.7,1129.4 266.1,1129.5 266.5,1129.8 266.8,1129.6 267.2,1130.1 267.5,1129.3 267.9,1126.9 268.3,1130.7 268.6,1131.5 269.0,1125.7 269.4,1128.4 269.7,1126.7 270.1,1129.9 270.5,1128.4 270.8,1131.7 271.2,1131.1 271.5,1128.0 271.9,1128.0 272.3,1127.8 272.6,1130.1 273.0,1127.2 273.4,1129.8 273.7,1126.3 274.1,1131.0 274.5,1129.9 274.8,1126.8 275.2,1127.5 275.5,1129.3 275.9,1129.6 276.3,1123.5 276.6,1129.5 277.0,1132.0 277.4,1128.2 277.7,1126.4 278.1,1131.5 278.5,1129.6 278.8,1129.5 279.2,1130.3 279.5,1126.7 279.9,1127.8 280.3,1126.9 280.6,1126.9 281.0,1128.5 281.4,1127.1 281.7,1132.3 282.1,1130.1 282.5,1130.8 282.8,1125.9 283.2,1128.8 283.5,1128.9 283.9,1129.5 284.3,1130.1 284.6,1127.6 285.0,1127.4 285.4,1131.1 285.7,1133.6 286.1,1133.3 286.5,1128.7 286.8,1127.7 287.2,1129.6 287.5,1130.1 287.9,1132.6 288.3,1128.8 288.6,1127.8 289.0,1131.2 289.4,1127.8 289.7,1127.5 290.1,1130.2 290.5,1128.8 290.8,1127.1 291.2,1128.6 291.5,1128.3 291.9,1128.7 292.3,1127.7 292.6,1130.2 293.0,1128.4 293.4,1127.9 293.7,1131.1 294.1,1127.2 294.5,1130.5 294.8,1130.1 295.2,1128.4 295.5,1129.3 295.9,1126.0 296.3,1129.3 296.6,1126.8 297.0,1127.1 297.4,1129.2 297.7,1127.3 298.1,1128.9 298.5,1129.4 298.8,1130.6 299.2,1129.3 299.5,1130.5 299.9,1126.9 300.3,1127.6 300.6,1129.5 301.0,1130.5 301.4,1129.0 301.7,1127.1 302.1,1126.0 302.5,1126.2 302.8,1130.1 303.2,1126.0 303.6,1127.4 303.9,1129.0 304.3,1128.5 304.6,1126.3 305.0,1131.4 305.4,1127.8 305.7,1128.0 306.1,1128.9 306.5,1126.7 306.8,1128.6 307.2,1126.9 307.6,1125.4 307.9,1125.3 308.3,1127.8 308.6,1127.2 309.0,1126.7 309.4,1126.1 309.7,1126.4 310.1,1128.4 310.5,1129.0 310.8,1126.3 311.2,1127.3 311.6,1123.2 311.9,1124.6 312.3,1125.4 312.6,1125.0 313.0,1128.1 313.4,1122.8 313.7,1127.7 314.1,1128.1 314.5,1131.1 314.8,1125.9 315.2,1127.8 315.6,1129.8 315.9,1128.8 316.3,1125.2 316.6,1126.4 317.0,1124.9 317.4,1127.3 317.7,1128.5 318.1,1129.9 318.5,1128.4 318.8,1129.1 319.2,1129.5 319.6,1125.9 319.9,1128.9 320.3,1129.5 320.6,1127.4 321.0,1126.0 321.4,1128.2 321.7,1128.3 322.1,1129.4 322.5,1124.7 322.8,1127.5 323.2,1132.1 323.6,1130.8 323.9,1128.1 324.3,1127.9 324.6,1128.1 325.0,1126.8 325.4,1127.8 325.7,1128.7 326.1,1126.6 326.5,1128.8 326.8,1129.5 327.2,1126.6 327.6,1128.2 327.9,1126.2 328.3,1129.3 328.6,1129.7 329.0,1128.4 329.4,1129.5 329.7,1130.5 330.1,1130.8 330.5,1127.0 330.8,1129.0 331.2,1126.9 331.6,1126.1 331.9,1131.7 332.3,1131.2 332.6,1132.2 333.0,1131.3 333.4,1128.9 333.7,1130.3 334.1,1128.9 334.5,1132.5 334.8,1125.5 335.2,1130.8 335.6,1128.9 335.9,1131.4 336.3,1132.3 336.6,1128.9 337.0,1132.7 337.4,1132.2 337.7,1127.1 338.1,1133.6 338.5,1127.9 338.8,1127.6 339.2,1132.0 339.6,1128.8 339.9,1130.6 340.3,1130.1 340.7,1128.3 341.0,1133.3 341.4,1133.1 341.7,1130.4 342.1,1133.3 342.5,1130.3 342.8,1130.8 343.2,1129.7 343.6,1127.8 343.9,1129.7 344.3,1128.5 344.7,1131.1 345.0,1130.6 345.4,1129.3 345.7,1132.8 346.1,1131.1 346.5,1133.9 346.8,1129.6 347.2,1129.7 347.6,1129.0 347.9,1130.9 348.3,1130.1 348.7,1130.5 349.0,1133.8 349.4,1132.0 349.7,1129.3 350.1,1131.2 350.5,1130.0 350.8,1129.9 351.2,1130.1 351.6,1130.6 351.9,1131.7 352.3,1132.4 352.7,1130.6 353.0,1129.0 353.4,1130.5 353.7,1130.1 354.1,1130.0 354.5,1128.2 354.8,1130.3 355.2,1127.1 355.6,1133.0 355.9,1132.0 356.3,1132.0 356.7,1128.8 357.0,1131.0 357.4,1133.0 357.7,1130.2 358.1,1128.6 358.5,1130.4 358.8,1126.3 359.2,1132.4 359.6,1131.4 359.9,1128.0 360.3,1132.0 360.7,1132.8 361.0,1131.9 361.4,1131.9 361.7,1133.6 362.1,1131.1 362.5,1133.3 362.8,1130.3 363.2,1129.4 363.6,1130.1 363.9,1128.7 364.3,1131.5 364.7,1129.4 365.0,1131.4 365.4,1131.3 365.7,1133.8 366.1,1134.1 366.5,1129.7 366.8,1130.4 367.2,1130.4 367.6,1129.6 367.9,1134.2 368.3,1133.1 368.7,1130.4 369.0,1128.2 369.4,1129.6 369.7,1130.8 370.1,1133.8 370.5,1128.4 370.8,1133.6 371.2,1128.1 371.6,1131.5 371.9,1128.6 372.3,1130.0 372.7,1126.3 373.0,1132.0 373.4,1130.9 373.7,1128.9 374.1,1126.8 374.5,1130.7 374.8,1130.8 375.2,1128.1 375.6,1131.8 375.9,1130.7 376.3,1128.7 376.7,1129.4 377.0,1126.2 377.4,1132.3 377.8,1132.8 378.1,1130.6 378.5,1128.5 378.8,1128.8 379.2,1130.4 379.6,1129.3 379.9,1131.5 380.3,1129.3 380.7,1132.7 381.0,1133.2 381.4,1129.8 381.8,1129.4 382.1,1125.4 382.5,1131.1 382.8,1131.7 383.2,1129.2 383.6,1133.1 383.9,1129.7 384.3,1128.8 384.7,1132.6 385.0,1131.9 385.4,1127.1 385.8,1129.7 386.1,1128.6 386.5,1130.6 386.8,1131.4 387.2,1130.2 387.6,1131.4 387.9,1132.8 388.3,1130.5 388.7,1128.7 389.0,1129.2 389.4,1132.7 389.8,1134.4 390.1,1130.8 390.5,1131.9 390.8,1129.6 391.2,1130.0 391.6,1133.0 391.9,1130.2 392.3,1131.5 392.7,1131.4 393.0,1133.4 393.4,1131.6 393.8,1131.1 394.1,1130.6 394.5,1130.2 394.8,1133.1 395.2,1135.3 395.6,1128.2 395.9,1133.2 396.3,1129.3 396.7,1130.1 397.0,1130.7 397.4,1130.4 397.8,1130.5 398.1,1130.1 398.5,1134.7 398.8,1128.5 399.2,1130.0 399.6,1129.8 399.9,1131.7 400.3,1128.9 400.7,1131.3 401.0,1131.5 401.4,1135.0 401.8,1132.6 402.1,1131.2 402.5,1131.5 402.8,1134.8 403.2,1131.1 403.6,1130.1 403.9,1130.2 404.3,1130.7 404.7,1133.1 405.0,1129.5 405.4,1130.3 405.8,1131.4 406.1,1129.7 406.5,1132.6 406.8,1130.7 407.2,1132.4 407.6,1132.4 407.9,1134.3 408.3,1134.7 408.7,1129.8 409.0,1129.0 409.4,1129.3 409.8,1132.4 410.1,1132.5 410.5,1131.5 410.8,1131.4 411.2,1134.4 411.6,1133.2 411.9,1131.9 412.3,1132.7 412.7,1128.7 413.0,1133.8 413.4,1135.4 413.8,1131.8 414.1,1130.7 414.5,1133.9 414.9,1130.6 415.2,1131.8 415.6,1132.7 415.9,1131.3 416.3,1132.9 416.7,1127.9 417.0,1127.0 417.4,1133.0 417.8,1132.6 418.1,1132.1 418.5,1130.9 418.9,1131.7 419.2,1132.5 419.6,1129.5 419.9,1132.2 420.3,1130.2 420.7,1135.6 421.0,1132.4 421.4,1132.2 421.8,1133.6 422.1,1133.5 422.5,1133.5 422.9,1130.5 423.2,1132.0 423.6,1133.4 423.9,1132.2 424.3,1132.0 424.7,1130.7 425.0,1132.1 425.4,1134.4 425.8,1129.5 426.1,1129.2 426.5,1129.5 426.9,1128.9 427.2,1134.2 427.6,1135.4 427.9,1132.8 428.3,1132.0 428.7,1134.4 429.0,1133.8 429.4,1127.6 429.8,1131.7 430.1,1136.5 430.5,1131.1 430.9,1130.5 431.2,1130.7 431.6,1134.9 431.9,1131.1 432.3,1132.7 432.7,1134.2 433.0,1132.3 433.4,1132.0 433.8,1130.0 434.1,1129.6 434.5,1134.0 434.9,1129.5 435.2,1134.0 435.6,1134.3 435.9,1134.8 436.3,1131.6 436.7,1130.4 437.0,1132.2 437.4,1134.4 437.8,1133.0 438.1,1132.9 438.5,1131.8 438.9,1133.8 439.2,1128.4 439.6,1129.8 439.9,1135.0 440.3,1132.9 440.7,1133.4 441.0,1128.5 441.4,1130.5 441.8,1131.3 442.1,1131.9 442.5,1134.3 442.9,1131.0 443.2,1132.3 443.6,1130.7 443.9,1131.7 444.3,1132.8 444.7,1132.9 445.0,1134.0 445.4,1129.8 445.8,1133.6 446.1,1133.0 446.5,1130.7 446.9,1134.6 447.2,1130.9 447.6,1131.5 447.9,1133.2 448.3,1134.8 448.7,1131.4 449.0,1135.0 449.4,1133.0 449.8,1130.8 450.1,1133.6 450.5,1132.3 450.9,1130.9 451.2,1132.0 451.6,1134.6 452.0,1132.9 452.3,1131.8 452.7,1133.8 453.0,1129.6 453.4,1133.5 453.8,1134.8 454.1,1130.1 454.5,1130.2 454.9,1130.7 455.2,1131.9 455.6,1130.9 456.0,1132.3 456.3,1130.5 456.7,1132.9 457.0,1133.4 457.4,1133.2 457.8,1131.3 458.1,1133.9 458.5,1129.5 458.9,1131.1 459.2,1132.2 459.6,1134.8 460.0,1131.7 460.3,1133.5 460.7,1135.5 461.0,1136.1 461.4,1135.7 461.8,1130.9 462.1,1132.9 462.5,1133.4 462.9,1133.7 463.2,1133.4 463.6,1132.2 464.0,1132.6 464.3,1129.9 464.7,1133.8 465.0,1133.1 465.4,1131.4 465.8,1135.9 466.1,1132.5 466.5,1131.3" fill="none" stroke="#c08a2c" stroke-width="2.6" stroke-linejoin="round" />
<polyline points="66.4,1219.1 67.0,1220.1 67.5,1218.2 68.1,1219.9 68.7,1218.8 69.3,1218.8 69.8,1220.7 70.4,1219.1 71.0,1219.0 71.5,1219.7 72.1,1220.0 72.7,1219.0 73.3,1219.5 73.8,1218.1 74.4,1218.7 75.0,1218.6 75.5,1217.8 76.1,1217.7 76.7,1217.6 77.3,1218.8 77.8,1218.9 78.4,1218.8 79.0,1219.1 79.5,1217.8 80.1,1219.0 80.7,1219.3 81.3,1219.7 81.8,1218.3 82.4,1218.7 83.0,1217.3 83.5,1218.6 84.1,1217.1 84.7,1217.8 85.3,1220.1 85.8,1217.1 86.4,1219.8 87.0,1219.4 87.5,1218.8 88.1,1219.5 88.7,1219.6 89.3,1220.0 89.8,1218.9 90.4,1218.6 91.0,1218.6 91.5,1218.2 92.1,1219.1 92.7,1218.4 93.3,1220.1 93.8,1217.4 94.4,1218.1 95.0,1218.3 95.6,1217.2 96.1,1220.8 96.7,1217.0 97.3,1218.9 97.8,1218.7 98.4,1220.6 99.0,1217.4 99.6,1220.1 100.1,1218.5 100.7,1219.0 101.3,1218.5 101.8,1219.7 102.4,1218.1 103.0,1219.1 103.6,1219.5 104.1,1220.8 104.7,1217.0 105.3,1220.5 105.8,1220.0 106.4,1218.7 107.0,1219.5 107.6,1218.8 108.1,1220.7 108.7,1219.4 109.3,1219.0 109.8,1219.0 110.4,1219.0 111.0,1219.0 111.6,1218.4 112.1,1221.1 112.7,1217.5 113.3,1216.0 113.8,1219.1 114.4,1219.1 115.0,1219.6 115.6,1219.0 116.1,1219.1 116.7,1219.5 117.3,1220.1 117.8,1218.8 118.4,1218.9 119.0,1221.0 119.6,1219.7 120.1,1218.4 120.7,1221.3 121.3,1219.9 121.8,1218.7 122.4,1218.2 123.0,1219.5 123.6,1218.5 124.1,1218.3 124.7,1218.1 125.3,1218.8 125.8,1220.3 126.4,1218.9 127.0,1218.0 127.6,1219.9 128.1,1219.3 128.7,1220.0 129.3,1220.4 129.8,1219.1 130.4,1219.2 131.0,1219.2 131.6,1218.3 132.1,1219.9 132.7,1220.5 133.3,1219.5 133.8,1219.1 134.4,1219.1 135.0,1218.6 135.6,1218.6 136.1,1218.9 136.7,1218.6 137.3,1218.9 137.8,1217.9 138.4,1219.6 139.0,1219.4 139.6,1218.3 140.1,1217.3 140.7,1219.3 141.3,1220.3 141.8,1218.7 142.4,1218.9 143.0,1218.8 143.6,1219.9 144.1,1218.5 144.7,1220.2 145.3,1219.1 145.8,1220.2 146.4,1219.4 147.0,1219.1 147.6,1218.0 148.1,1218.7 148.7,1219.1 149.3,1220.0 149.8,1219.6 150.4,1218.7 151.0,1219.7 151.6,1220.3 152.1,1219.2 152.7,1219.0 153.3,1219.0 153.9,1220.1 154.4,1219.9 155.0,1218.5 155.6,1219.7 156.1,1218.9 156.7,1218.7 157.3,1220.5 157.9,1220.1 158.4,1218.7 159.0,1219.5 159.6,1219.8 160.1,1218.8 160.7,1219.3 161.3,1220.0 161.9,1217.8 162.4,1219.7 163.0,1220.1 163.6,1219.9 164.1,1218.2 164.7,1219.7 165.3,1218.6 165.9,1219.9 166.4,1220.0 167.0,1219.6 167.6,1218.7 168.1,1218.9 168.7,1220.2 169.3,1218.6 169.9,1219.9 170.4,1219.9 171.0,1219.2 171.6,1221.6 172.1,1219.5 172.7,1221.3 173.3,1217.6 173.9,1217.4 174.4,1220.3 175.0,1220.0 175.6,1219.1 176.1,1219.4 176.7,1217.7 177.3,1218.8 177.9,1218.5 178.4,1219.2 179.0,1220.2 179.6,1219.5 180.1,1219.7 180.7,1218.8 181.3,1219.0 181.9,1219.5 182.4,1219.1 183.0,1220.5 183.6,1218.6 184.1,1221.1 184.7,1218.5 185.3,1220.3 185.9,1218.7 186.4,1220.9 187.0,1219.5 187.6,1219.7 188.1,1220.0 188.7,1218.8 189.3,1218.4 189.9,1217.5 190.4,1220.4 191.0,1218.7 191.6,1218.8 192.1,1219.3 192.7,1221.1 193.3,1217.7 193.9,1219.5 194.4,1218.9 195.0,1219.7 195.6,1217.6 196.1,1218.9 196.7,1220.0 197.3,1220.6 197.9,1220.6 198.4,1218.4 199.0,1219.2 199.6,1219.0 200.1,1217.9 200.7,1217.8 201.3,1219.7 201.9,1219.2 202.4,1218.9 203.0,1220.0 203.6,1218.0 204.1,1219.3 204.7,1218.8 205.3,1218.7 205.9,1219.1 206.4,1218.8 207.0,1218.8 207.6,1218.7 208.1,1220.1 208.7,1218.0 209.3,1219.0 209.9,1218.5 210.4,1217.5 211.0,1218.3 211.6,1216.6 212.2,1218.2 212.7,1216.1 213.3,1216.0 213.9,1216.3 214.4,1216.3 215.0,1215.7 215.6,1214.8 216.2,1212.8 216.7,1210.8 217.3,1210.4 217.9,1207.8 218.4,1203.4 219.0,1200.6 219.6,1193.4 220.2,1183.1 220.7,1171.7 221.3,1155.4 221.9,1145.1 222.4,1147.4 223.0,1157.6 223.6,1173.6 224.2,1184.5 224.7,1195.1 225.3,1200.0 225.9,1205.1 226.4,1206.7 227.0,1210.0 227.6,1212.8 228.2,1213.6 228.7,1212.6 229.3,1215.9 229.9,1216.5 230.4,1215.8 231.0,1217.9 231.6,1216.0 232.2,1217.2 232.7,1218.5 233.3,1218.9 233.9,1219.1 234.4,1217.1 235.0,1216.6 235.6,1218.7 236.2,1217.2 236.7,1218.4 237.3,1217.5 237.9,1219.7 238.4,1219.5 239.0,1219.4 239.6,1218.9 240.2,1219.0 240.7,1218.7 241.3,1219.4 241.9,1219.3 242.4,1219.5 243.0,1218.8 243.6,1220.9 244.2,1219.5 244.7,1220.5 245.3,1220.5 245.9,1218.5 246.4,1217.8 247.0,1220.4 247.6,1219.0 248.2,1219.4 248.7,1219.1 249.3,1219.5 249.9,1218.3 250.4,1219.3 251.0,1218.9 251.6,1219.3 252.2,1217.2 252.7,1220.1 253.3,1219.6 253.9,1217.8 254.4,1218.6 255.0,1219.3 255.6,1219.8 256.2,1219.2 256.7,1220.4 257.3,1219.2 257.9,1218.2 258.4,1218.5 259.0,1219.7 259.6,1218.4 260.2,1219.6 260.7,1219.7 261.3,1219.1 261.9,1219.4 262.4,1218.1 263.0,1218.0 263.6,1217.2 264.2,1216.8 264.7,1215.4 265.3,1215.7 265.9,1214.4 266.5,1213.0 267.0,1212.9 267.6,1211.2 268.2,1208.1 268.7,1207.0 269.3,1204.4 269.9,1203.9 270.5,1203.6 271.0,1205.3 271.6,1209.8 272.2,1211.8 272.7,1214.0 273.3,1215.1 273.9,1216.9 274.5,1216.2 275.0,1217.7 275.6,1216.7 276.2,1215.8 276.7,1217.8 277.3,1219.7 277.9,1217.1 278.5,1219.6 279.0,1218.2 279.6,1218.6 280.2,1219.1 280.7,1219.3 281.3,1218.3 281.9,1219.3 282.5,1219.7 283.0,1220.0 283.6,1218.6 284.2,1220.7 284.7,1221.1 285.3,1221.5 285.9,1218.2 286.5,1219.5 287.0,1217.7 287.6,1219.7 288.2,1219.9 288.7,1218.3 289.3,1217.9 289.9,1219.5 290.5,1219.9 291.0,1218.6 291.6,1219.0 292.2,1216.9 292.7,1218.6 293.3,1219.3 293.9,1219.3 294.5,1220.5 295.0,1218.0 295.6,1217.0 296.2,1219.4 296.7,1218.4 297.3,1219.2 297.9,1219.5 298.5,1219.4 299.0,1220.1 299.6,1220.0 300.2,1217.2 300.7,1218.6 301.3,1220.4 301.9,1218.2 302.5,1219.4 303.0,1218.5 303.6,1218.1 304.2,1219.9 304.7,1219.3 305.3,1218.1 305.9,1219.1 306.5,1217.1 307.0,1217.6 307.6,1219.1 308.2,1218.3 308.7,1217.2 309.3,1218.6 309.9,1218.5 310.5,1219.3 311.0,1219.0 311.6,1217.9 312.2,1217.7 312.7,1218.0 313.3,1217.9 313.9,1219.5 314.5,1219.6 315.0,1219.4 315.6,1218.5 316.2,1218.0 316.7,1219.1 317.3,1218.0 317.9,1218.5 318.5,1216.8 319.0,1218.0 319.6,1219.7 320.2,1217.5 320.7,1217.1 321.3,1218.4 321.9,1220.1 322.5,1219.9 323.0,1218.3 323.6,1218.3 324.2,1218.7 324.8,1218.0 325.3,1218.9 325.9,1218.6 326.5,1217.6 327.0,1218.5 327.6,1218.8 328.2,1218.3 328.8,1218.2 329.3,1220.0 329.9,1221.0 330.5,1219.1 331.0,1219.0 331.6,1219.9 332.2,1219.3 332.8,1218.8 333.3,1220.8 333.9,1218.7 334.5,1219.0 335.0,1219.1 335.6,1218.9 336.2,1219.6 336.8,1220.3 337.3,1221.1 337.9,1220.5 338.5,1219.9 339.0,1218.8 339.6,1219.9 340.2,1219.2 340.8,1219.9 341.3,1220.9 341.9,1220.3 342.5,1219.9 343.0,1219.4 343.6,1220.1 344.2,1220.3 344.8,1219.3 345.3,1219.7 345.9,1221.0 346.5,1218.7 347.0,1219.8 347.6,1219.2 348.2,1221.7 348.8,1220.8 349.3,1220.8 349.9,1220.7 350.5,1220.6 351.0,1220.6 351.6,1218.9 352.2,1220.6 352.8,1220.9 353.3,1219.1 353.9,1221.1 354.5,1221.0 355.0,1219.0 355.6,1220.0 356.2,1220.1 356.8,1219.9 357.3,1220.8 357.9,1219.3 358.5,1220.2 359.0,1220.6 359.6,1221.1 360.2,1220.5 360.8,1220.2 361.3,1221.1 361.9,1218.6 362.5,1221.3 363.0,1220.2 363.6,1219.3 364.2,1220.1 364.8,1218.8 365.3,1218.6 365.9,1220.2 366.5,1219.8 367.0,1221.1 367.6,1219.7 368.2,1219.3 368.8,1219.6 369.3,1222.0 369.9,1220.5 370.5,1219.9 371.0,1219.6 371.6,1219.5 372.2,1220.3 372.8,1220.9 373.3,1221.5 373.9,1221.5 374.5,1220.7 375.0,1219.9 375.6,1219.7 376.2,1218.4 376.8,1219.6 377.3,1220.9 377.9,1220.2 378.5,1220.8 379.0,1219.3 379.6,1221.3 380.2,1220.8 380.8,1220.6 381.3,1220.9 381.9,1218.5 382.5,1220.0 383.1,1219.7 383.6,1222.2 384.2,1220.4 384.8,1220.1 385.3,1221.3 385.9,1219.6 386.5,1221.8 387.1,1219.9 387.6,1220.5 388.2,1219.7 388.8,1221.3 389.3,1218.6 389.9,1221.2 390.5,1219.8 391.1,1220.6 391.6,1219.5 392.2,1220.8 392.8,1220.7 393.3,1221.1 393.9,1220.9 394.5,1221.1 395.1,1221.5 395.6,1220.2 396.2,1219.5 396.8,1219.4 397.3,1221.2 397.9,1220.2 398.5,1221.5 399.1,1220.6 399.6,1219.7 400.2,1221.4 400.8,1222.3 401.3,1220.4 401.9,1219.7 402.5,1219.8 403.1,1221.4 403.6,1220.0 404.2,1220.2 404.8,1221.2 405.3,1220.6 405.9,1220.7 406.5,1220.1 407.1,1220.0 407.6,1220.7 408.2,1220.7 408.8,1221.1 409.3,1220.1 409.9,1220.8 410.5,1220.9 411.1,1220.6 411.6,1221.0 412.2,1221.4 412.8,1220.6 413.3,1220.5 413.9,1219.6 414.5,1220.7 415.1,1220.3 415.6,1220.1 416.2,1219.6 416.8,1220.8 417.3,1222.5 417.9,1220.6 418.5,1220.2 419.1,1220.4 419.6,1219.4 420.2,1219.9 420.8,1219.1 421.3,1218.9 421.9,1219.5 422.5,1219.2 423.1,1218.5 423.6,1217.5 424.2,1217.8 424.8,1215.7 425.3,1216.3 425.9,1213.9 426.5,1212.5 427.1,1211.6 427.6,1210.4 428.2,1208.9 428.8,1211.1 429.3,1213.4 429.9,1213.7 430.5,1213.9 431.1,1217.0 431.6,1217.8 432.2,1218.8 432.8,1218.9 433.3,1219.3 433.9,1219.6 434.5,1220.9 435.1,1220.2 435.6,1220.4 436.2,1219.7 436.8,1221.2 437.3,1220.1 437.9,1221.0 438.5,1218.5 439.1,1220.6 439.6,1220.4 440.2,1220.1 440.8,1221.7 441.4,1220.9 441.9,1220.4 442.5,1220.1 443.1,1222.3 443.6,1221.3 444.2,1221.3 444.8,1220.0 445.4,1221.9 445.9,1221.2 446.5,1220.5 447.1,1220.6 447.6,1219.3 448.2,1221.3 448.8,1219.8 449.4,1221.5 449.9,1220.4 450.5,1220.2 451.1,1221.1 451.6,1221.0 452.2,1219.8 452.8,1220.8 453.4,1221.4 453.9,1220.6 454.5,1219.6 455.1,1220.6 455.6,1220.0 456.2,1220.3 456.8,1220.9 457.4,1220.8 457.9,1220.7 458.5,1219.4 459.1,1221.2 459.6,1220.7 460.2,1220.5 460.8,1221.0 461.4,1222.6 461.9,1219.8 462.5,1219.5 463.1,1221.6 463.6,1220.2 464.2,1222.1 464.8,1220.1 465.4,1220.5 465.9,1221.7 466.5,1221.8" fill="none" stroke="#f06a30" stroke-width="2.4" stroke-linejoin="round" />
<text x="168.2" y="1061.4" font-size="24.5" text-anchor="start" fill="#111" >(300)</text>
<text x="86.2" y="1093.5" font-size="24.5" text-anchor="start" fill="#111" >(020)</text>
<text x="147.3" y="1112.3" font-size="24.5" text-anchor="start" fill="#111" >(021)</text>
<text x="304.5" y="1070.2" font-size="28" text-anchor="start" fill="#111" >Si/Cu</text>
<text x="304.5" y="1102.9" font-size="28" text-anchor="start" fill="#111" >annealed</text>
<text x="264.6" y="1186.7" font-size="28" text-anchor="start" fill="#111" >Si/Cu as-dep.</text>
<text transform="translate(47,1229) rotate(-90)" font-size="28" fill="#111">Intensity (a.u.)</text>
<text x="66.4" y="1275.6" font-size="23.5" text-anchor="middle" fill="#111" >20</text>
<text x="133.1" y="1275.6" font-size="23.5" text-anchor="middle" fill="#111" >30</text>
<text x="199.8" y="1275.6" font-size="23.5" text-anchor="middle" fill="#111" >40</text>
<text x="266.5" y="1275.6" font-size="23.5" text-anchor="middle" fill="#111" >50</text>
<text x="333.1" y="1275.6" font-size="23.5" text-anchor="middle" fill="#111" >60</text>
<text x="399.8" y="1275.6" font-size="23.5" text-anchor="middle" fill="#111" >70</text>
<text x="466.5" y="1275.6" font-size="23.5" text-anchor="middle" fill="#111" >80</text>
<text x="266.0" y="1314.5" font-size="28" text-anchor="middle" fill="#111" >2<tspan font-family="Liberation Serif" font-style="italic">θ</tspan> (°)</text>
<rect x="66.4" y="1336.1" width="400.1" height="231.5" fill="none" stroke="#111" stroke-width="1.6"/>
<line x1="133.1" y1="1567.6" x2="133.1" y2="1556.0" stroke="#111" stroke-width="1.5" />
<line x1="199.8" y1="1567.6" x2="199.8" y2="1556.0" stroke="#111" stroke-width="1.5" />
<line x1="266.5" y1="1567.6" x2="266.5" y2="1556.0" stroke="#111" stroke-width="1.5" />
<line x1="333.1" y1="1567.6" x2="333.1" y2="1556.0" stroke="#111" stroke-width="1.5" />
<line x1="399.8" y1="1567.6" x2="399.8" y2="1556.0" stroke="#111" stroke-width="1.5" />
<polyline points="66.4,1442.3 66.7,1443.3 67.0,1440.9 67.3,1443.0 67.6,1444.5 67.9,1443.1 68.2,1446.1 68.6,1439.7 68.9,1442.2 69.2,1440.2 69.5,1439.9 69.8,1441.5 70.1,1442.5 70.4,1443.0 70.7,1443.2 71.0,1447.7 71.3,1444.1 71.6,1437.7 71.9,1442.3 72.2,1440.1 72.6,1440.4 72.9,1445.1 73.2,1441.1 73.5,1436.6 73.8,1442.4 74.1,1440.8 74.4,1438.5 74.7,1439.1 75.0,1439.9 75.3,1441.4 75.6,1440.3 75.9,1441.6 76.2,1446.2 76.6,1439.3 76.9,1439.2 77.2,1440.7 77.5,1444.1 77.8,1439.4 78.1,1444.9 78.4,1437.8 78.7,1438.5 79.0,1441.0 79.3,1438.8 79.6,1439.4 79.9,1442.2 80.2,1442.9 80.6,1441.3 80.9,1440.2 81.2,1444.4 81.5,1441.9 81.8,1440.2 82.1,1444.0 82.4,1438.4 82.7,1441.2 83.0,1442.4 83.3,1440.6 83.6,1439.2 83.9,1441.5 84.3,1439.2 84.6,1439.0 84.9,1437.9 85.2,1443.9 85.5,1439.0 85.8,1443.4 86.1,1441.4 86.4,1439.7 86.7,1442.1 87.0,1441.0 87.3,1440.6 87.6,1436.7 87.9,1440.4 88.3,1442.5 88.6,1441.5 88.9,1442.8 89.2,1444.0 89.5,1441.2 89.8,1445.2 90.1,1436.1 90.4,1439.4 90.7,1433.5 91.0,1442.1 91.3,1440.2 91.6,1444.4 91.9,1439.0 92.3,1434.7 92.6,1443.2 92.9,1436.4 93.2,1436.6 93.5,1439.4 93.8,1441.5 94.1,1438.5 94.4,1440.3 94.7,1434.9 95.0,1444.3 95.3,1439.6 95.6,1440.1 95.9,1441.3 96.3,1440.2 96.6,1440.3 96.9,1437.4 97.2,1439.5 97.5,1440.9 97.8,1442.5 98.1,1439.5 98.4,1440.0 98.7,1440.7 99.0,1441.3 99.3,1440.4 99.6,1439.2 99.9,1438.5 100.3,1442.8 100.6,1440.6 100.9,1439.9 101.2,1448.9 101.5,1442.2 101.8,1442.1 102.1,1440.3 102.4,1437.3 102.7,1442.9 103.0,1439.7 103.3,1440.1 103.6,1442.7 103.9,1442.7 104.3,1440.7 104.6,1440.1 104.9,1445.6 105.2,1441.6 105.5,1437.5 105.8,1442.1 106.1,1440.6 106.4,1440.3 106.7,1442.0 107.0,1440.9 107.3,1445.5 107.6,1440.9 107.9,1441.0 108.3,1443.4 108.6,1439.0 108.9,1443.1 109.2,1440.4 109.5,1443.6 109.8,1438.4 110.1,1441.7 110.4,1436.5 110.7,1439.6 111.0,1440.8 111.3,1442.1 111.6,1446.0 111.9,1445.7 112.3,1437.4 112.6,1439.0 112.9,1444.3 113.2,1442.2 113.5,1437.5 113.8,1442.4 114.1,1438.3 114.4,1439.0 114.7,1438.0 115.0,1440.6 115.3,1447.2 115.6,1442.4 116.0,1441.2 116.3,1448.0 116.6,1440.4 116.9,1441.2 117.2,1441.0 117.5,1442.8 117.8,1440.9 118.1,1445.6 118.4,1441.1 118.7,1443.3 119.0,1442.5 119.3,1439.8 119.6,1439.5 120.0,1441.9 120.3,1436.2 120.6,1442.2 120.9,1442.4 121.2,1442.6 121.5,1442.1 121.8,1443.3 122.1,1441.5 122.4,1444.1 122.7,1438.3 123.0,1444.9 123.3,1440.3 123.6,1443.9 124.0,1441.5 124.3,1441.6 124.6,1440.7 124.9,1446.3 125.2,1440.0 125.5,1439.8 125.8,1443.5 126.1,1443.7 126.4,1443.1 126.7,1440.6 127.0,1441.4 127.3,1445.5 127.6,1440.5 128.0,1444.8 128.3,1445.1 128.6,1443.6 128.9,1440.2 129.2,1448.3 129.5,1443.7 129.8,1444.0 130.1,1442.5 130.4,1441.1 130.7,1442.9 131.0,1444.1 131.3,1441.4 131.6,1444.0 132.0,1446.7 132.3,1444.9 132.6,1443.5 132.9,1446.5 133.2,1446.2 133.5,1446.2 133.8,1441.8 134.1,1439.2 134.4,1446.0 134.7,1444.1 135.0,1443.1 135.3,1445.3 135.6,1442.9 136.0,1442.5 136.3,1448.8 136.6,1440.0 136.9,1446.3 137.2,1446.8 137.5,1448.8 137.8,1444.9 138.1,1445.6 138.4,1441.9 138.7,1444.4 139.0,1438.9 139.3,1442.9 139.6,1444.3 140.0,1444.1 140.3,1443.2 140.6,1447.5 140.9,1440.4 141.2,1444.8 141.5,1443.5 141.8,1444.6 142.1,1444.7 142.4,1449.6 142.7,1441.8 143.0,1448.1 143.3,1448.3 143.7,1444.3 144.0,1443.1 144.3,1441.5 144.6,1442.5 144.9,1450.0 145.2,1439.1 145.5,1445.9 145.8,1443.0 146.1,1449.7 146.4,1445.6 146.7,1441.3 147.0,1443.5 147.3,1445.3 147.7,1445.2 148.0,1442.4 148.3,1444.2 148.6,1443.7 148.9,1446.2 149.2,1445.6 149.5,1445.5 149.8,1443.4 150.1,1447.0 150.4,1443.5 150.7,1442.8 151.0,1443.9 151.3,1444.2 151.7,1444.2 152.0,1440.0 152.3,1448.6 152.6,1446.7 152.9,1448.5 153.2,1444.1 153.5,1447.0 153.8,1445.6 154.1,1445.2 154.4,1449.8 154.7,1443.6 155.0,1446.6 155.3,1440.7 155.7,1446.6 156.0,1444.7 156.3,1442.6 156.6,1443.7 156.9,1439.7 157.2,1442.5 157.5,1445.7 157.8,1438.4 158.1,1448.0 158.4,1447.8 158.7,1443.3 159.0,1441.4 159.3,1441.7 159.7,1442.0 160.0,1443.3 160.3,1450.9 160.6,1442.4 160.9,1447.3 161.2,1448.6 161.5,1442.9 161.8,1444.7 162.1,1447.1 162.4,1443.7 162.7,1448.6 163.0,1450.9 163.3,1445.3 163.7,1443.3 164.0,1446.9 164.3,1446.3 164.6,1443.5 164.9,1445.1 165.2,1445.7 165.5,1446.8 165.8,1448.4 166.1,1444.2 166.4,1442.1 166.7,1441.3 167.0,1450.3 167.3,1444.4 167.7,1444.4 168.0,1451.9 168.3,1448.4 168.6,1451.3 168.9,1445.1 169.2,1443.7 169.5,1444.2 169.8,1447.2 170.1,1446.6 170.4,1446.6 170.7,1451.5 171.0,1449.1 171.3,1442.8 171.7,1446.7 172.0,1447.1 172.3,1443.7 172.6,1451.6 172.9,1448.0 173.2,1449.6 173.5,1444.3 173.8,1442.7 174.1,1447.6 174.4,1445.2 174.7,1444.2 175.0,1445.4 175.4,1446.2 175.7,1446.1 176.0,1445.2 176.3,1446.9 176.6,1453.3 176.9,1448.8 177.2,1444.4 177.5,1451.0 177.8,1444.5 178.1,1441.7 178.4,1442.2 178.7,1440.5 179.0,1448.8 179.4,1442.9 179.7,1442.1 180.0,1444.3 180.3,1445.3 180.6,1442.6 180.9,1444.3 181.2,1445.8 181.5,1447.5 181.8,1443.4 182.1,1447.3 182.4,1446.5 182.7,1447.3 183.0,1444.5 183.4,1442.8 183.7,1448.4 184.0,1447.4 184.3,1444.1 184.6,1443.8 184.9,1447.7 185.2,1451.2 185.5,1446.9 185.8,1452.5 186.1,1446.7 186.4,1446.8 186.7,1447.2 187.0,1448.8 187.4,1442.0 187.7,1446.3 188.0,1449.3 188.3,1441.9 188.6,1446.6 188.9,1447.9 189.2,1450.5 189.5,1450.1 189.8,1445.9 190.1,1451.4 190.4,1443.1 190.7,1442.4 191.0,1449.5 191.4,1447.8 191.7,1443.1 192.0,1448.9 192.3,1448.3 192.6,1448.0 192.9,1444.9 193.2,1442.8 193.5,1441.7 193.8,1445.5 194.1,1445.7 194.4,1444.8 194.7,1444.7 195.0,1448.5 195.4,1443.2 195.7,1444.2 196.0,1451.3 196.3,1444.5 196.6,1444.5 196.9,1448.9 197.2,1441.4 197.5,1450.4 197.8,1442.8 198.1,1444.0 198.4,1442.8 198.7,1443.7 199.0,1444.3 199.4,1448.6 199.7,1446.0 200.0,1449.8 200.3,1448.2 200.6,1443.0 200.9,1446.3 201.2,1444.6 201.5,1445.1 201.8,1446.6 202.1,1447.2 202.4,1447.4 202.7,1440.7 203.0,1445.8 203.4,1445.1 203.7,1451.1 204.0,1445.6 204.3,1446.2 204.6,1446.3 204.9,1448.3 205.2,1443.3 205.5,1445.9 205.8,1445.9 206.1,1446.2 206.4,1445.6 206.7,1444.9 207.1,1446.5 207.4,1442.8 207.7,1450.5 208.0,1446.2 208.3,1441.5 208.6,1445.5 208.9,1448.7 209.2,1445.7 209.5,1445.9 209.8,1440.3 210.1,1450.0 210.4,1446.4 210.7,1441.1 211.1,1445.0 211.4,1450.0 211.7,1447.2 212.0,1442.2 212.3,1444.7 212.6,1446.8 212.9,1451.5 213.2,1446.7 213.5,1448.0 213.8,1445.2 214.1,1446.1 214.4,1443.3 214.7,1442.4 215.1,1442.2 215.4,1444.2 215.7,1448.9 216.0,1445.5 216.3,1448.6 216.6,1447.3 216.9,1445.6 217.2,1443.7 217.5,1450.4 217.8,1447.5 218.1,1447.5 218.4,1450.4 218.7,1447.4 219.1,1443.5 219.4,1443.3 219.7,1442.9 220.0,1446.4 220.3,1436.8 220.6,1433.5 220.9,1435.7 221.2,1435.8 221.5,1433.5 221.8,1437.3 222.1,1436.8 222.4,1436.1 222.7,1437.6 223.1,1443.7 223.4,1445.2 223.7,1445.5 224.0,1440.9 224.3,1445.9 224.6,1440.2 224.9,1439.0 225.2,1448.7 225.5,1446.8 225.8,1446.6 226.1,1448.8 226.4,1449.7 226.7,1446.2 227.1,1446.4 227.4,1447.4 227.7,1448.1 228.0,1446.5 228.3,1442.6 228.6,1452.7 228.9,1444.3 229.2,1444.8 229.5,1448.0 229.8,1446.3 230.1,1447.9 230.4,1452.9 230.7,1450.3 231.1,1445.4 231.4,1447.5 231.7,1446.5 232.0,1450.0 232.3,1444.4 232.6,1444.3 232.9,1442.4 233.2,1448.2 233.5,1447.9 233.8,1448.8 234.1,1449.1 234.4,1443.8 234.7,1446.0 235.1,1444.1 235.4,1450.2 235.7,1449.3 236.0,1443.2 236.3,1448.4 236.6,1447.3 236.9,1447.4 237.2,1448.9 237.5,1445.5 237.8,1446.3 238.1,1445.4 238.4,1445.4 238.8,1444.4 239.1,1450.2 239.4,1448.7 239.7,1446.5 240.0,1442.9 240.3,1453.1 240.6,1447.3 240.9,1447.7 241.2,1448.9 241.5,1451.7 241.8,1446.5 242.1,1441.1 242.4,1446.4 242.8,1447.2 243.1,1445.8 243.4,1451.1 243.7,1446.1 244.0,1448.1 244.3,1445.2 244.6,1449.3 244.9,1445.5 245.2,1449.5 245.5,1447.7 245.8,1447.8 246.1,1448.2 246.4,1443.2 246.8,1446.2 247.1,1447.9 247.4,1446.4 247.7,1450.5 248.0,1449.7 248.3,1445.5 248.6,1450.5 248.9,1446.8 249.2,1448.8 249.5,1450.6 249.8,1444.5 250.1,1445.3 250.4,1447.3 250.8,1446.8 251.1,1443.0 251.4,1449.2 251.7,1447.9 252.0,1447.9 252.3,1448.2 252.6,1449.3 252.9,1445.3 253.2,1448.3 253.5,1446.3 253.8,1446.2 254.1,1445.2 254.4,1450.6 254.8,1441.0 255.1,1445.5 255.4,1449.2 255.7,1446.6 256.0,1445.7 256.3,1450.1 256.6,1444.9 256.9,1446.6 257.2,1448.4 257.5,1446.0 257.8,1446.0 258.1,1447.5 258.4,1449.8 258.8,1444.9 259.1,1448.6 259.4,1447.1 259.7,1446.3 260.0,1443.7 260.3,1451.7 260.6,1448.6 260.9,1447.8 261.2,1446.2 261.5,1451.2 261.8,1445.2 262.1,1444.2 262.4,1444.7 262.8,1446.6 263.1,1447.4 263.4,1441.3 263.7,1447.1 264.0,1447.0 264.3,1448.9 264.6,1445.1 264.9,1449.6 265.2,1450.7 265.5,1443.8 265.8,1444.2 266.1,1447.1 266.5,1447.2 266.8,1443.5 267.1,1445.9 267.4,1438.1 267.7,1443.6 268.0,1441.2 268.3,1441.0 268.6,1438.2 268.9,1436.7 269.2,1431.6 269.5,1434.0 269.8,1422.9 270.1,1427.4 270.5,1424.5 270.8,1431.8 271.1,1425.3 271.4,1430.8 271.7,1432.8 272.0,1437.2 272.3,1437.0 272.6,1436.0 272.9,1439.8 273.2,1444.4 273.5,1444.3 273.8,1441.2 274.1,1440.5 274.5,1441.0 274.8,1444.5 275.1,1444.7 275.4,1444.5 275.7,1444.4 276.0,1446.5 276.3,1449.7 276.6,1449.0 276.9,1445.5 277.2,1448.8 277.5,1446.2 277.8,1450.3 278.1,1449.8 278.5,1449.6 278.8,1453.1 279.1,1450.1 279.4,1449.8 279.7,1451.1 280.0,1444.9 280.3,1446.8 280.6,1446.8 280.9,1450.0 281.2,1447.9 281.5,1444.6 281.8,1445.9 282.1,1447.4 282.5,1446.7 282.8,1446.7 283.1,1444.1 283.4,1448.3 283.7,1444.7 284.0,1447.0 284.3,1446.5 284.6,1447.3 284.9,1451.8 285.2,1447.0 285.5,1447.1 285.8,1441.7 286.1,1445.9 286.5,1448.8 286.8,1447.4 287.1,1450.3 287.4,1447.5 287.7,1450.3 288.0,1448.9 288.3,1451.1 288.6,1447.5 288.9,1450.6 289.2,1447.0 289.5,1446.3 289.8,1451.2 290.1,1444.7 290.5,1445.9 290.8,1452.6 291.1,1448.7 291.4,1449.3 291.7,1448.9 292.0,1448.2 292.3,1453.4 292.6,1448.4 292.9,1452.0 293.2,1448.2 293.5,1446.4 293.8,1447.5 294.1,1448.3 294.5,1454.9 294.8,1446.6 295.1,1449.3 295.4,1444.1 295.7,1449.6 296.0,1447.7 296.3,1449.1 296.6,1448.3 296.9,1446.8 297.2,1448.1 297.5,1448.0 297.8,1450.6 298.2,1447.7 298.5,1447.5 298.8,1444.4 299.1,1450.1 299.4,1447.3 299.7,1445.3 300.0,1450.8 300.3,1450.0 300.6,1447.5 300.9,1447.7 301.2,1444.0 301.5,1441.3 301.8,1447.7 302.2,1443.4 302.5,1448.9 302.8,1446.3 303.1,1447.8 303.4,1445.7 303.7,1448.2 304.0,1449.1 304.3,1447.3 304.6,1448.9 304.9,1448.9 305.2,1446.4 305.5,1442.3 305.8,1448.4 306.2,1445.1 306.5,1443.9 306.8,1441.8 307.1,1441.9 307.4,1449.9 307.7,1451.1 308.0,1449.9 308.3,1451.7 308.6,1441.4 308.9,1448.3 309.2,1442.7 309.5,1442.4 309.8,1447.8 310.2,1448.6 310.5,1443.8 310.8,1441.9 311.1,1442.0 311.4,1445.6 311.7,1448.4 312.0,1451.3 312.3,1447.3 312.6,1443.4 312.9,1443.3 313.2,1446.2 313.5,1447.8 313.8,1440.8 314.2,1446.8 314.5,1444.5 314.8,1448.3 315.1,1441.8 315.4,1448.7 315.7,1450.0 316.0,1450.0 316.3,1450.4 316.6,1446.7 316.9,1446.7 317.2,1443.6 317.5,1446.4 317.8,1444.5 318.2,1448.2 318.5,1448.6 318.8,1446.3 319.1,1450.9 319.4,1443.3 319.7,1445.4 320.0,1451.4 320.3,1446.4 320.6,1448.9 320.9,1440.5 321.2,1451.1 321.5,1445.4 321.8,1445.6 322.2,1450.0 322.5,1447.7 322.8,1443.0 323.1,1451.1 323.4,1445.2 323.7,1446.8 324.0,1446.1 324.3,1446.7 324.6,1446.8 324.9,1447.1 325.2,1446.8 325.5,1454.6 325.8,1448.9 326.2,1449.8 326.5,1446.7 326.8,1453.0 327.1,1449.8 327.4,1448.7 327.7,1447.1 328.0,1450.6 328.3,1444.1 328.6,1446.9 328.9,1447.8 329.2,1449.7 329.5,1449.2 329.9,1445.0 330.2,1450.4 330.5,1447.8 330.8,1447.6 331.1,1449.3 331.4,1448.2 331.7,1447.9 332.0,1448.1 332.3,1450.9 332.6,1449.3 332.9,1449.8 333.2,1447.5 333.5,1452.3 333.9,1449.6 334.2,1447.4 334.5,1452.2 334.8,1445.8 335.1,1447.5 335.4,1451.5 335.7,1448.3 336.0,1448.7 336.3,1448.6 336.6,1449.5 336.9,1450.7 337.2,1451.1 337.5,1447.8 337.9,1448.3 338.2,1444.5 338.5,1448.3 338.8,1450.8 339.1,1449.7 339.4,1452.7 339.7,1449.0 340.0,1450.4 340.3,1451.9 340.6,1446.7 340.9,1453.2 341.2,1446.2 341.5,1449.0 341.9,1445.0 342.2,1449.0 342.5,1447.2 342.8,1452.3 343.1,1444.5 343.4,1451.0 343.7,1450.8 344.0,1451.2 344.3,1452.4 344.6,1452.0 344.9,1447.5 345.2,1451.4 345.5,1447.9 345.9,1448.1 346.2,1449.1 346.5,1448.6 346.8,1448.3 347.1,1452.6 347.4,1450.1 347.7,1445.0 348.0,1447.9 348.3,1448.6 348.6,1455.8 348.9,1450.6 349.2,1448.6 349.5,1451.1 349.9,1444.0 350.2,1453.9 350.5,1449.1 350.8,1447.5 351.1,1452.1 351.4,1448.0 351.7,1447.1 352.0,1452.1 352.3,1455.1 352.6,1449.1 352.9,1449.8 353.2,1449.7 353.5,1451.1 353.9,1449.0 354.2,1450.4 354.5,1448.1 354.8,1449.7 355.1,1452.2 355.4,1446.2 355.7,1452.0 356.0,1454.5 356.3,1448.4 356.6,1449.2 356.9,1450.4 357.2,1450.0 357.5,1447.4 357.9,1452.3 358.2,1451.8 358.5,1452.8 358.8,1452.0 359.1,1448.6 359.4,1449.8 359.7,1448.6 360.0,1456.9 360.3,1449.2 360.6,1452.5 360.9,1454.1 361.2,1449.9 361.6,1450.9 361.9,1451.3 362.2,1454.4 362.5,1447.2 362.8,1451.0 363.1,1451.4 363.4,1451.5 363.7,1448.3 364.0,1452.7 364.3,1451.6 364.6,1447.8 364.9,1447.7 365.2,1455.4 365.6,1448.8 365.9,1446.3 366.2,1451.4 366.5,1447.6 366.8,1450.3 367.1,1451.7 367.4,1448.0 367.7,1446.8 368.0,1455.2 368.3,1447.1 368.6,1447.4 368.9,1450.4 369.2,1451.5 369.6,1450.2 369.9,1448.2 370.2,1452.8 370.5,1447.6 370.8,1448.4 371.1,1452.2 371.4,1453.1 371.7,1451.7 372.0,1452.8 372.3,1451.5 372.6,1452.6 372.9,1448.7 373.2,1448.7 373.6,1452.0 373.9,1453.1 374.2,1449.5 374.5,1448.6 374.8,1450.2 375.1,1453.3 375.4,1450.3 375.7,1449.9 376.0,1450.2 376.3,1449.8 376.6,1451.9 376.9,1449.5 377.2,1450.9 377.6,1450.0 377.9,1448.6 378.2,1450.7 378.5,1451.4 378.8,1446.2 379.1,1451.2 379.4,1451.3 379.7,1450.3 380.0,1448.0 380.3,1449.0 380.6,1452.4 380.9,1448.4 381.2,1453.2 381.6,1449.7 381.9,1451.6 382.2,1443.1 382.5,1452.1 382.8,1451.2 383.1,1446.6 383.4,1453.3 383.7,1449.5 384.0,1447.8 384.3,1454.3 384.6,1454.3 384.9,1453.4 385.2,1452.9 385.6,1453.7 385.9,1446.3 386.2,1450.4 386.5,1454.4 386.8,1452.3 387.1,1451.1 387.4,1450.1 387.7,1449.9 388.0,1448.9 388.3,1450.6 388.6,1443.6 388.9,1453.5 389.2,1450.9 389.6,1443.5 389.9,1450.9 390.2,1451.4 390.5,1450.5 390.8,1452.6 391.1,1452.9 391.4,1452.4 391.7,1446.5 392.0,1445.3 392.3,1448.8 392.6,1453.1 392.9,1446.0 393.3,1449.5 393.6,1449.4 393.9,1450.5 394.2,1446.8 394.5,1452.3 394.8,1450.2 395.1,1453.2 395.4,1451.2 395.7,1450.8 396.0,1453.4 396.3,1454.2 396.6,1452.2 396.9,1449.0 397.3,1451.8 397.6,1453.6 397.9,1452.9 398.2,1455.1 398.5,1453.9 398.8,1449.9 399.1,1456.4 399.4,1452.7 399.7,1452.7 400.0,1451.4 400.3,1447.8 400.6,1445.8 400.9,1452.6 401.3,1453.5 401.6,1455.2 401.9,1448.7 402.2,1450.7 402.5,1449.6 402.8,1452.5 403.1,1448.9 403.4,1448.7 403.7,1447.1 404.0,1450.4 404.3,1453.4 404.6,1447.7 404.9,1449.7 405.3,1454.5 405.6,1448.7 405.9,1445.4 406.2,1448.3 406.5,1452.8 406.8,1450.8 407.1,1448.3 407.4,1449.0 407.7,1453.9 408.0,1447.1 408.3,1454.2 408.6,1449.5 408.9,1452.1 409.3,1447.8 409.6,1448.3 409.9,1456.7 410.2,1450.1 410.5,1447.9 410.8,1451.7 411.1,1448.6 411.4,1447.8 411.7,1448.0 412.0,1448.9 412.3,1453.7 412.6,1445.9 412.9,1451.2 413.3,1445.9 413.6,1451.5 413.9,1448.6 414.2,1451.5 414.5,1449.1 414.8,1452.1 415.1,1451.4 415.4,1450.6 415.7,1451.1 416.0,1448.1 416.3,1448.3 416.6,1447.1 416.9,1450.4 417.3,1449.8 417.6,1448.2 417.9,1445.5 418.2,1448.1 418.5,1449.3 418.8,1449.8 419.1,1445.9 419.4,1449.1 419.7,1443.8 420.0,1445.4 420.3,1443.4 420.6,1446.3 421.0,1442.9 421.3,1442.8 421.6,1446.8 421.9,1446.1 422.2,1438.3 422.5,1444.4 422.8,1442.7 423.1,1441.7 423.4,1436.7 423.7,1439.6 424.0,1435.7 424.3,1428.3 424.6,1423.4 425.0,1422.7 425.3,1422.4 425.6,1424.5 425.9,1406.5 426.2,1403.8 426.5,1394.0 426.8,1383.8 427.1,1374.1 427.4,1364.1 427.7,1352.7 428.0,1352.1 428.3,1350.2 428.6,1356.9 429.0,1366.4 429.3,1371.9 429.6,1389.5 429.9,1393.0 430.2,1404.3 430.5,1410.5 430.8,1414.9 431.1,1421.9 431.4,1422.3 431.7,1431.1 432.0,1432.1 432.3,1432.9 432.6,1437.1 433.0,1439.2 433.3,1439.5 433.6,1436.2 433.9,1443.2 434.2,1443.8 434.5,1448.9 434.8,1450.5 435.1,1448.2 435.4,1447.2 435.7,1447.3 436.0,1445.5 436.3,1446.1 436.6,1445.2 437.0,1445.9 437.3,1445.8 437.6,1451.6 437.9,1453.0 438.2,1441.4 438.5,1449.0 438.8,1443.7 439.1,1445.6 439.4,1449.0 439.7,1448.9 440.0,1457.9 440.3,1450.2 440.6,1447.7 441.0,1446.2 441.3,1451.6 441.6,1448.3 441.9,1449.4 442.2,1447.0 442.5,1453.7 442.8,1451.9 443.1,1453.8 443.4,1449.5 443.7,1451.2 444.0,1450.1 444.3,1448.4 444.6,1452.7 445.0,1446.4 445.3,1449.5 445.6,1447.9 445.9,1451.5 446.2,1447.5 446.5,1451.0 446.8,1449.2 447.1,1450.3 447.4,1450.4 447.7,1456.6 448.0,1449.1 448.3,1454.9 448.6,1450.6 449.0,1459.3 449.3,1452.3 449.6,1454.4 449.9,1448.2 450.2,1455.8 450.5,1451.6 450.8,1449.9 451.1,1452.1 451.4,1456.2 451.7,1450.4 452.0,1452.5 452.3,1455.1 452.7,1454.8 453.0,1449.6 453.3,1448.1 453.6,1454.7 453.9,1453.5 454.2,1454.2 454.5,1454.8 454.8,1452.4 455.1,1454.1 455.4,1450.8 455.7,1451.7 456.0,1452.7 456.3,1450.8 456.7,1451.8 457.0,1456.7 457.3,1452.1 457.6,1454.5 457.9,1453.1 458.2,1449.1 458.5,1454.3 458.8,1447.5 459.1,1453.5 459.4,1452.2 459.7,1450.2 460.0,1454.3 460.3,1451.3 460.7,1457.6 461.0,1447.8 461.3,1456.2 461.6,1455.1 461.9,1453.8 462.2,1449.4 462.5,1449.3 462.8,1447.1 463.1,1453.2 463.4,1451.9 463.7,1455.0 464.0,1453.2 464.3,1454.2 464.7,1448.5 465.0,1453.1 465.3,1453.8 465.6,1455.5 465.9,1446.0 466.2,1455.8 466.5,1448.0" fill="none" stroke="#9ed3b6" stroke-width="2.8" stroke-linejoin="round" />
<polyline points="66.4,1538.6 66.7,1538.7 67.1,1542.3 67.4,1536.4 67.7,1540.7 68.1,1536.5 68.4,1543.2 68.7,1541.4 69.1,1543.8 69.4,1540.0 69.7,1541.9 70.1,1540.5 70.4,1539.6 70.7,1541.4 71.1,1538.6 71.4,1540.4 71.7,1542.5 72.1,1541.2 72.4,1540.3 72.7,1545.5 73.1,1541.2 73.4,1540.0 73.7,1541.5 74.1,1540.1 74.4,1540.4 74.7,1540.5 75.1,1545.2 75.4,1541.2 75.7,1541.5 76.1,1542.5 76.4,1545.2 76.7,1540.7 77.1,1540.0 77.4,1546.2 77.7,1538.3 78.1,1540.5 78.4,1542.6 78.7,1545.8 79.1,1539.3 79.4,1536.4 79.7,1542.6 80.1,1540.2 80.4,1540.5 80.7,1542.2 81.1,1541.7 81.4,1541.9 81.7,1540.4 82.1,1543.9 82.4,1544.3 82.7,1541.4 83.1,1540.4 83.4,1542.8 83.7,1542.3 84.1,1539.3 84.4,1540.4 84.7,1543.4 85.1,1541.2 85.4,1540.7 85.7,1541.8 86.1,1541.3 86.4,1541.4 86.7,1537.5 87.1,1544.9 87.4,1541.8 87.7,1539.7 88.1,1543.4 88.4,1542.0 88.7,1541.5 89.1,1543.5 89.4,1546.0 89.7,1542.6 90.1,1544.6 90.4,1545.8 90.7,1539.4 91.1,1540.4 91.4,1543.0 91.7,1538.1 92.1,1541.0 92.4,1544.1 92.7,1543.6 93.1,1542.7 93.4,1537.7 93.7,1546.2 94.1,1542.6 94.4,1543.1 94.7,1542.5 95.1,1538.1 95.4,1538.7 95.7,1539.1 96.1,1545.4 96.4,1539.9 96.7,1541.1 97.1,1541.1 97.4,1542.7 97.7,1542.6 98.1,1542.2 98.4,1539.1 98.7,1535.4 99.1,1542.0 99.4,1542.2 99.7,1544.1 100.1,1541.4 100.4,1540.4 100.7,1542.5 101.1,1538.6 101.4,1539.6 101.7,1539.7 102.1,1542.3 102.4,1545.9 102.7,1543.2 103.1,1544.0 103.4,1542.2 103.7,1542.3 104.1,1540.8 104.4,1541.2 104.7,1536.9 105.1,1539.3 105.4,1539.2 105.7,1543.4 106.1,1543.1 106.4,1544.1 106.7,1544.9 107.1,1541.2 107.4,1543.9 107.7,1545.7 108.1,1541.8 108.4,1544.0 108.7,1541.5 109.1,1538.6 109.4,1542.1 109.7,1540.2 110.1,1542.1 110.4,1540.9 110.7,1542.5 111.1,1537.6 111.4,1546.0 111.7,1544.6 112.1,1541.2 112.4,1540.1 112.7,1541.9 113.1,1543.3 113.4,1542.8 113.7,1542.7 114.1,1538.0 114.4,1539.7 114.7,1544.6 115.1,1542.4 115.4,1538.9 115.7,1540.2 116.1,1539.1 116.4,1539.9 116.7,1544.3 117.1,1541.5 117.4,1544.3 117.7,1542.4 118.1,1539.0 118.4,1540.7 118.7,1546.7 119.1,1540.5 119.4,1539.9 119.7,1544.6 120.1,1542.2 120.4,1542.0 120.7,1545.0 121.1,1538.5 121.4,1542.9 121.7,1539.9 122.1,1539.2 122.4,1540.4 122.7,1544.4 123.1,1541.8 123.4,1538.4 123.7,1539.9 124.1,1545.2 124.4,1544.2 124.7,1539.9 125.1,1547.1 125.4,1541.4 125.7,1539.7 126.1,1541.9 126.4,1544.1 126.7,1545.5 127.1,1544.3 127.4,1541.3 127.7,1541.0 128.1,1539.2 128.4,1542.1 128.7,1541.0 129.1,1542.7 129.4,1539.6 129.7,1541.2 130.1,1540.4 130.4,1539.8 130.7,1539.8 131.1,1540.2 131.4,1539.8 131.7,1543.4 132.1,1542.5 132.4,1539.6 132.7,1543.3 133.1,1542.9 133.4,1545.3 133.8,1541.9 134.1,1541.9 134.4,1540.9 134.8,1542.6 135.1,1543.3 135.4,1542.7 135.8,1541.8 136.1,1543.5 136.4,1542.6 136.8,1542.9 137.1,1540.5 137.4,1542.8 137.8,1540.4 138.1,1540.7 138.4,1542.7 138.8,1546.7 139.1,1544.5 139.4,1542.4 139.8,1542.1 140.1,1544.5 140.4,1545.3 140.8,1544.9 141.1,1542.1 141.4,1542.8 141.8,1541.8 142.1,1541.9 142.4,1540.7 142.8,1542.0 143.1,1538.1 143.4,1540.0 143.8,1543.4 144.1,1540.6 144.4,1543.6 144.8,1539.9 145.1,1541.8 145.4,1543.3 145.8,1540.4 146.1,1541.1 146.4,1547.6 146.8,1541.2 147.1,1541.1 147.4,1541.4 147.8,1542.7 148.1,1542.5 148.4,1544.6 148.8,1544.2 149.1,1541.8 149.4,1541.9 149.8,1539.7 150.1,1539.6 150.4,1541.1 150.8,1544.1 151.1,1542.9 151.4,1544.3 151.8,1544.6 152.1,1542.3 152.4,1547.0 152.8,1541.6 153.1,1541.4 153.4,1541.8 153.8,1545.0 154.1,1542.4 154.4,1541.2 154.8,1543.6 155.1,1545.0 155.4,1542.5 155.8,1542.2 156.1,1545.0 156.4,1544.8 156.8,1544.7 157.1,1541.2 157.4,1543.3 157.8,1543.5 158.1,1539.1 158.4,1545.2 158.8,1543.0 159.1,1542.1 159.4,1547.4 159.8,1543.1 160.1,1541.3 160.4,1542.7 160.8,1544.0 161.1,1544.5 161.4,1542.7 161.8,1541.1 162.1,1541.4 162.4,1541.2 162.8,1540.7 163.1,1542.8 163.4,1541.9 163.8,1543.0 164.1,1541.2 164.4,1541.1 164.8,1542.5 165.1,1542.2 165.4,1545.3 165.8,1541.1 166.1,1543.3 166.4,1542.8 166.8,1540.3 167.1,1544.4 167.4,1543.3 167.8,1538.7 168.1,1544.2 168.4,1544.9 168.8,1541.3 169.1,1546.4 169.4,1543.3 169.8,1540.6 170.1,1544.1 170.4,1542.3 170.8,1540.3 171.1,1538.6 171.4,1543.5 171.8,1541.5 172.1,1544.3 172.4,1543.8 172.8,1542.0 173.1,1542.0 173.4,1546.7 173.8,1546.5 174.1,1544.6 174.4,1542.3 174.8,1541.1 175.1,1542.3 175.4,1546.5 175.8,1544.0 176.1,1542.5 176.4,1540.6 176.8,1543.4 177.1,1541.3 177.4,1543.1 177.8,1544.6 178.1,1545.3 178.4,1543.4 178.8,1542.4 179.1,1543.6 179.4,1546.8 179.8,1543.9 180.1,1540.3 180.4,1546.3 180.8,1543.7 181.1,1550.3 181.4,1542.2 181.8,1543.0 182.1,1542.6 182.4,1544.0 182.8,1542.0 183.1,1540.2 183.4,1539.3 183.8,1542.9 184.1,1542.2 184.4,1542.0 184.8,1547.5 185.1,1544.8 185.4,1545.4 185.8,1542.2 186.1,1543.8 186.4,1542.8 186.8,1542.8 187.1,1544.8 187.4,1544.5 187.8,1543.9 188.1,1543.6 188.4,1540.3 188.8,1541.8 189.1,1544.0 189.4,1542.5 189.8,1541.7 190.1,1544.0 190.4,1541.4 190.8,1541.9 191.1,1545.1 191.4,1542.6 191.8,1546.2 192.1,1544.3 192.4,1544.9 192.8,1545.6 193.1,1538.9 193.4,1543.1 193.8,1540.7 194.1,1542.4 194.4,1543.1 194.8,1545.8 195.1,1543.2 195.4,1546.6 195.8,1542.2 196.1,1543.2 196.4,1543.5 196.8,1545.2 197.1,1543.2 197.4,1542.0 197.8,1542.6 198.1,1540.4 198.4,1545.8 198.8,1544.8 199.1,1544.1 199.4,1543.8 199.8,1542.0 200.1,1542.4 200.4,1544.9 200.8,1541.7 201.1,1541.7 201.4,1546.4 201.8,1546.4 202.1,1543.8 202.4,1544.3 202.8,1543.6 203.1,1546.1 203.4,1542.3 203.8,1543.3 204.1,1544.1 204.4,1546.0 204.8,1542.6 205.1,1543.6 205.4,1542.1 205.8,1541.7 206.1,1541.7 206.4,1543.2 206.8,1544.8 207.1,1541.6 207.4,1541.7 207.8,1542.1 208.1,1543.6 208.4,1544.2 208.8,1540.2 209.1,1543.4 209.4,1540.7 209.8,1544.0 210.1,1540.6 210.4,1540.3 210.8,1541.0 211.1,1542.2 211.4,1540.2 211.8,1542.6 212.1,1542.3 212.4,1542.1 212.8,1542.3 213.1,1543.4 213.4,1540.0 213.8,1541.3 214.1,1541.0 214.4,1536.7 214.8,1541.3 215.1,1538.7 215.4,1538.4 215.8,1538.5 216.1,1539.2 216.4,1539.1 216.8,1538.7 217.1,1535.6 217.4,1537.5 217.8,1535.8 218.1,1532.9 218.4,1532.0 218.8,1531.8 219.1,1528.7 219.4,1526.3 219.8,1521.7 220.1,1519.7 220.4,1517.3 220.8,1508.9 221.1,1500.3 221.4,1503.7 221.8,1497.9 222.1,1497.5 222.4,1498.8 222.8,1508.9 223.1,1515.1 223.4,1519.5 223.8,1520.8 224.1,1527.9 224.4,1527.7 224.8,1529.1 225.1,1532.3 225.4,1534.2 225.8,1535.2 226.1,1537.0 226.4,1532.8 226.8,1541.1 227.1,1537.4 227.4,1540.5 227.8,1538.0 228.1,1540.4 228.4,1540.1 228.8,1537.6 229.1,1541.8 229.4,1542.6 229.8,1539.3 230.1,1537.5 230.4,1540.6 230.8,1540.4 231.1,1542.4 231.4,1542.3 231.8,1545.7 232.1,1543.9 232.4,1542.2 232.8,1543.1 233.1,1537.1 233.4,1541.1 233.8,1541.2 234.1,1542.9 234.4,1543.8 234.8,1543.6 235.1,1545.1 235.4,1541.9 235.8,1544.0 236.1,1543.1 236.4,1543.5 236.8,1544.1 237.1,1543.0 237.4,1544.0 237.8,1543.5 238.1,1545.7 238.4,1543.4 238.8,1544.3 239.1,1548.9 239.4,1545.0 239.8,1544.8 240.1,1545.9 240.4,1541.8 240.8,1545.2 241.1,1545.3 241.4,1544.7 241.8,1545.8 242.1,1545.5 242.4,1546.3 242.8,1542.6 243.1,1544.8 243.4,1542.9 243.8,1546.4 244.1,1544.2 244.4,1541.4 244.8,1544.2 245.1,1542.0 245.4,1546.0 245.8,1543.3 246.1,1539.7 246.4,1543.3 246.8,1546.1 247.1,1544.7 247.4,1542.8 247.8,1545.4 248.1,1545.2 248.4,1547.0 248.8,1545.9 249.1,1544.8 249.4,1542.5 249.8,1544.6 250.1,1544.7 250.4,1544.1 250.8,1544.9 251.1,1541.7 251.4,1545.2 251.8,1544.1 252.1,1544.8 252.4,1543.9 252.8,1543.4 253.1,1544.5 253.4,1545.6 253.8,1543.4 254.1,1544.6 254.4,1542.5 254.8,1544.8 255.1,1544.0 255.4,1541.4 255.8,1546.2 256.1,1542.1 256.4,1544.0 256.8,1541.2 257.1,1540.3 257.4,1545.1 257.8,1540.9 258.1,1539.5 258.4,1543.2 258.8,1540.5 259.1,1543.1 259.4,1547.1 259.8,1542.6 260.1,1544.0 260.4,1544.3 260.8,1543.6 261.1,1542.7 261.4,1545.8 261.8,1542.5 262.1,1543.2 262.4,1542.5 262.8,1539.6 263.1,1542.5 263.4,1541.7 263.8,1542.6 264.1,1542.3 264.4,1543.7 264.8,1536.3 265.1,1538.5 265.4,1538.0 265.8,1536.5 266.1,1538.3 266.5,1536.4 266.8,1535.8 267.1,1531.1 267.5,1531.1 267.8,1531.5 268.1,1529.4 268.5,1527.8 268.8,1527.7 269.1,1526.7 269.5,1524.9 269.8,1530.5 270.1,1526.6 270.5,1530.3 270.8,1531.5 271.1,1533.6 271.5,1532.0 271.8,1532.4 272.1,1536.5 272.5,1537.2 272.8,1532.9 273.1,1533.3 273.5,1538.1 273.8,1539.0 274.1,1539.8 274.5,1541.6 274.8,1539.3 275.1,1546.8 275.5,1543.7 275.8,1544.7 276.1,1543.0 276.5,1538.5 276.8,1543.3 277.1,1541.9 277.5,1544.1 277.8,1543.1 278.1,1544.8 278.5,1541.8 278.8,1543.0 279.1,1543.8 279.5,1542.4 279.8,1543.1 280.1,1545.3 280.5,1547.9 280.8,1543.8 281.1,1545.9 281.5,1542.1 281.8,1543.5 282.1,1545.1 282.5,1545.6 282.8,1542.5 283.1,1545.7 283.5,1544.9 283.8,1547.2 284.1,1546.5 284.5,1545.8 284.8,1543.9 285.1,1545.3 285.5,1543.1 285.8,1543.2 286.1,1541.2 286.5,1542.3 286.8,1542.4 287.1,1544.7 287.5,1545.1 287.8,1542.3 288.1,1544.7 288.5,1545.7 288.8,1546.8 289.1,1544.8 289.5,1545.4 289.8,1544.2 290.1,1546.8 290.5,1541.9 290.8,1545.5 291.1,1540.4 291.5,1548.4 291.8,1546.8 292.1,1540.9 292.5,1544.0 292.8,1542.2 293.1,1541.5 293.5,1544.2 293.8,1543.3 294.1,1547.1 294.5,1544.0 294.8,1542.8 295.1,1544.8 295.5,1545.8 295.8,1546.6 296.1,1545.9 296.5,1542.0 296.8,1543.3 297.1,1544.5 297.5,1543.2 297.8,1546.3 298.1,1544.2 298.5,1544.7 298.8,1544.1 299.1,1544.9 299.5,1541.8 299.8,1548.9 300.1,1543.6 300.5,1543.2 300.8,1541.1 301.1,1544.4 301.5,1541.9 301.8,1545.2 302.1,1546.9 302.5,1545.7 302.8,1543.6 303.1,1546.9 303.5,1544.0 303.8,1544.2 304.1,1544.4 304.5,1543.3 304.8,1545.1 305.1,1541.8 305.5,1540.7 305.8,1546.5 306.1,1542.7 306.5,1543.4 306.8,1544.7 307.1,1543.1 307.5,1541.7 307.8,1543.6 308.1,1542.1 308.5,1545.0 308.8,1543.0 309.1,1543.4 309.5,1545.4 309.8,1540.8 310.1,1540.9 310.5,1545.2 310.8,1546.3 311.1,1544.0 311.5,1542.4 311.8,1546.2 312.1,1544.8 312.5,1545.8 312.8,1540.2 313.1,1543.5 313.5,1541.8 313.8,1541.7 314.1,1545.0 314.5,1545.3 314.8,1542.9 315.1,1543.4 315.5,1546.6 315.8,1545.2 316.1,1543.7 316.5,1545.0 316.8,1544.2 317.1,1541.6 317.5,1543.1 317.8,1544.7 318.1,1545.4 318.5,1541.9 318.8,1542.7 319.1,1543.1 319.5,1541.4 319.8,1546.6 320.1,1545.3 320.5,1547.1 320.8,1540.2 321.1,1543.0 321.5,1548.2 321.8,1541.9 322.1,1541.1 322.5,1545.2 322.8,1547.9 323.1,1546.1 323.5,1543.0 323.8,1546.1 324.1,1545.8 324.5,1545.6 324.8,1545.9 325.1,1546.8 325.5,1547.5 325.8,1548.0 326.1,1547.4 326.5,1545.1 326.8,1541.8 327.1,1546.5 327.5,1542.5 327.8,1550.0 328.1,1543.3 328.5,1542.0 328.8,1542.0 329.1,1546.5 329.5,1546.3 329.8,1547.0 330.1,1546.3 330.5,1544.3 330.8,1547.4 331.1,1544.5 331.5,1542.9 331.8,1547.7 332.1,1547.0 332.5,1544.1 332.8,1545.5 333.1,1548.1 333.5,1547.9 333.8,1544.0 334.1,1548.3 334.5,1541.0 334.8,1546.3 335.1,1546.9 335.5,1545.9 335.8,1546.4 336.1,1543.0 336.5,1546.0 336.8,1547.2 337.1,1544.4 337.5,1546.5 337.8,1545.9 338.1,1541.8 338.5,1545.1 338.8,1547.5 339.1,1543.3 339.5,1546.4 339.8,1547.0 340.1,1543.8 340.5,1545.9 340.8,1548.1 341.1,1547.8 341.5,1544.4 341.8,1548.4 342.1,1547.1 342.5,1546.7 342.8,1549.4 343.1,1547.9 343.5,1547.2 343.8,1548.4 344.1,1547.8 344.5,1549.0 344.8,1546.3 345.1,1543.0 345.5,1549.6 345.8,1548.1 346.1,1547.6 346.5,1546.6 346.8,1546.4 347.1,1546.7 347.5,1544.7 347.8,1548.1 348.1,1546.7 348.5,1544.7 348.8,1547.1 349.1,1545.9 349.5,1546.5 349.8,1547.7 350.1,1551.9 350.5,1544.5 350.8,1547.4 351.1,1548.0 351.5,1547.5 351.8,1549.6 352.1,1545.8 352.5,1546.0 352.8,1546.6 353.1,1544.0 353.5,1548.8 353.8,1544.2 354.1,1547.8 354.5,1549.1 354.8,1545.1 355.1,1546.4 355.5,1546.3 355.8,1550.1 356.1,1547.2 356.5,1543.3 356.8,1548.9 357.1,1548.8 357.5,1542.8 357.8,1541.4 358.1,1551.9 358.5,1546.9 358.8,1542.6 359.1,1548.9 359.5,1549.6 359.8,1542.1 360.1,1549.3 360.5,1548.2 360.8,1546.8 361.1,1545.4 361.5,1547.6 361.8,1545.2 362.1,1547.2 362.5,1546.3 362.8,1546.0 363.1,1547.9 363.5,1548.8 363.8,1548.6 364.1,1547.8 364.5,1550.2 364.8,1544.4 365.1,1547.0 365.5,1547.3 365.8,1549.3 366.1,1542.4 366.5,1546.1 366.8,1546.3 367.1,1547.3 367.5,1551.4 367.8,1547.4 368.1,1546.8 368.5,1547.8 368.8,1548.9 369.1,1546.6 369.5,1550.3 369.8,1544.6 370.1,1549.5 370.5,1548.4 370.8,1549.0 371.1,1550.1 371.5,1546.5 371.8,1547.9 372.1,1547.6 372.5,1545.8 372.8,1545.5 373.1,1545.5 373.5,1548.7 373.8,1542.5 374.1,1544.5 374.5,1547.2 374.8,1549.7 375.1,1546.9 375.5,1549.6 375.8,1547.0 376.1,1546.1 376.5,1544.0 376.8,1547.5 377.1,1550.6 377.5,1547.3 377.8,1545.1 378.1,1548.3 378.5,1544.4 378.8,1544.9 379.1,1549.4 379.5,1548.0 379.8,1549.1 380.1,1547.7 380.5,1547.0 380.8,1547.5 381.1,1546.6 381.5,1549.3 381.8,1544.7 382.1,1543.5 382.5,1545.5 382.8,1549.0 383.1,1546.2 383.5,1542.7 383.8,1552.9 384.1,1545.4 384.5,1546.9 384.8,1548.4 385.1,1548.0 385.5,1546.9 385.8,1544.2 386.1,1548.3 386.5,1545.3 386.8,1546.9 387.1,1548.8 387.5,1546.5 387.8,1543.7 388.1,1546.1 388.5,1548.5 388.8,1548.7 389.1,1544.8 389.5,1547.4 389.8,1547.9 390.1,1549.5 390.5,1548.2 390.8,1547.7 391.1,1546.8 391.5,1548.3 391.8,1548.9 392.1,1547.1 392.5,1546.8 392.8,1550.8 393.1,1547.3 393.5,1545.8 393.8,1548.7 394.1,1544.9 394.5,1545.3 394.8,1549.2 395.1,1547.5 395.5,1549.0 395.8,1549.0 396.1,1545.9 396.5,1548.4 396.8,1546.7 397.1,1547.9 397.5,1547.9 397.8,1547.3 398.1,1544.9 398.5,1548.0 398.8,1547.5 399.1,1548.5 399.5,1545.4 399.8,1547.9 400.2,1547.0 400.5,1546.6 400.8,1546.9 401.2,1547.0 401.5,1544.8 401.8,1546.4 402.2,1546.6 402.5,1548.4 402.8,1547.2 403.2,1550.3 403.5,1548.7 403.8,1548.1 404.2,1547.9 404.5,1544.7 404.8,1548.2 405.2,1550.0 405.5,1545.5 405.8,1550.1 406.2,1548.7 406.5,1548.0 406.8,1546.6 407.2,1547.5 407.5,1545.9 407.8,1547.4 408.2,1547.5 408.5,1547.5 408.8,1545.0 409.2,1549.2 409.5,1546.1 409.8,1548.2 410.2,1548.5 410.5,1546.9 410.8,1552.2 411.2,1547.6 411.5,1548.1 411.8,1546.8 412.2,1547.9 412.5,1544.8 412.8,1548.5 413.2,1546.5 413.5,1546.2 413.8,1548.6 414.2,1548.9 414.5,1546.2 414.8,1545.0 415.2,1543.0 415.5,1545.0 415.8,1547.9 416.2,1548.1 416.5,1544.3 416.8,1546.8 417.2,1548.7 417.5,1545.1 417.8,1545.4 418.2,1544.6 418.5,1547.1 418.8,1542.4 419.2,1545.7 419.5,1546.7 419.8,1545.5 420.2,1547.3 420.5,1546.4 420.8,1543.9 421.2,1542.7 421.5,1542.2 421.8,1544.8 422.2,1543.1 422.5,1543.1 422.8,1540.4 423.2,1543.6 423.5,1542.1 423.8,1540.8 424.2,1535.7 424.5,1541.2 424.8,1535.7 425.2,1529.3 425.5,1530.0 425.8,1524.0 426.2,1518.2 426.5,1513.3 426.8,1511.0 427.2,1507.1 427.5,1505.6 427.8,1506.1 428.2,1508.1 428.5,1515.3 428.8,1519.2 429.2,1523.9 429.5,1529.4 429.8,1534.8 430.2,1532.9 430.5,1538.2 430.8,1536.6 431.2,1541.1 431.5,1541.9 431.8,1541.6 432.2,1542.8 432.5,1541.5 432.8,1543.0 433.2,1546.0 433.5,1546.0 433.8,1549.3 434.2,1543.2 434.5,1544.6 434.8,1545.9 435.2,1546.1 435.5,1545.2 435.8,1545.5 436.2,1546.3 436.5,1549.1 436.8,1546.5 437.2,1545.4 437.5,1547.6 437.8,1542.0 438.2,1545.5 438.5,1546.0 438.8,1547.9 439.2,1542.9 439.5,1547.0 439.8,1545.4 440.2,1549.5 440.5,1549.2 440.8,1546.8 441.2,1548.6 441.5,1545.5 441.8,1548.2 442.2,1548.3 442.5,1549.9 442.8,1547.1 443.2,1543.7 443.5,1549.5 443.8,1545.9 444.2,1547.0 444.5,1547.3 444.8,1551.3 445.2,1548.0 445.5,1550.4 445.8,1548.3 446.2,1545.4 446.5,1549.1 446.8,1549.2 447.2,1547.1 447.5,1545.2 447.8,1553.8 448.2,1552.4 448.5,1549.1 448.8,1549.2 449.2,1550.2 449.5,1549.5 449.8,1545.5 450.2,1545.7 450.5,1550.0 450.8,1551.1 451.2,1550.5 451.5,1550.1 451.8,1548.4 452.2,1550.3 452.5,1551.5 452.8,1549.5 453.2,1550.9 453.5,1550.9 453.8,1547.1 454.2,1550.8 454.5,1547.1 454.8,1546.8 455.2,1551.7 455.5,1545.4 455.8,1548.2 456.2,1550.4 456.5,1549.4 456.8,1547.9 457.2,1546.8 457.5,1549.6 457.8,1549.7 458.2,1548.5 458.5,1546.8 458.8,1545.9 459.2,1548.7 459.5,1548.6 459.8,1550.3 460.2,1548.1 460.5,1550.5 460.8,1546.4 461.2,1545.4 461.5,1550.6 461.8,1548.0 462.2,1547.2 462.5,1548.5 462.8,1546.4 463.2,1548.1 463.5,1546.1 463.8,1549.2 464.2,1547.7 464.5,1548.7 464.8,1548.9 465.2,1549.7 465.5,1545.5 465.8,1549.2 466.2,1548.4 466.5,1546.7" fill="none" stroke="#159447" stroke-width="2.8" stroke-linejoin="round" />
<text x="75.8" y="1379.3" font-size="28" text-anchor="start" fill="#111" >Si/WS<tspan font-size="20" dy="9">2</tspan><tspan dy="-9">/Cu</tspan></text>
<text x="75.8" y="1411.7" font-size="28" text-anchor="start" fill="#111" >annealed</text>
<text x="204.5" y="1429.0" font-size="24.5" text-anchor="start" fill="#111" textLength="41" lengthAdjust="spacingAndGlyphs">(111)</text>
<text x="257.6" y="1417.4" font-size="24.5" text-anchor="start" fill="#111" >(200)</text>
<text x="364.6" y="1366.1" font-size="24.5" text-anchor="start" fill="#111" >(220)</text>
<text x="75.8" y="1494.2" font-size="28" text-anchor="start" fill="#111" >Si/WS<tspan font-size="20" dy="9">2</tspan><tspan dy="-9">/Cu</tspan></text>
<text x="75.8" y="1526.0" font-size="28" text-anchor="start" fill="#111" >as-dep.</text>
<text transform="translate(48.5,1540) rotate(-90)" font-size="28" fill="#111">Intensity (a.u.)</text>
<text x="66.4" y="1596.5" font-size="23.5" text-anchor="middle" fill="#111" >20</text>
<text x="133.1" y="1596.5" font-size="23.5" text-anchor="middle" fill="#111" >30</text>
<text x="199.8" y="1596.5" font-size="23.5" text-anchor="middle" fill="#111" >40</text>
<text x="266.5" y="1596.5" font-size="23.5" text-anchor="middle" fill="#111" >50</text>
<text x="333.1" y="1596.5" font-size="23.5" text-anchor="middle" fill="#111" >60</text>
<text x="399.8" y="1596.5" font-size="23.5" text-anchor="middle" fill="#111" >70</text>
<text x="466.5" y="1596.5" font-size="23.5" text-anchor="middle" fill="#111" >80</text>
<text x="266.0" y="1638.0" font-size="28" text-anchor="middle" fill="#111" >2<tspan font-family="Liberation Serif" font-style="italic">θ</tspan> (°)</text>
<rect x="603.1" y="1222.3" width="333.7" height="85.5" fill="url(#gSiO2)" />
<rect x="603.1" y="1307.4" width="333.7" height="115.0" fill="url(#gSi)" />
<rect x="603.1" y="1422.3" width="333.0" height="39.5" fill="url(#gAl)" />
<polyline points="539.5,1143 539.5,1257" fill="none" stroke="#111" stroke-width="3.8"/>
<polyline points="539.5,1271.5 539.5,1443 603,1443" fill="none" stroke="#111" stroke-width="3.8"/>
<line x1="519.8" y1="1257.0" x2="561.0" y2="1257.0" stroke="#111" stroke-width="3.8" />
<line x1="527.0" y1="1271.5" x2="552.0" y2="1271.5" stroke="#111" stroke-width="3.8" />
<polygon points="532.3,1132.5 699.4,1132.5 710,1188 701,1172 689,1143.2 532.3,1143.2" fill="#666"/>
<rect x="695.0" y="1190.0" width="33.8" height="23.3" fill="url(#gCuG)" />
<rect x="687.9" y="1213.3" width="47.4" height="9.7" fill="url(#gGr)" />
<rect x="809.6" y="1190.0" width="34.2" height="23.3" fill="url(#gCuG)" />
<rect x="803.9" y="1213.3" width="46.3" height="9.7" fill="url(#gGr)" />
<line x1="737.0" y1="1065.0" x2="710.0" y2="1156.5" stroke="#111" stroke-width="1.5" />
<line x1="834.8" y1="1131.4" x2="819.0" y2="1185.0" stroke="#111" stroke-width="1.5" />
<line x1="858.5" y1="1185.0" x2="851.0" y2="1210.0" stroke="#111" stroke-width="1.5" />
<text x="636.5" y="1048.0" font-size="28" text-anchor="start" fill="#111" >Electrical probe</text>
<text x="787.0" y="1112.7" font-size="28" text-anchor="start" fill="#111" >Cu gate</text>
<text x="842.0" y="1172.0" font-size="28" text-anchor="start" fill="#111" >Barrier film</text>
<text x="706.5" y="1267.0" font-size="28" text-anchor="start" fill="#111" >SiO<tspan font-size="20" dy="7">2|100 nm</tspan></text>
<text x="704.7" y="1371.0" font-size="28" text-anchor="start" fill="#111" >Si (p-type)</text>
<text x="758.0" y="1450.0" font-size="28" text-anchor="start" fill="#111" >Al</text>
<line x1="1168.8" y1="1001.0" x2="1168.8" y2="1445.5" stroke="#c8c8c8" stroke-width="2" stroke-dasharray="9.6,6"/>
<line x1="1451.1" y1="1001.0" x2="1451.1" y2="1445.5" stroke="#c8c8c8" stroke-width="2" stroke-dasharray="9.6,6"/>
<path d="M1108.0,1030.5 L1141.3,1059.3 M1161.4,1076.0 L1193.9,1106.4 M1213.7,1123.4 L1246.1,1153.1 M1265.1,1171.7 L1297.5,1200.6 M1316.5,1219.6 L1348.2,1250.0 M1368.0,1269.0 L1398.8,1298.3 M1418.6,1318.1 L1447.1,1345.0 M1468.8,1366.8 L1496.5,1398.4 M1517.3,1416.8 L1530.0,1430.0" fill="none" stroke="#13964a" stroke-width="2"/>
<path d="M1108.0,1114.7 L1144.4,1138.5 M1166.2,1153.1 L1203.8,1175.7 M1225.5,1189.5 L1263.1,1215.2 M1284.9,1228.3 L1320.5,1254.0 M1342.3,1269.0 L1377.9,1295.5 M1399.6,1310.2 L1435.2,1335.1 M1455.0,1349.0 L1490.6,1376.7 M1514.4,1393.5 L1549.0,1420.3" fill="none" stroke="#f0672d" stroke-width="2"/>
<line x1="1451.1" y1="1332.9" x2="1451.1" y2="1345.3" stroke="#f0672d" stroke-width="1.6" />
<line x1="1446.7" y1="1332.9" x2="1455.5" y2="1332.9" stroke="#f0672d" stroke-width="2" />
<line x1="1446.7" y1="1345.3" x2="1455.5" y2="1345.3" stroke="#f0672d" stroke-width="2" />
<ellipse cx="1451.1" cy="1338.5" rx="2.2" ry="3.2" fill="#f0672d"/>
<line x1="1477.6" y1="1360.1" x2="1477.6" y2="1365.4" stroke="#f0672d" stroke-width="1.6" />
<line x1="1473.2" y1="1360.1" x2="1482.0" y2="1360.1" stroke="#f0672d" stroke-width="2" />
<line x1="1473.2" y1="1365.4" x2="1482.0" y2="1365.4" stroke="#f0672d" stroke-width="2" />
<ellipse cx="1477.6" cy="1362.8" rx="2.2" ry="3.2" fill="#f0672d"/>
<line x1="1503.9" y1="1387.3" x2="1503.9" y2="1391.5" stroke="#f0672d" stroke-width="1.6" />
<line x1="1499.5" y1="1387.3" x2="1508.3" y2="1387.3" stroke="#f0672d" stroke-width="2" />
<line x1="1499.5" y1="1391.5" x2="1508.3" y2="1391.5" stroke="#f0672d" stroke-width="2" />
<ellipse cx="1503.9" cy="1389.4" rx="2.2" ry="3.2" fill="#f0672d"/>
<line x1="1529.7" y1="1398.8" x2="1529.7" y2="1409.5" stroke="#f0672d" stroke-width="1.6" />
<line x1="1525.3" y1="1398.8" x2="1534.1" y2="1398.8" stroke="#f0672d" stroke-width="2" />
<line x1="1525.3" y1="1409.5" x2="1534.1" y2="1409.5" stroke="#f0672d" stroke-width="2" />
<ellipse cx="1529.7" cy="1404.2" rx="2.2" ry="3.2" fill="#f0672d"/>
<line x1="1555.5" y1="1410.7" x2="1555.5" y2="1420.1" stroke="#f0672d" stroke-width="1.6" />
<line x1="1551.1" y1="1410.7" x2="1559.9" y2="1410.7" stroke="#f0672d" stroke-width="2" />
<line x1="1551.1" y1="1420.1" x2="1559.9" y2="1420.1" stroke="#f0672d" stroke-width="2" />
<ellipse cx="1555.5" cy="1415.4" rx="2.2" ry="3.2" fill="#f0672d"/>
<line x1="1424.3" y1="1318.8" x2="1424.3" y2="1340.6" stroke="#13964a" stroke-width="1.6" />
<line x1="1419.9" y1="1318.8" x2="1428.7" y2="1318.8" stroke="#13964a" stroke-width="2" />
<line x1="1419.9" y1="1340.6" x2="1428.7" y2="1340.6" stroke="#13964a" stroke-width="2" />
<ellipse cx="1424.3" cy="1329.7" rx="2.2" ry="3.2" fill="#13964a"/>
<line x1="1451.1" y1="1341.7" x2="1451.1" y2="1353.6" stroke="#13964a" stroke-width="1.6" />
<line x1="1446.7" y1="1341.7" x2="1455.5" y2="1341.7" stroke="#13964a" stroke-width="2" />
<line x1="1446.7" y1="1353.6" x2="1455.5" y2="1353.6" stroke="#13964a" stroke-width="2" />
<ellipse cx="1451.1" cy="1347.7" rx="2.2" ry="3.2" fill="#13964a"/>
<line x1="1477.6" y1="1367.4" x2="1477.6" y2="1377.4" stroke="#13964a" stroke-width="1.6" />
<line x1="1473.2" y1="1367.4" x2="1482.0" y2="1367.4" stroke="#13964a" stroke-width="2" />
<line x1="1473.2" y1="1377.4" x2="1482.0" y2="1377.4" stroke="#13964a" stroke-width="2" />
<ellipse cx="1477.6" cy="1372" rx="2.2" ry="3.2" fill="#13964a"/>
<line x1="1503.9" y1="1403.2" x2="1503.9" y2="1409.1" stroke="#13964a" stroke-width="1.6" />
<line x1="1499.5" y1="1403.2" x2="1508.3" y2="1403.2" stroke="#13964a" stroke-width="2" />
<line x1="1499.5" y1="1409.1" x2="1508.3" y2="1409.1" stroke="#13964a" stroke-width="2" />
<ellipse cx="1503.9" cy="1406.1" rx="2.2" ry="3.2" fill="#13964a"/>
<line x1="1529.7" y1="1428.7" x2="1529.7" y2="1430.5" stroke="#13964a" stroke-width="1.6" />
<line x1="1525.3" y1="1428.7" x2="1534.1" y2="1428.7" stroke="#13964a" stroke-width="2" />
<line x1="1525.3" y1="1430.5" x2="1534.1" y2="1430.5" stroke="#13964a" stroke-width="2" />
<ellipse cx="1529.7" cy="1429.5" rx="2.2" ry="3.2" fill="#13964a"/>
<rect x="1096.5" y="1001" width="496.5" height="444.5" fill="none" stroke="#111" stroke-width="2.2"/>
<line x1="1096.5" y1="1445.5" x2="1096.5" y2="1437.5" stroke="#111" stroke-width="2" />
<text x="1096.5" y="1476.0" font-size="22.5" text-anchor="middle" fill="#111" >1.89</text>
<line x1="1206.8" y1="1445.5" x2="1206.8" y2="1437.5" stroke="#111" stroke-width="2" />
<text x="1206.8" y="1476.0" font-size="22.5" text-anchor="middle" fill="#111" >1.91</text>
<line x1="1317.2" y1="1445.5" x2="1317.2" y2="1437.5" stroke="#111" stroke-width="2" />
<text x="1317.2" y="1476.0" font-size="22.5" text-anchor="middle" fill="#111" >1.93</text>
<line x1="1427.5" y1="1445.5" x2="1427.5" y2="1437.5" stroke="#111" stroke-width="2" />
<text x="1427.5" y="1476.0" font-size="22.5" text-anchor="middle" fill="#111" >1.95</text>
<line x1="1537.8" y1="1445.5" x2="1537.8" y2="1437.5" stroke="#111" stroke-width="2" />
<text x="1537.8" y="1476.0" font-size="22.5" text-anchor="middle" fill="#111" >1.97</text>
<line x1="1096.5" y1="1445.5" x2="1103.5" y2="1445.5" stroke="#111" stroke-width="2" />
<text x="1086.0" y="1453.0" font-size="23.5" text-anchor="end" fill="#111" >0</text>
<line x1="1096.5" y1="1334.4" x2="1103.5" y2="1334.4" stroke="#111" stroke-width="2" />
<text x="1086.0" y="1341.9" font-size="23.5" text-anchor="end" fill="#111" >2</text>
<line x1="1096.5" y1="1223.2" x2="1103.5" y2="1223.2" stroke="#111" stroke-width="2" />
<text x="1086.0" y="1230.8" font-size="23.5" text-anchor="end" fill="#111" >4</text>
<line x1="1096.5" y1="1112.1" x2="1103.5" y2="1112.1" stroke="#111" stroke-width="2" />
<text x="1086.0" y="1119.6" font-size="23.5" text-anchor="end" fill="#111" >6</text>
<line x1="1096.5" y1="1001.0" x2="1103.5" y2="1001.0" stroke="#111" stroke-width="2" />
<text x="1086.0" y="1008.5" font-size="23.5" text-anchor="end" fill="#111" >8</text>
<line x1="1108.0" y1="1001.0" x2="1108.0" y2="1009.0" stroke="#111" stroke-width="2" />
<text x="1108.0" y="987.9" font-size="22.5" text-anchor="middle" fill="#111" >7.8</text>
<line x1="1168.8" y1="1001.0" x2="1168.8" y2="1009.0" stroke="#111" stroke-width="2" />
<text x="1168.8" y="987.9" font-size="22.5" text-anchor="middle" fill="#111" >8.0</text>
<line x1="1228.0" y1="1001.0" x2="1228.0" y2="1009.0" stroke="#111" stroke-width="2" />
<text x="1228.0" y="987.9" font-size="22.5" text-anchor="middle" fill="#111" >8.2</text>
<line x1="1286.0" y1="1001.0" x2="1286.0" y2="1009.0" stroke="#111" stroke-width="2" />
<text x="1286.0" y="987.9" font-size="22.5" text-anchor="middle" fill="#111" >8.4</text>
<line x1="1341.9" y1="1001.0" x2="1341.9" y2="1009.0" stroke="#111" stroke-width="2" />
<text x="1341.9" y="987.9" font-size="22.5" text-anchor="middle" fill="#111" >8.6</text>
<line x1="1397.3" y1="1001.0" x2="1397.3" y2="1009.0" stroke="#111" stroke-width="2" />
<text x="1397.3" y="987.9" font-size="22.5" text-anchor="middle" fill="#111" >8.8</text>
<line x1="1451.1" y1="1001.0" x2="1451.1" y2="1009.0" stroke="#111" stroke-width="2" />
<text x="1451.1" y="987.9" font-size="22.5" text-anchor="middle" fill="#111" >9.0</text>
<line x1="1503.7" y1="1001.0" x2="1503.7" y2="1009.0" stroke="#111" stroke-width="2" />
<text x="1503.7" y="987.9" font-size="22.5" text-anchor="middle" fill="#111" >9.2</text>
<line x1="1555.5" y1="1001.0" x2="1555.5" y2="1009.0" stroke="#111" stroke-width="2" />
<text x="1555.5" y="987.9" font-size="22.5" text-anchor="middle" fill="#111" >9.4</text>
<text x="1344.5" y="947.4" font-size="28" text-anchor="middle" fill="#111" >Electrical stress (MV cm<tspan font-size="17" dy="-11">−1</tspan><tspan dy="11">)</tspan></text>
<line x1="1261.4" y1="1046.1" x2="1261.4" y2="1075.3" stroke="#f0672d" stroke-width="1.6" />
<line x1="1258.1" y1="1046.1" x2="1264.7" y2="1046.1" stroke="#f0672d" stroke-width="2" />
<line x1="1258.1" y1="1075.3" x2="1264.7" y2="1075.3" stroke="#f0672d" stroke-width="2" />
<ellipse cx="1261.4" cy="1060.7" rx="2.2" ry="3.2" fill="#f0672d"/>
<line x1="1261.4" y1="1089.0" x2="1261.4" y2="1118.0" stroke="#13964a" stroke-width="1.6" />
<line x1="1258.1" y1="1089.0" x2="1264.7" y2="1089.0" stroke="#13964a" stroke-width="2" />
<line x1="1258.1" y1="1118.0" x2="1264.7" y2="1118.0" stroke="#13964a" stroke-width="2" />
<ellipse cx="1261.4" cy="1103.5" rx="2.2" ry="3.2" fill="#13964a"/>
<text x="1280.0" y="1070.0" font-size="28" text-anchor="start" fill="#111" >Reference - no barrier</text>
<text x="1280.0" y="1112.8" font-size="28" text-anchor="start" fill="#111" >Single-layer WS<tspan font-size="20" dy="9">2</tspan></text>
<text transform="translate(1041,1224.5) rotate(-90)" font-size="28" text-anchor="middle" fill="#111">log<tspan font-size="20" dy="8">10</tspan><tspan dy="-8">[</tspan><tspan font-style="italic">τ</tspan> (s)]</text>
<text x="1344.5" y="1519.0" font-size="28" text-anchor="middle" fill="#111" >log<tspan font-size="20" dy="8">10</tspan><tspan dy="-8">[</tspan><tspan font-style="italic">V</tspan> (V)]</text>
<line x1="1778.3" y1="1001.6" x2="1778.3" y2="1443.1" stroke="#c8c8c8" stroke-width="2" stroke-dasharray="9.6,6"/>
<line x1="1921.0" y1="1001.6" x2="1921.0" y2="1443.1" stroke="#c8c8c8" stroke-width="2" stroke-dasharray="9.6,6"/>
<line x1="2063.7" y1="1001.6" x2="2063.7" y2="1443.1" stroke="#c8c8c8" stroke-width="2" stroke-dasharray="9.6,6"/>
<polyline points="1744.1,1420.7 1744.8,1420.1 1745.6,1419.6 1746.3,1419.0 1747.1,1418.4 1747.8,1417.8 1748.6,1417.2 1749.3,1416.6 1750.1,1415.9 1750.9,1415.3 1751.6,1414.6 1752.4,1413.9 1753.1,1413.2 1753.9,1412.5 1754.6,1411.8 1755.4,1411.0 1756.2,1410.2 1756.9,1409.4 1757.7,1408.6 1758.4,1407.8 1759.2,1407.0 1759.9,1406.1 1760.7,1405.2 1761.4,1404.3 1762.2,1403.4 1763.0,1402.4 1763.7,1401.5 1764.5,1400.5 1765.2,1399.5 1766.0,1398.5 1766.7,1397.4 1767.5,1396.3 1768.3,1395.2 1769.0,1394.1 1769.8,1392.9 1770.5,1391.8 1771.3,1390.6 1772.0,1389.3 1772.8,1388.1 1773.5,1386.8 1774.3,1385.5 1775.1,1384.2 1775.8,1382.8 1776.6,1381.4 1777.3,1380.0 1778.1,1378.5 1778.8,1377.0 1779.6,1375.5 1780.4,1374.0 1781.1,1372.4 1781.9,1370.8 1782.6,1369.1 1783.4,1367.5 1784.1,1365.7 1784.9,1364.0 1785.6,1362.2 1786.4,1360.4 1787.2,1358.5 1787.9,1356.7 1788.7,1354.7 1789.4,1352.8 1790.2,1350.8 1790.9,1348.7 1791.7,1346.7 1792.5,1344.5 1793.2,1342.4 1794.0,1340.2 1794.7,1338.0 1795.5,1335.7 1796.2,1333.4 1797.0,1331.0 1797.8,1328.6 1798.5,1326.2 1799.3,1323.7 1800.0,1321.2 1800.8,1318.6 1801.5,1316.0 1802.3,1313.3 1803.0,1310.6 1803.8,1307.9 1804.6,1305.1 1805.3,1302.3 1806.1,1299.4 1806.8,1296.5 1807.6,1293.5 1808.3,1290.5 1809.1,1287.5 1809.9,1284.4 1810.6,1281.3 1811.4,1278.1 1812.1,1274.9 1812.9,1271.7 1813.6,1268.4 1814.4,1265.0 1815.1,1261.7 1815.9,1258.3 1816.7,1254.8 1817.4,1251.3 1818.2,1247.8 1818.9,1244.2 1819.7,1240.6 1820.4,1237.0 1821.2,1233.3 1822.0,1229.6 1822.7,1225.9 1823.5,1222.1 1824.2,1218.3 1825.0,1214.5 1825.7,1210.7 1826.5,1206.8 1827.2,1202.9 1828.0,1199.0 1828.8,1195.1 1829.5,1191.2 1830.3,1187.2 1831.0,1183.2 1831.8,1179.3 1832.5,1175.3 1833.3,1171.3 1834.1,1167.3 1834.8,1163.3 1835.6,1159.3 1836.3,1155.3 1837.1,1151.3 1837.8,1147.3 1838.6,1143.3 1839.3,1139.3 1840.1,1135.4 1840.9,1131.5 1841.6,1127.6 1842.4,1123.7 1843.1,1119.8 1843.9,1116.0 1844.6,1112.2 1845.4,1108.5 1846.2,1104.7 1846.9,1101.1 1847.7,1097.4 1848.4,1093.8 1849.2,1090.3 1849.9,1086.8 1850.7,1083.4 1851.4,1080.0 1852.2,1076.7 1853.0,1073.5 1853.7,1070.3 1854.5,1067.2 1855.2,1064.1 1856.0,1061.1 1856.7,1058.2 1857.5,1055.4 1858.3,1052.7 1859.0,1050.0 1859.8,1047.4 1860.5,1044.9 1861.3,1042.4 1862.0,1040.1 1862.8,1037.8 1863.5,1035.6 1864.3,1033.5 1865.1,1031.5 1865.8,1029.5 1866.6,1027.7 1867.3,1025.9 1868.1,1024.2 1868.8,1022.6 1869.6,1021.0 1870.4,1019.6 1871.1,1018.2 1871.9,1016.9 1872.6,1015.7 1873.4,1014.5 1874.1,1013.4 1874.9,1012.4 1875.6,1011.4 1876.4,1010.6 1877.2,1009.7 1877.9,1009.0 1878.7,1008.2 1879.4,1007.6 1880.2,1007.0 1880.9,1006.4 1881.7,1005.9 1882.5,1005.4 1883.2,1005.0 1884.0,1004.6 1884.7,1004.3 1885.5,1003.9 1886.2,1003.7 1887.0,1003.4 1887.8,1003.2 1888.5,1003.0 1889.3,1002.8 1890.0,1002.6 1890.8,1002.5 1891.5,1002.3 1892.3,1002.2 1893.0,1002.1 1893.8,1002.1 1894.6,1002.0 1895.3,1001.9" fill="none" stroke="#f0672d" stroke-width="2" stroke-dasharray="40,24"/>
<polyline points="1814.0,1442.2 1815.1,1442.1 1816.3,1442.1 1817.5,1442.0 1818.6,1442.0 1819.8,1441.9 1821.0,1441.9 1822.1,1441.9 1823.3,1441.8 1824.4,1441.8 1825.6,1441.7 1826.8,1441.6 1827.9,1441.6 1829.1,1441.5 1830.3,1441.5 1831.4,1441.4 1832.6,1441.3 1833.7,1441.2 1834.9,1441.2 1836.1,1441.1 1837.2,1441.0 1838.4,1440.9 1839.6,1440.8 1840.7,1440.8 1841.9,1440.7 1843.1,1440.6 1844.2,1440.5 1845.4,1440.4 1846.5,1440.2 1847.7,1440.1 1848.9,1440.0 1850.0,1439.9 1851.2,1439.8 1852.4,1439.6 1853.5,1439.5 1854.7,1439.3 1855.8,1439.2 1857.0,1439.0 1858.2,1438.9 1859.3,1438.7 1860.5,1438.5 1861.7,1438.3 1862.8,1438.1 1864.0,1437.9 1865.1,1437.7 1866.3,1437.5 1867.5,1437.3 1868.6,1437.1 1869.8,1436.8 1871.0,1436.6 1872.1,1436.3 1873.3,1436.0 1874.5,1435.7 1875.6,1435.5 1876.8,1435.1 1877.9,1434.8 1879.1,1434.5 1880.3,1434.2 1881.4,1433.8 1882.6,1433.4 1883.8,1433.0 1884.9,1432.6 1886.1,1432.2 1887.2,1431.8 1888.4,1431.3 1889.6,1430.9 1890.7,1430.4 1891.9,1429.9 1893.1,1429.4 1894.2,1428.8 1895.4,1428.2 1896.5,1427.6 1897.7,1427.0 1898.9,1426.4 1900.0,1425.7 1901.2,1425.0 1902.4,1424.3 1903.5,1423.6 1904.7,1422.8 1905.9,1422.0 1907.0,1421.2 1908.2,1420.3 1909.3,1419.4 1910.5,1418.5 1911.7,1417.5 1912.8,1416.5 1914.0,1415.5 1915.2,1414.4 1916.3,1413.3 1917.5,1412.2 1918.6,1411.0 1919.8,1409.7 1921.0,1408.4 1922.1,1407.1 1923.3,1405.7 1924.5,1404.2 1925.6,1402.7 1926.8,1401.2 1927.9,1399.6 1929.1,1397.9 1930.3,1396.2 1931.4,1394.4 1932.6,1392.6 1933.8,1390.6 1934.9,1388.7 1936.1,1386.6 1937.3,1384.5 1938.4,1382.3 1939.6,1380.0 1940.7,1377.7 1941.9,1375.2 1943.1,1372.7 1944.2,1370.1 1945.4,1367.4 1946.6,1364.7 1947.7,1361.8 1948.9,1358.9 1950.0,1355.8 1951.2,1352.7 1952.4,1349.5 1953.5,1346.1 1954.7,1342.7 1955.9,1339.2 1957.0,1335.5 1958.2,1331.8 1959.4,1327.9 1960.5,1324.0 1961.7,1319.9 1962.8,1315.7 1964.0,1311.4 1965.2,1307.0 1966.3,1302.5 1967.5,1297.9 1968.7,1293.2 1969.8,1288.3 1971.0,1283.4 1972.1,1278.3 1973.3,1273.1 1974.5,1267.8 1975.6,1262.5 1976.8,1257.0 1978.0,1251.4 1979.1,1245.7 1980.3,1239.9 1981.4,1234.1 1982.6,1228.1 1983.8,1222.1 1984.9,1216.0 1986.1,1209.8 1987.3,1203.6 1988.4,1197.3 1989.6,1191.0 1990.8,1184.6 1991.9,1178.2 1993.1,1171.8 1994.2,1165.4 1995.4,1159.0 1996.6,1152.5 1997.7,1146.1 1998.9,1139.8 2000.1,1133.4 2001.2,1127.2 2002.4,1120.9 2003.5,1114.8 2004.7,1108.7 2005.9,1102.8 2007.0,1096.9 2008.2,1091.2 2009.4,1085.6 2010.5,1080.2 2011.7,1074.9 2012.8,1069.8 2014.0,1064.8 2015.2,1060.0 2016.3,1055.4 2017.5,1051.1 2018.7,1046.9 2019.8,1042.9 2021.0,1039.1 2022.2,1035.6 2023.3,1032.2 2024.5,1029.1 2025.6,1026.2 2026.8,1023.5 2028.0,1021.0 2029.1,1018.7 2030.3,1016.6 2031.5,1014.7 2032.6,1012.9 2033.8,1011.4 2034.9,1010.0 2036.1,1008.7 2037.3,1007.6 2038.4,1006.7 2039.6,1005.8 2040.8,1005.1 2041.9,1004.5 2043.1,1004.0 2044.2,1003.5 2045.4,1003.1 2046.6,1002.8" fill="none" stroke="#13964a" stroke-width="2" stroke-dasharray="40,24"/>
<polyline points="1744.6,1443.1 1744.6,1431.2 1783.0,1431.2 1783.0,1417.4 1789.3,1417.4 1789.3,1404.3 1792.1,1404.3 1792.1,1382.6 1793.3,1382.6 1793.3,1352.9 1800.0,1352.9 1800.0,1341.0 1802.0,1341.0 1802.0,1313.3 1804.0,1313.3 1804.0,1301.5 1805.9,1301.5 1805.9,1277.7 1809.1,1277.7 1809.1,1248.1 1810.7,1248.1 1810.7,1236.2 1814.7,1236.2 1814.7,1222.3 1816.6,1222.3 1816.6,1208.5 1819.8,1208.5 1819.8,1194.6 1821.8,1194.6 1821.8,1182.8 1823.8,1182.8 1820.1,1199.7 1820.1,1183.4 1823.6,1183.4 1823.6,1170.3 1833.6,1170.3 1833.6,1144.7 1840.4,1144.7 1840.4,1118.5 1841.1,1118.5 1841.1,1105.4 1845.4,1105.4 1845.4,1092.3 1853.5,1092.3 1853.5,1079.9 1854.4,1079.9 1854.4,1066.8 1855.4,1066.8 1855.4,1053.7 1866.0,1053.7 1866.0,1040.5 1872.3,1040.5 1872.3,1027.7 1887.0,1027.7 1887.0,1014.3 1922.2,1014.3 1922.2,1001.9" fill="none" stroke="#f0672d" stroke-width="2" stroke-linejoin="round" stroke-linejoin="miter"/>
<polyline points="1813.9,1443.1 1813.9,1434.0 1865.3,1434.0 1865.3,1424.1 1880.3,1424.1 1880.3,1414.2 1893.0,1414.2 1893.0,1403.5 1924.6,1403.5 1924.6,1393.2 1930.6,1393.2 1930.6,1382.6 1934.5,1382.6 1934.5,1362.8 1944.4,1362.8 1944.4,1352.9 1946.4,1352.9 1946.4,1343.0 1958.3,1343.0 1958.3,1333.1 1960.2,1333.1 1960.2,1323.2 1968.2,1323.2 1968.2,1313.3 1970.1,1313.3 1970.1,1303.4 1973.3,1303.4 1973.3,1293.5 1976.1,1293.5 1976.1,1283.7 1986.0,1283.7 1986.0,1273.8 1987.9,1273.8 1987.9,1234.2 1989.9,1234.2 1989.9,1214.4 1991.9,1214.4 1991.9,1194.6 1993.9,1194.6 1993.9,1163.0 1995.9,1163.0 1995.9,1143.2 1997.8,1143.2 1997.8,1131.3 2000.6,1131.3 2000.6,1113.5 2005.7,1113.5 2005.7,1103.6 2009.7,1103.6 2009.7,1072.0 2018.8,1072.0 2018.8,1062.1 2023.5,1062.1 2023.5,1052.2 2027.5,1052.2 2027.5,1040.3 2031.5,1040.3 2031.5,1030.5 2059.9,1030.5 2059.9,1020.6 2078.9,1020.6 2078.9,1001.6" fill="none" stroke="#13964a" stroke-width="2" stroke-linejoin="round" stroke-linejoin="miter"/>
<line x1="1833.6" y1="1170.9" x2="1980.0" y2="1170.9" stroke="#000" stroke-width="2.2" />
<polygon points="1990,1170.9 1977,1165.5 1977,1176.3" fill="#000"/>
<text x="1857.0" y="1154.3" font-size="25" text-anchor="start" fill="#111" >~10×</text>
<text x="1745.8" y="1042.3" font-size="24.5" text-anchor="start" fill="#111" >8 MV cm<tspan font-size="16" dy="-11">−1</tspan></text>
<line x1="1988.0" y1="1328.4" x2="2005.7" y2="1328.4" stroke="#f0672d" stroke-width="2" />
<line x1="1988.0" y1="1364.8" x2="2005.7" y2="1364.8" stroke="#13964a" stroke-width="2" />
<text x="2020.8" y="1337.0" font-size="28" text-anchor="start" fill="#111" >Reference</text>
<text x="2020.8" y="1374.6" font-size="28" text-anchor="start" fill="#111" >Single-</text>
<text x="2020.8" y="1406.3" font-size="28" text-anchor="start" fill="#111" >layer WS<tspan font-size="20" dy="9">2</tspan></text>
<polyline points="2162.8,1001.6 1734.7,1001.6 1734.7,1443.1 2162.8,1443.1 2162.8,1001.6" fill="none" stroke="#111" stroke-width="2.2"/>
<line x1="1734.7" y1="1443.1" x2="1739.7" y2="1443.1" stroke="#111" stroke-width="2" />
<text x="1723.7" y="1450.6" font-size="23.5" text-anchor="end" fill="#111" >0</text>
<line x1="1734.7" y1="1354.8" x2="1739.7" y2="1354.8" stroke="#111" stroke-width="2" />
<text x="1723.7" y="1362.3" font-size="23.5" text-anchor="end" fill="#111" >0.2</text>
<line x1="1734.7" y1="1266.5" x2="1739.7" y2="1266.5" stroke="#111" stroke-width="2" />
<text x="1723.7" y="1274.0" font-size="23.5" text-anchor="end" fill="#111" >0.4</text>
<line x1="1734.7" y1="1178.2" x2="1739.7" y2="1178.2" stroke="#111" stroke-width="2" />
<text x="1723.7" y="1185.7" font-size="23.5" text-anchor="end" fill="#111" >0.6</text>
<line x1="1734.7" y1="1089.9" x2="1739.7" y2="1089.9" stroke="#111" stroke-width="2" />
<text x="1723.7" y="1097.4" font-size="23.5" text-anchor="end" fill="#111" >0.8</text>
<line x1="1734.7" y1="1001.6" x2="1739.7" y2="1001.6" stroke="#111" stroke-width="2" />
<text x="1723.7" y="1009.1" font-size="23.5" text-anchor="end" fill="#111" >1.0</text>
<line x1="1746.6" y1="1443.1" x2="1746.6" y2="1438.6" stroke="#111" stroke-width="1.6" />
<line x1="1756.2" y1="1443.1" x2="1756.2" y2="1438.6" stroke="#111" stroke-width="1.6" />
<line x1="1764.5" y1="1443.1" x2="1764.5" y2="1438.6" stroke="#111" stroke-width="1.6" />
<line x1="1771.8" y1="1443.1" x2="1771.8" y2="1438.6" stroke="#111" stroke-width="1.6" />
<line x1="1778.3" y1="1443.1" x2="1778.3" y2="1435.1" stroke="#111" stroke-width="1.6" />
<line x1="1821.3" y1="1443.1" x2="1821.3" y2="1438.6" stroke="#111" stroke-width="1.6" />
<line x1="1846.4" y1="1443.1" x2="1846.4" y2="1438.6" stroke="#111" stroke-width="1.6" />
<line x1="1864.2" y1="1443.1" x2="1864.2" y2="1438.6" stroke="#111" stroke-width="1.6" />
<line x1="1878.0" y1="1443.1" x2="1878.0" y2="1438.6" stroke="#111" stroke-width="1.6" />
<line x1="1889.3" y1="1443.1" x2="1889.3" y2="1438.6" stroke="#111" stroke-width="1.6" />
<line x1="1898.9" y1="1443.1" x2="1898.9" y2="1438.6" stroke="#111" stroke-width="1.6" />
<line x1="1907.2" y1="1443.1" x2="1907.2" y2="1438.6" stroke="#111" stroke-width="1.6" />
<line x1="1914.5" y1="1443.1" x2="1914.5" y2="1438.6" stroke="#111" stroke-width="1.6" />
<line x1="1921.0" y1="1443.1" x2="1921.0" y2="1435.1" stroke="#111" stroke-width="1.6" />
<line x1="1964.0" y1="1443.1" x2="1964.0" y2="1438.6" stroke="#111" stroke-width="1.6" />
<line x1="1989.1" y1="1443.1" x2="1989.1" y2="1438.6" stroke="#111" stroke-width="1.6" />
<line x1="2006.9" y1="1443.1" x2="2006.9" y2="1438.6" stroke="#111" stroke-width="1.6" />
<line x1="2020.7" y1="1443.1" x2="2020.7" y2="1438.6" stroke="#111" stroke-width="1.6" />
<line x1="2032.0" y1="1443.1" x2="2032.0" y2="1438.6" stroke="#111" stroke-width="1.6" />
<line x1="2041.6" y1="1443.1" x2="2041.6" y2="1438.6" stroke="#111" stroke-width="1.6" />
<line x1="2049.9" y1="1443.1" x2="2049.9" y2="1438.6" stroke="#111" stroke-width="1.6" />
<line x1="2057.2" y1="1443.1" x2="2057.2" y2="1438.6" stroke="#111" stroke-width="1.6" />
<line x1="2063.7" y1="1443.1" x2="2063.7" y2="1435.1" stroke="#111" stroke-width="1.6" />
<line x1="2106.7" y1="1443.1" x2="2106.7" y2="1438.6" stroke="#111" stroke-width="1.6" />
<line x1="2131.8" y1="1443.1" x2="2131.8" y2="1438.6" stroke="#111" stroke-width="1.6" />
<line x1="2149.6" y1="1443.1" x2="2149.6" y2="1438.6" stroke="#111" stroke-width="1.6" />
<text x="1781.3" y="1475.5" font-size="23.5" text-anchor="middle" fill="#111" >10<tspan font-size="16" dy="-11">5</tspan></text>
<text x="1924.0" y="1475.5" font-size="23.5" text-anchor="middle" fill="#111" >10<tspan font-size="16" dy="-11">6</tspan></text>
<text x="2066.7" y="1475.5" font-size="23.5" text-anchor="middle" fill="#111" >10<tspan font-size="16" dy="-11">7</tspan></text>
<text transform="translate(1671,1222) rotate(-90)" font-size="28" text-anchor="middle" fill="#111">Count</text>
<text x="1949.0" y="1513.0" font-size="28" text-anchor="middle" fill="#111" ><tspan font-style="italic">t</tspan><tspan font-size="20" dy="8">bd</tspan><tspan dy="-8"> (s)</tspan></text>
</svg>
</body></html>
